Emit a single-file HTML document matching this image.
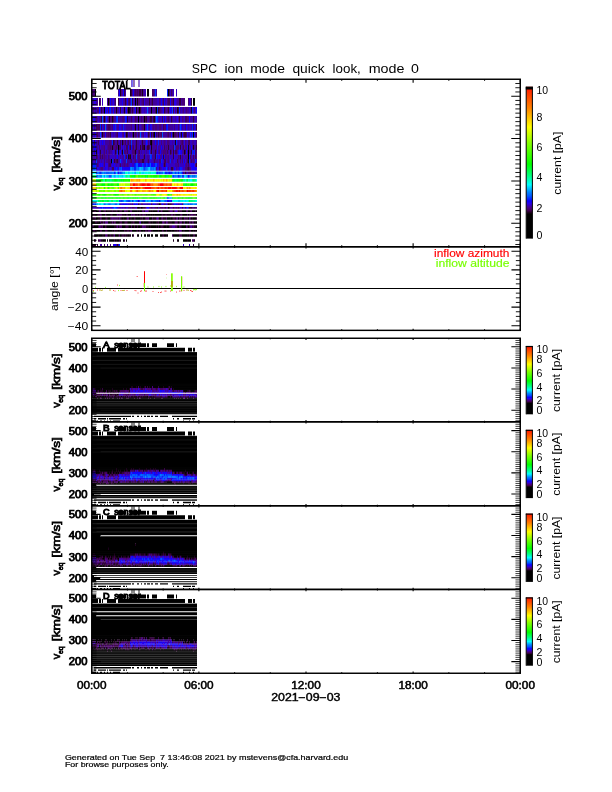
<!DOCTYPE html>
<html><head><meta charset="utf-8"><title>SPC ion mode quick look</title><style>html,body{margin:0;padding:0;background:#fff}body{width:612px;height:792px;overflow:hidden}</style></head><body>
<svg width="612" height="792" viewBox="0 0 612 792" style="display:block;font-family:'Liberation Sans',sans-serif">
<rect width="612" height="792" fill="#fff"/>
<defs><filter id="hb" x="-2%" y="-2%" width="104%" height="104%"><feGaussianBlur stdDeviation="0.4 0"/></filter></defs>
<g filter="url(#hb)">
<path fill="#3500c1" d="M131 80h1v7h-1zM139 80h1v7h-1zM145 89.1h1v7.5h-1zM170 89.1h1v7.5h-1zM173 89.1h1v7.5h-1zM176 89.1h1v7.5h-1zM102 98.1h1v7.6h-1zM112 98.1h1v7.6h-1zM119 98.1h3v7.6h-3zM130 98.1h1v7.6h-1zM133 98.1h2v7.6h-2zM140 98.1h1v7.6h-1zM157 98.1h2v7.6h-2zM166 98.1h1v7.6h-1zM176 98.1h1v7.6h-1zM189 98.1h2v7.6h-2zM92 106.9h1v6.9h-1zM94 106.9h1v6.9h-1zM96 106.9h1v6.9h-1zM100 106.9h1v6.9h-1zM106 106.9h1v6.9h-1zM122 106.9h1v6.9h-1zM125 106.9h1v6.9h-1zM134 106.9h1v6.9h-1zM142 106.9h2v6.9h-2zM145 106.9h2v6.9h-2zM148 106.9h1v6.9h-1zM162 106.9h1v6.9h-1zM169 106.9h1v6.9h-1zM171 106.9h1v6.9h-1zM176 106.9h1v6.9h-1zM181 106.9h1v6.9h-1zM184 106.9h1v6.9h-1zM189 106.9h1v6.9h-1zM193 106.9h1v6.9h-1zM195 106.9h1v6.9h-1zM92 116h1v6.7h-1zM98 116h1v6.7h-1zM107 116h1v6.7h-1zM133 116h1v6.7h-1zM155 116h1v6.7h-1zM158 116h1v6.7h-1zM160 116h2v6.7h-2zM170 116h1v6.7h-1zM173 116h2v6.7h-2zM176 116h1v6.7h-1zM180 116h2v6.7h-2zM184 116h1v6.7h-1zM195 116h1v6.7h-1zM95 124.1h1v6.6h-1zM103 124.1h1v6.6h-1zM106 124.1h1v6.6h-1zM114 124.1h1v6.6h-1zM116 124.1h1v6.6h-1zM121 124.1h1v6.6h-1zM124 124.1h2v6.6h-2zM132 124.1h2v6.6h-2zM136 124.1h2v6.6h-2zM139 124.1h2v6.6h-2zM145 124.1h1v6.6h-1zM148 124.1h1v6.6h-1zM162 124.1h1v6.6h-1zM173 124.1h1v6.6h-1zM175 124.1h3v6.6h-3zM179 124.1h1v6.6h-1zM183 124.1h2v6.6h-2zM187 124.1h1v6.6h-1zM189 124.1h2v6.6h-2zM195 124.1h1v6.6h-1zM92 132h2v5.7h-2zM101 132h1v5.7h-1zM111 132h2v5.7h-2zM114 132h1v5.7h-1zM128 132h1v5.7h-1zM131 132h1v5.7h-1zM137 132h1v5.7h-1zM141 132h1v5.7h-1zM145 132h1v5.7h-1zM147 132h1v5.7h-1zM180 132h1v5.7h-1zM189 132h1v5.7h-1zM191 132h1v5.7h-1zM99 140h1v5.25h-1zM101 140h1v5.25h-1zM103 140h1v5.25h-1zM119 140h1v5.25h-1zM121 140h1v5.25h-1zM126 140h1v5.25h-1zM129 140h1v5.25h-1zM134 140h1v5.25h-1zM139 140h2v5.25h-2zM145 140h1v5.25h-1zM149 140h1v5.25h-1zM160 140h1v5.25h-1zM162 140h1v5.25h-1zM166 140h1v5.25h-1zM170 140h2v5.25h-2zM173 140h2v5.25h-2zM177 140h1v5.25h-1zM179 140h1v5.25h-1zM187 140h1v5.25h-1zM190 140h2v5.25h-2zM194 140h2v5.25h-2zM93 144.9h1v5.15h-1zM98 144.9h1v5.15h-1zM100 144.9h1v5.15h-1zM105 144.9h2v5.15h-2zM125 144.9h1v5.15h-1zM134 144.9h1v5.15h-1zM139 144.9h1v5.15h-1zM145 144.9h1v5.15h-1zM150 144.9h1v5.15h-1zM163 144.9h1v5.15h-1zM175 144.9h1v5.15h-1zM179 144.9h1v5.15h-1zM181 144.9h1v5.15h-1zM184 144.9h1v5.15h-1zM92 149.7h1v4.95h-1zM97 149.7h1v4.95h-1zM101 149.7h2v4.95h-2zM105 149.7h1v4.95h-1zM107 149.7h1v4.95h-1zM112 149.7h1v4.95h-1zM114 149.7h1v4.95h-1zM119 149.7h1v4.95h-1zM128 149.7h4v4.95h-4zM137 149.7h1v4.95h-1zM140 149.7h1v4.95h-1zM142 149.7h2v4.95h-2zM145 149.7h1v4.95h-1zM147 149.7h2v4.95h-2zM152 149.7h1v4.95h-1zM169 149.7h1v4.95h-1zM172 149.7h1v4.95h-1zM174 149.7h1v4.95h-1zM92 154.3h1v4.95h-1zM95 154.3h1v4.95h-1zM98 154.3h1v4.95h-1zM107 154.3h1v4.95h-1zM110 154.3h5v4.95h-5zM116 154.3h1v4.95h-1zM119 154.3h1v4.95h-1zM121 154.3h1v4.95h-1zM131 154.3h2v4.95h-2zM140 154.3h3v4.95h-3zM145 154.3h2v4.95h-2zM149 154.3h1v4.95h-1zM157 154.3h1v4.95h-1zM169 154.3h4v4.95h-4zM175 154.3h3v4.95h-3zM181 154.3h1v4.95h-1zM183 154.3h2v4.95h-2zM192 154.3h1v4.95h-1zM194 154.3h1v4.95h-1zM92 158.9h2v4.45h-2zM100 158.9h1v4.45h-1zM102 158.9h2v4.45h-2zM105 158.9h1v4.45h-1zM113 158.9h1v4.45h-1zM119 158.9h1v4.45h-1zM122 158.9h1v4.45h-1zM132 158.9h2v4.45h-2zM136 158.9h2v4.45h-2zM145 158.9h2v4.45h-2zM149 158.9h1v4.45h-1zM151 158.9h2v4.45h-2zM158 158.9h1v4.45h-1zM163 158.9h1v4.45h-1zM166 158.9h1v4.45h-1zM169 158.9h1v4.45h-1zM173 158.9h1v4.45h-1zM175 158.9h2v4.45h-2zM179 158.9h1v4.45h-1zM181 158.9h1v4.45h-1zM196 158.9h1v4.45h-1zM96 163h1v4h-1zM103 163h1v4h-1zM111 163h1v4h-1zM113 163h1v4h-1zM115 163h1v4h-1zM117 163h2v4h-2zM121 163h1v4h-1zM129 163h1v4h-1zM132 163h2v4h-2zM160 163h1v4h-1zM168 163h7v4h-7zM179 163h5v4h-5zM189 163h1v4h-1zM96 167.1h1v3.6h-1zM99 167.1h1v3.6h-1zM103 167.1h2v3.6h-2zM109 167.1h1v3.6h-1zM111 167.1h1v3.6h-1zM118 167.1h1v3.6h-1zM161 167.1h1v3.6h-1zM170 167.1h1v3.6h-1zM177 167.1h2v3.6h-2zM183 167.1h2v3.6h-2zM184 171.4h1v2.8h-1zM187 171.4h1v2.8h-1zM195 171.4h2v2.8h-2zM120 203.2h1v1.8h-1zM128 203.2h2v1.8h-2zM131 203.2h1v1.8h-1zM140 203.2h1v1.8h-1zM143 203.2h4v1.8h-4zM148 203.2h2v1.8h-2zM152 203.2h1v1.8h-1zM155 203.2h2v1.8h-2zM161 203.2h1v1.8h-1zM163 203.2h1v1.8h-1zM173 203.2h1v1.8h-1zM179 203.2h1v1.8h-1zM92 206.9h4v1.8h-4zM98 206.9h1v1.8h-1zM110 206.9h2v1.8h-2zM118 206.9h1v1.8h-1zM121 206.9h1v1.8h-1zM123 206.9h1v1.8h-1zM126 206.9h2v1.8h-2zM136 206.9h1v1.8h-1zM146 206.9h1v1.8h-1zM180 206.9h2v1.8h-2zM183 206.9h1v1.8h-1zM186 206.9h1v1.8h-1zM176 210.3h1v1.7h-1zM113 244.1h1v1.8h-1zM118 244.1h1v1.8h-1zM183 244.1h1v1.8h-1zM189 244.1h1v1.8h-1z"/>
<path fill="#0905ff" d="M132 80h1v7h-1zM119 89.1h1v7.5h-1zM123 89.1h1v7.5h-1zM133 89.1h1v7.5h-1zM110 98.1h1v7.6h-1zM127 98.1h1v7.6h-1zM161 98.1h1v7.6h-1zM164 98.1h1v7.6h-1zM170 98.1h1v7.6h-1zM99 106.9h1v6.9h-1zM105 106.9h1v6.9h-1zM107 106.9h1v6.9h-1zM109 106.9h1v6.9h-1zM113 106.9h1v6.9h-1zM126 106.9h1v6.9h-1zM170 106.9h1v6.9h-1zM196 106.9h1v6.9h-1zM126 116h1v6.7h-1zM163 116h1v6.7h-1zM189 116h1v6.7h-1zM113 124.1h1v6.6h-1zM166 124.1h1v6.6h-1zM124 132h1v5.7h-1zM171 132h1v5.7h-1zM182 132h1v5.7h-1zM194 132h1v5.7h-1zM102 140h1v5.25h-1zM155 140h1v5.25h-1zM94 144.9h1v5.15h-1zM128 144.9h1v5.15h-1zM131 144.9h1v5.15h-1zM161 144.9h1v5.15h-1zM191 144.9h1v5.15h-1zM160 149.7h1v4.95h-1zM186 149.7h1v4.95h-1zM117 154.3h1v4.95h-1zM159 154.3h1v4.95h-1zM162 154.3h1v4.95h-1zM164 154.3h1v4.95h-1zM92 163h1v4h-1zM134 163h1v4h-1zM139 163h1v4h-1zM148 163h1v4h-1zM151 163h2v4h-2zM193 163h1v4h-1zM122 167.1h1v3.6h-1zM129 167.1h1v3.6h-1zM174 167.1h1v3.6h-1zM179 167.1h1v3.6h-1zM195 167.1h1v3.6h-1zM118 171.4h1v2.8h-1zM169 171.4h1v2.8h-1zM182 171.4h1v2.8h-1zM188 174.9h1v2.8h-1zM138 200.1h1v1.8h-1zM159 200.1h1v1.8h-1zM168 200.1h1v1.8h-1zM123 203.2h1v1.8h-1zM125 203.2h2v1.8h-2zM134 203.2h1v1.8h-1zM136 203.2h1v1.8h-1zM181 203.2h1v1.8h-1zM101 206.9h1v1.8h-1zM103 206.9h1v1.8h-1zM105 206.9h1v1.8h-1zM115 244.1h1v1.8h-1z"/>
<path fill="#43005e" d="M133 80h1v7h-1zM135 89.1h1v7.5h-1zM137 89.1h1v7.5h-1zM152 89.1h1v7.5h-1zM169 89.1h1v7.5h-1zM171 89.1h1v7.5h-1zM115 98.1h1v7.6h-1zM129 98.1h1v7.6h-1zM143 98.1h1v7.6h-1zM163 98.1h1v7.6h-1zM168 98.1h2v7.6h-2zM138 106.9h1v6.9h-1zM155 106.9h1v6.9h-1zM159 106.9h1v6.9h-1zM173 106.9h1v6.9h-1zM113 116h1v6.7h-1zM131 116h1v6.7h-1zM135 116h1v6.7h-1zM141 116h1v6.7h-1zM145 116h1v6.7h-1zM162 116h1v6.7h-1zM168 116h1v6.7h-1zM185 116h2v6.7h-2zM96 124.1h4v6.6h-4zM101 124.1h1v6.6h-1zM108 124.1h2v6.6h-2zM163 124.1h1v6.6h-1zM97 132h1v5.7h-1zM108 132h1v5.7h-1zM117 132h1v5.7h-1zM135 132h1v5.7h-1zM138 132h1v5.7h-1zM156 132h1v5.7h-1zM161 132h1v5.7h-1zM168 132h1v5.7h-1zM174 132h2v5.7h-2zM186 132h1v5.7h-1zM196 132h1v5.7h-1zM94 140h1v5.25h-1zM98 140h1v5.25h-1zM114 140h1v5.25h-1zM120 140h1v5.25h-1zM125 140h1v5.25h-1zM128 140h1v5.25h-1zM182 140h1v5.25h-1zM188 140h2v5.25h-2zM110 144.9h1v5.15h-1zM116 144.9h1v5.15h-1zM119 144.9h2v5.15h-2zM126 144.9h2v5.15h-2zM133 144.9h1v5.15h-1zM149 144.9h1v5.15h-1zM164 144.9h1v5.15h-1zM173 144.9h1v5.15h-1zM183 144.9h1v5.15h-1zM127 149.7h1v4.95h-1zM139 149.7h1v4.95h-1zM167 149.7h1v4.95h-1zM175 149.7h2v4.95h-2zM185 149.7h1v4.95h-1zM195 149.7h1v4.95h-1zM96 154.3h1v4.95h-1zM100 154.3h1v4.95h-1zM102 154.3h1v4.95h-1zM126 154.3h1v4.95h-1zM133 154.3h1v4.95h-1zM190 154.3h1v4.95h-1zM193 154.3h1v4.95h-1zM195 154.3h1v4.95h-1zM116 158.9h1v4.45h-1zM131 158.9h1v4.45h-1zM148 158.9h1v4.45h-1zM154 158.9h1v4.45h-1zM164 158.9h2v4.45h-2zM177 158.9h1v4.45h-1zM187 158.9h1v4.45h-1zM191 158.9h1v4.45h-1zM109 163h2v4h-2zM120 163h1v4h-1zM188 163h1v4h-1zM112 167.1h2v3.6h-2zM159 167.1h1v3.6h-1zM187 167.1h1v3.6h-1zM190 171.4h1v2.8h-1zM151 203.2h1v1.8h-1zM158 203.2h1v1.8h-1zM171 203.2h1v1.8h-1zM132 206.9h2v1.8h-2zM145 206.9h1v1.8h-1zM151 206.9h1v1.8h-1zM155 206.9h2v1.8h-2zM160 206.9h3v1.8h-3zM164 206.9h1v1.8h-1zM176 206.9h1v1.8h-1zM185 206.9h1v1.8h-1zM194 206.9h1v1.8h-1zM100 210.3h1v1.7h-1zM124 210.3h2v1.7h-2zM130 210.3h2v1.7h-2zM142 210.3h2v1.7h-2zM148 210.3h1v1.7h-1zM161 210.3h1v1.7h-1zM172 210.3h1v1.7h-1zM174 210.3h1v1.7h-1zM186 210.3h2v1.7h-2zM191 210.3h1v1.7h-1zM100 214h1v1.8h-1zM105 214h1v1.8h-1zM119 214h3v1.8h-3zM133 214h2v1.8h-2zM143 214h1v1.8h-1zM171 214h2v1.8h-2zM181 214h1v1.8h-1zM187 214h1v1.8h-1zM191 214h2v1.8h-2zM95 217.3h1v2.4h-1zM100 217.3h1v2.4h-1zM111 217.3h1v2.4h-1zM113 217.3h5v2.4h-5zM128 217.3h1v2.4h-1zM146 217.3h2v2.4h-2zM152 217.3h1v2.4h-1zM156 217.3h1v2.4h-1zM158 217.3h1v2.4h-1zM162 217.3h1v2.4h-1zM166 217.3h1v2.4h-1zM176 217.3h1v2.4h-1zM179 217.3h1v2.4h-1zM184 217.3h1v2.4h-1zM100 221.2h1v2.5h-1zM103 221.2h1v2.5h-1zM112 221.2h1v2.5h-1zM114 221.2h1v2.5h-1zM162 221.2h1v2.5h-1zM167 221.2h1v2.5h-1zM175 221.2h2v2.5h-2zM180 221.2h2v2.5h-2zM184 221.2h1v2.5h-1zM189 221.2h1v2.5h-1zM192 221.2h1v2.5h-1zM92 225.3h1v2.6h-1zM100 225.3h1v2.6h-1zM102 225.3h1v2.6h-1zM119 225.3h3v2.6h-3zM131 225.3h1v2.6h-1zM144 225.3h2v2.6h-2zM170 225.3h2v2.6h-2zM175 225.3h2v2.6h-2zM179 225.3h1v2.6h-1zM186 225.3h1v2.6h-1zM193 225.3h1v2.6h-1zM131 230.1h1v1.7h-1zM148 230.1h3v1.7h-3zM181 230.1h1v1.7h-1zM105 234.3h1v2.5h-1zM119 234.3h1v2.5h-1zM172 234.3h1v2.5h-1zM95 239.3h1v2.4h-1zM99 239.3h2v2.4h-2zM192 239.3h2v2.4h-2zM104 244.1h1v1.8h-1z"/>
<path fill="#40009c" d="M134 80h1v7h-1zM138 80h1v7h-1zM118 89.1h1v7.5h-1zM122 89.1h1v7.5h-1zM125 89.1h1v7.5h-1zM132 89.1h1v7.5h-1zM143 89.1h2v7.5h-2zM154 89.1h1v7.5h-1zM156 89.1h1v7.5h-1zM172 89.1h1v7.5h-1zM93 98.1h1v7.6h-1zM96 98.1h2v7.6h-2zM107 98.1h1v7.6h-1zM111 98.1h1v7.6h-1zM114 98.1h1v7.6h-1zM123 98.1h2v7.6h-2zM126 98.1h1v7.6h-1zM136 98.1h1v7.6h-1zM141 98.1h1v7.6h-1zM145 98.1h4v7.6h-4zM150 98.1h1v7.6h-1zM153 98.1h4v7.6h-4zM160 98.1h1v7.6h-1zM162 98.1h1v7.6h-1zM165 98.1h1v7.6h-1zM177 98.1h2v7.6h-2zM181 98.1h1v7.6h-1zM95 106.9h1v6.9h-1zM102 106.9h2v6.9h-2zM111 106.9h2v6.9h-2zM115 106.9h1v6.9h-1zM117 106.9h2v6.9h-2zM123 106.9h1v6.9h-1zM131 106.9h1v6.9h-1zM133 106.9h1v6.9h-1zM137 106.9h1v6.9h-1zM141 106.9h1v6.9h-1zM144 106.9h1v6.9h-1zM149 106.9h2v6.9h-2zM152 106.9h3v6.9h-3zM161 106.9h1v6.9h-1zM166 106.9h1v6.9h-1zM180 106.9h1v6.9h-1zM182 106.9h1v6.9h-1zM185 106.9h1v6.9h-1zM187 106.9h2v6.9h-2zM190 106.9h1v6.9h-1zM95 116h1v6.7h-1zM97 116h1v6.7h-1zM99 116h2v6.7h-2zM103 116h1v6.7h-1zM105 116h1v6.7h-1zM114 116h2v6.7h-2zM119 116h3v6.7h-3zM124 116h1v6.7h-1zM128 116h3v6.7h-3zM132 116h1v6.7h-1zM134 116h1v6.7h-1zM137 116h1v6.7h-1zM139 116h2v6.7h-2zM142 116h1v6.7h-1zM147 116h2v6.7h-2zM152 116h1v6.7h-1zM159 116h1v6.7h-1zM166 116h1v6.7h-1zM169 116h1v6.7h-1zM172 116h1v6.7h-1zM175 116h1v6.7h-1zM178 116h1v6.7h-1zM183 116h1v6.7h-1zM190 116h3v6.7h-3zM194 116h1v6.7h-1zM196 116h1v6.7h-1zM92 124.1h1v6.6h-1zM111 124.1h1v6.6h-1zM117 124.1h2v6.6h-2zM122 124.1h1v6.6h-1zM126 124.1h5v6.6h-5zM134 124.1h1v6.6h-1zM141 124.1h1v6.6h-1zM149 124.1h1v6.6h-1zM152 124.1h1v6.6h-1zM154 124.1h1v6.6h-1zM157 124.1h2v6.6h-2zM161 124.1h1v6.6h-1zM168 124.1h5v6.6h-5zM182 124.1h1v6.6h-1zM188 124.1h1v6.6h-1zM191 124.1h1v6.6h-1zM94 132h1v5.7h-1zM98 132h2v5.7h-2zM113 132h1v5.7h-1zM115 132h1v5.7h-1zM122 132h1v5.7h-1zM125 132h1v5.7h-1zM129 132h2v5.7h-2zM134 132h1v5.7h-1zM139 132h1v5.7h-1zM142 132h1v5.7h-1zM152 132h1v5.7h-1zM157 132h1v5.7h-1zM163 132h4v5.7h-4zM169 132h1v5.7h-1zM177 132h1v5.7h-1zM188 132h1v5.7h-1zM195 132h1v5.7h-1zM96 140h2v5.25h-2zM105 140h4v5.25h-4zM111 140h1v5.25h-1zM115 140h2v5.25h-2zM118 140h1v5.25h-1zM124 140h1v5.25h-1zM132 140h2v5.25h-2zM135 140h1v5.25h-1zM137 140h2v5.25h-2zM141 140h1v5.25h-1zM143 140h2v5.25h-2zM153 140h2v5.25h-2zM156 140h2v5.25h-2zM159 140h1v5.25h-1zM163 140h1v5.25h-1zM165 140h1v5.25h-1zM169 140h1v5.25h-1zM172 140h1v5.25h-1zM178 140h1v5.25h-1zM180 140h1v5.25h-1zM183 140h1v5.25h-1zM186 140h1v5.25h-1zM192 140h2v5.25h-2zM92 144.9h1v5.15h-1zM96 144.9h2v5.15h-2zM101 144.9h3v5.15h-3zM107 144.9h1v5.15h-1zM114 144.9h1v5.15h-1zM117 144.9h1v5.15h-1zM122 144.9h1v5.15h-1zM124 144.9h1v5.15h-1zM137 144.9h2v5.15h-2zM141 144.9h1v5.15h-1zM146 144.9h1v5.15h-1zM152 144.9h4v5.15h-4zM158 144.9h3v5.15h-3zM162 144.9h1v5.15h-1zM165 144.9h1v5.15h-1zM167 144.9h1v5.15h-1zM169 144.9h4v5.15h-4zM189 144.9h2v5.15h-2zM192 144.9h1v5.15h-1zM194 144.9h2v5.15h-2zM99 149.7h1v4.95h-1zM103 149.7h1v4.95h-1zM108 149.7h1v4.95h-1zM110 149.7h2v4.95h-2zM116 149.7h1v4.95h-1zM121 149.7h1v4.95h-1zM126 149.7h1v4.95h-1zM136 149.7h1v4.95h-1zM141 149.7h1v4.95h-1zM144 149.7h1v4.95h-1zM146 149.7h1v4.95h-1zM150 149.7h1v4.95h-1zM153 149.7h2v4.95h-2zM156 149.7h1v4.95h-1zM158 149.7h1v4.95h-1zM161 149.7h2v4.95h-2zM166 149.7h1v4.95h-1zM168 149.7h1v4.95h-1zM177 149.7h1v4.95h-1zM182 149.7h2v4.95h-2zM187 149.7h1v4.95h-1zM189 149.7h2v4.95h-2zM93 154.3h2v4.95h-2zM99 154.3h1v4.95h-1zM101 154.3h1v4.95h-1zM103 154.3h1v4.95h-1zM105 154.3h2v4.95h-2zM109 154.3h1v4.95h-1zM115 154.3h1v4.95h-1zM118 154.3h1v4.95h-1zM120 154.3h1v4.95h-1zM122 154.3h2v4.95h-2zM125 154.3h1v4.95h-1zM134 154.3h1v4.95h-1zM137 154.3h1v4.95h-1zM143 154.3h1v4.95h-1zM147 154.3h2v4.95h-2zM152 154.3h3v4.95h-3zM160 154.3h2v4.95h-2zM166 154.3h2v4.95h-2zM179 154.3h1v4.95h-1zM185 154.3h3v4.95h-3zM191 154.3h1v4.95h-1zM95 158.9h1v4.45h-1zM97 158.9h3v4.45h-3zM101 158.9h1v4.45h-1zM106 158.9h2v4.45h-2zM110 158.9h1v4.45h-1zM118 158.9h1v4.45h-1zM123 158.9h3v4.45h-3zM127 158.9h3v4.45h-3zM134 158.9h1v4.45h-1zM144 158.9h1v4.45h-1zM147 158.9h1v4.45h-1zM153 158.9h1v4.45h-1zM155 158.9h3v4.45h-3zM167 158.9h1v4.45h-1zM171 158.9h2v4.45h-2zM178 158.9h1v4.45h-1zM184 158.9h1v4.45h-1zM186 158.9h1v4.45h-1zM190 158.9h1v4.45h-1zM192 158.9h1v4.45h-1zM194 158.9h1v4.45h-1zM98 163h1v4h-1zM116 163h1v4h-1zM119 163h1v4h-1zM122 163h2v4h-2zM125 163h2v4h-2zM128 163h1v4h-1zM159 163h1v4h-1zM163 163h1v4h-1zM175 163h3v4h-3zM185 163h1v4h-1zM187 163h1v4h-1zM100 167.1h1v3.6h-1zM108 167.1h1v3.6h-1zM156 167.1h1v3.6h-1zM160 167.1h1v3.6h-1zM168 167.1h1v3.6h-1zM173 167.1h1v3.6h-1zM176 167.1h1v3.6h-1zM190 167.1h1v3.6h-1zM186 171.4h1v2.8h-1zM192 171.4h1v2.8h-1zM194 171.4h1v2.8h-1zM130 203.2h1v1.8h-1zM139 203.2h1v1.8h-1zM147 203.2h1v1.8h-1zM165 203.2h1v1.8h-1zM172 203.2h1v1.8h-1zM178 203.2h1v1.8h-1zM96 206.9h2v1.8h-2zM119 206.9h2v1.8h-2zM122 206.9h1v1.8h-1zM124 206.9h1v1.8h-1zM131 206.9h1v1.8h-1zM135 206.9h1v1.8h-1zM149 206.9h1v1.8h-1zM153 206.9h1v1.8h-1zM158 206.9h1v1.8h-1zM166 206.9h1v1.8h-1zM170 206.9h2v1.8h-2zM188 206.9h1v1.8h-1zM145 210.3h3v1.7h-3zM158 210.3h1v1.7h-1zM175 210.3h1v1.7h-1zM157 217.3h1v2.4h-1zM140 221.2h1v2.5h-1zM172 225.3h3v2.6h-3zM191 225.3h1v2.6h-1zM100 244.1h2v1.8h-2zM107 244.1h1v1.8h-1zM116 244.1h1v1.8h-1z"/>
<path fill="#48007a" d="M92 89.1h3v7.5h-3zM121 89.1h1v7.5h-1zM134 89.1h1v7.5h-1zM136 89.1h1v7.5h-1zM138 89.1h1v7.5h-1zM141 89.1h1v7.5h-1zM153 89.1h1v7.5h-1zM100 98.1h1v7.6h-1zM109 98.1h1v7.6h-1zM128 98.1h1v7.6h-1zM138 98.1h2v7.6h-2zM142 98.1h1v7.6h-1zM151 98.1h1v7.6h-1zM159 98.1h1v7.6h-1zM167 98.1h1v7.6h-1zM171 98.1h2v7.6h-2zM182 98.1h3v7.6h-3zM188 98.1h1v7.6h-1zM93 106.9h1v6.9h-1zM97 106.9h2v6.9h-2zM108 106.9h1v6.9h-1zM114 106.9h1v6.9h-1zM127 106.9h1v6.9h-1zM160 106.9h1v6.9h-1zM165 106.9h1v6.9h-1zM167 106.9h1v6.9h-1zM175 106.9h1v6.9h-1zM183 106.9h1v6.9h-1zM186 106.9h1v6.9h-1zM194 106.9h1v6.9h-1zM96 116h1v6.7h-1zM108 116h1v6.7h-1zM110 116h2v6.7h-2zM118 116h1v6.7h-1zM122 116h2v6.7h-2zM136 116h1v6.7h-1zM143 116h1v6.7h-1zM149 116h1v6.7h-1zM164 116h1v6.7h-1zM167 116h1v6.7h-1zM182 116h1v6.7h-1zM187 116h2v6.7h-2zM94 124.1h1v6.6h-1zM104 124.1h1v6.6h-1zM107 124.1h1v6.6h-1zM110 124.1h1v6.6h-1zM112 124.1h1v6.6h-1zM131 124.1h1v6.6h-1zM142 124.1h2v6.6h-2zM153 124.1h1v6.6h-1zM155 124.1h2v6.6h-2zM159 124.1h2v6.6h-2zM164 124.1h2v6.6h-2zM174 124.1h1v6.6h-1zM178 124.1h1v6.6h-1zM185 124.1h1v6.6h-1zM193 124.1h1v6.6h-1zM96 132h1v5.7h-1zM103 132h2v5.7h-2zM106 132h2v5.7h-2zM109 132h1v5.7h-1zM116 132h1v5.7h-1zM123 132h1v5.7h-1zM132 132h1v5.7h-1zM136 132h1v5.7h-1zM143 132h1v5.7h-1zM149 132h1v5.7h-1zM159 132h2v5.7h-2zM167 132h1v5.7h-1zM170 132h1v5.7h-1zM172 132h1v5.7h-1zM176 132h1v5.7h-1zM183 132h1v5.7h-1zM109 140h2v5.25h-2zM123 140h1v5.25h-1zM127 140h1v5.25h-1zM130 140h1v5.25h-1zM148 140h1v5.25h-1zM152 140h1v5.25h-1zM161 140h1v5.25h-1zM164 140h1v5.25h-1zM167 140h2v5.25h-2zM181 140h1v5.25h-1zM185 140h1v5.25h-1zM196 140h1v5.25h-1zM99 144.9h1v5.15h-1zM104 144.9h1v5.15h-1zM108 144.9h2v5.15h-2zM111 144.9h1v5.15h-1zM113 144.9h1v5.15h-1zM115 144.9h1v5.15h-1zM129 144.9h1v5.15h-1zM132 144.9h1v5.15h-1zM135 144.9h1v5.15h-1zM156 144.9h1v5.15h-1zM166 144.9h1v5.15h-1zM176 144.9h3v5.15h-3zM182 144.9h1v5.15h-1zM185 144.9h2v5.15h-2zM94 149.7h1v4.95h-1zM104 149.7h1v4.95h-1zM106 149.7h1v4.95h-1zM109 149.7h1v4.95h-1zM124 149.7h2v4.95h-2zM132 149.7h3v4.95h-3zM138 149.7h1v4.95h-1zM159 149.7h1v4.95h-1zM163 149.7h3v4.95h-3zM171 149.7h1v4.95h-1zM196 149.7h1v4.95h-1zM97 154.3h1v4.95h-1zM104 154.3h1v4.95h-1zM108 154.3h1v4.95h-1zM135 154.3h1v4.95h-1zM138 154.3h2v4.95h-2zM165 154.3h1v4.95h-1zM168 154.3h1v4.95h-1zM178 154.3h1v4.95h-1zM182 154.3h1v4.95h-1zM196 154.3h1v4.95h-1zM104 158.9h1v4.45h-1zM108 158.9h2v4.45h-2zM115 158.9h1v4.45h-1zM130 158.9h1v4.45h-1zM135 158.9h1v4.45h-1zM138 158.9h4v4.45h-4zM159 158.9h2v4.45h-2zM168 158.9h1v4.45h-1zM180 158.9h1v4.45h-1zM182 158.9h1v4.45h-1zM193 158.9h1v4.45h-1zM97 163h1v4h-1zM104 163h1v4h-1zM108 163h1v4h-1zM124 163h1v4h-1zM127 163h1v4h-1zM165 163h1v4h-1zM178 163h1v4h-1zM186 163h1v4h-1zM195 163h1v4h-1zM101 167.1h2v3.6h-2zM185 167.1h2v3.6h-2zM189 167.1h1v3.6h-1zM183 171.4h1v2.8h-1zM188 171.4h2v2.8h-2zM191 171.4h1v2.8h-1zM193 171.4h1v2.8h-1zM132 203.2h1v1.8h-1zM141 203.2h2v1.8h-2zM157 203.2h1v1.8h-1zM164 203.2h1v1.8h-1zM167 203.2h1v1.8h-1zM182 203.2h1v1.8h-1zM125 206.9h1v1.8h-1zM128 206.9h3v1.8h-3zM134 206.9h1v1.8h-1zM150 206.9h1v1.8h-1zM152 206.9h1v1.8h-1zM154 206.9h1v1.8h-1zM159 206.9h1v1.8h-1zM163 206.9h1v1.8h-1zM167 206.9h1v1.8h-1zM172 206.9h1v1.8h-1zM174 206.9h2v1.8h-2zM177 206.9h1v1.8h-1zM179 206.9h1v1.8h-1zM192 206.9h2v1.8h-2zM195 206.9h2v1.8h-2zM99 210.3h1v1.7h-1zM170 210.3h2v1.7h-2zM177 210.3h1v1.7h-1zM117 214h1v1.8h-1zM131 214h1v1.8h-1zM112 217.3h1v2.4h-1zM119 217.3h1v2.4h-1zM127 217.3h1v2.4h-1zM148 217.3h1v2.4h-1zM177 217.3h1v2.4h-1zM189 217.3h1v2.4h-1zM105 221.2h3v2.5h-3zM139 221.2h1v2.5h-1zM163 221.2h1v2.5h-1zM166 221.2h1v2.5h-1zM99 225.3h1v2.6h-1zM117 225.3h1v2.6h-1zM142 225.3h2v2.6h-2zM190 225.3h1v2.6h-1zM179 230.1h2v1.7h-2zM106 234.3h1v2.5h-1zM114 234.3h1v2.5h-1zM110 244.1h1v1.8h-1z"/>
<path fill="#000000" d="M95 89.1h1v7.5h-1zM147 89.1h2v7.5h-2zM168 89.1h1v7.5h-1zM108 98.1h1v7.6h-1zM135 98.1h1v7.6h-1zM193 98.1h2v7.6h-2zM104 106.9h1v6.9h-1zM128 106.9h1v6.9h-1zM139 106.9h1v6.9h-1zM151 106.9h1v6.9h-1zM156 106.9h1v6.9h-1zM138 116h1v6.7h-1zM144 116h1v6.7h-1zM133 132h1v5.7h-1zM154 132h1v5.7h-1zM173 132h1v5.7h-1zM193 132h1v5.7h-1zM151 140h1v5.25h-1zM118 144.9h1v5.15h-1zM188 149.7h1v4.95h-1zM188 154.3h1v4.95h-1zM111 158.9h1v4.45h-1zM159 203.2h1v1.8h-1zM138 206.9h1v1.8h-1zM141 206.9h1v1.8h-1zM168 206.9h1v1.8h-1zM92 210.3h1v1.7h-1zM96 210.3h2v1.7h-2zM101 210.3h2v1.7h-2zM106 210.3h1v1.7h-1zM118 210.3h1v1.7h-1zM122 210.3h2v1.7h-2zM128 210.3h2v1.7h-2zM132 210.3h5v1.7h-5zM138 210.3h1v1.7h-1zM140 210.3h2v1.7h-2zM149 210.3h1v1.7h-1zM151 210.3h1v1.7h-1zM153 210.3h4v1.7h-4zM159 210.3h1v1.7h-1zM163 210.3h5v1.7h-5zM182 210.3h4v1.7h-4zM188 210.3h2v1.7h-2zM192 210.3h3v1.7h-3zM196 210.3h1v1.7h-1zM92 214h1v1.8h-1zM96 214h1v1.8h-1zM102 214h3v1.8h-3zM107 214h3v1.8h-3zM113 214h3v1.8h-3zM125 214h1v1.8h-1zM128 214h3v1.8h-3zM138 214h1v1.8h-1zM146 214h1v1.8h-1zM148 214h2v1.8h-2zM151 214h1v1.8h-1zM153 214h1v1.8h-1zM155 214h6v1.8h-6zM176 214h4v1.8h-4zM183 214h4v1.8h-4zM188 214h1v1.8h-1zM196 214h1v1.8h-1zM96 217.3h2v2.4h-2zM102 217.3h3v2.4h-3zM108 217.3h2v2.4h-2zM122 217.3h1v2.4h-1zM124 217.3h2v2.4h-2zM129 217.3h1v2.4h-1zM132 217.3h2v2.4h-2zM136 217.3h4v2.4h-4zM143 217.3h2v2.4h-2zM149 217.3h3v2.4h-3zM159 217.3h2v2.4h-2zM167 217.3h3v2.4h-3zM171 217.3h1v2.4h-1zM178 217.3h1v2.4h-1zM182 217.3h2v2.4h-2zM188 217.3h1v2.4h-1zM191 217.3h1v2.4h-1zM193 217.3h3v2.4h-3zM92 221.2h3v2.5h-3zM99 221.2h1v2.5h-1zM108 221.2h2v2.5h-2zM116 221.2h3v2.5h-3zM122 221.2h2v2.5h-2zM128 221.2h3v2.5h-3zM135 221.2h4v2.5h-4zM141 221.2h2v2.5h-2zM144 221.2h4v2.5h-4zM151 221.2h1v2.5h-1zM153 221.2h3v2.5h-3zM159 221.2h3v2.5h-3zM172 221.2h2v2.5h-2zM178 221.2h1v2.5h-1zM182 221.2h1v2.5h-1zM185 221.2h2v2.5h-2zM188 221.2h1v2.5h-1zM194 221.2h1v2.5h-1zM196 221.2h1v2.5h-1zM94 225.3h4v2.6h-4zM103 225.3h2v2.6h-2zM107 225.3h7v2.6h-7zM122 225.3h3v2.6h-3zM129 225.3h2v2.6h-2zM132 225.3h2v2.6h-2zM135 225.3h2v2.6h-2zM138 225.3h2v2.6h-2zM149 225.3h1v2.6h-1zM151 225.3h5v2.6h-5zM157 225.3h1v2.6h-1zM159 225.3h1v2.6h-1zM164 225.3h2v2.6h-2zM167 225.3h2v2.6h-2zM178 225.3h1v2.6h-1zM182 225.3h4v2.6h-4zM188 225.3h1v2.6h-1zM196 225.3h1v2.6h-1zM92 230.1h1v1.7h-1zM97 230.1h3v1.7h-3zM102 230.1h3v1.7h-3zM108 230.1h4v1.7h-4zM113 230.1h1v1.7h-1zM118 230.1h1v1.7h-1zM120 230.1h4v1.7h-4zM132 230.1h4v1.7h-4zM138 230.1h1v1.7h-1zM141 230.1h2v1.7h-2zM144 230.1h1v1.7h-1zM153 230.1h5v1.7h-5zM159 230.1h3v1.7h-3zM164 230.1h2v1.7h-2zM167 230.1h4v1.7h-4zM172 230.1h2v1.7h-2zM182 230.1h1v1.7h-1zM185 230.1h4v1.7h-4zM191 230.1h2v1.7h-2zM194 230.1h1v1.7h-1zM196 230.1h1v1.7h-1zM95 234.3h3v2.5h-3zM99 234.3h3v2.5h-3zM104 234.3h1v2.5h-1zM108 234.3h1v2.5h-1zM115 234.3h3v2.5h-3zM120 234.3h1v2.5h-1zM128 234.3h1v2.5h-1zM132 234.3h1v2.5h-1zM138 234.3h1v2.5h-1zM141 234.3h1v2.5h-1zM144 234.3h2v2.5h-2zM147 234.3h1v2.5h-1zM149 234.3h1v2.5h-1zM151 234.3h2v2.5h-2zM155 234.3h3v2.5h-3zM160 234.3h2v2.5h-2zM164 234.3h2v2.5h-2zM167 234.3h1v2.5h-1zM173 234.3h6v2.5h-6zM182 234.3h5v2.5h-5zM188 234.3h1v2.5h-1zM190 234.3h3v2.5h-3zM195 234.3h2v2.5h-2zM94 239.3h1v2.4h-1zM103 239.3h2v2.4h-2zM107 239.3h1v2.4h-1zM110 239.3h4v2.4h-4zM115 239.3h1v2.4h-1zM117 239.3h2v2.4h-2zM123 239.3h1v2.4h-1zM126 239.3h1v2.4h-1zM178 239.3h1v2.4h-1zM183 239.3h4v2.4h-4zM188 239.3h3v2.4h-3z"/>
<path fill="#1b001b" d="M120 89.1h1v7.5h-1zM130 89.1h1v7.5h-1zM142 89.1h1v7.5h-1zM137 98.1h1v7.6h-1zM116 106.9h1v6.9h-1zM124 106.9h1v6.9h-1zM129 106.9h1v6.9h-1zM136 106.9h1v6.9h-1zM177 106.9h1v6.9h-1zM191 106.9h1v6.9h-1zM104 116h1v6.7h-1zM109 116h1v6.7h-1zM112 116h1v6.7h-1zM154 116h1v6.7h-1zM135 124.1h1v6.6h-1zM144 124.1h1v6.6h-1zM102 132h1v5.7h-1zM126 132h1v5.7h-1zM181 132h1v5.7h-1zM122 140h1v5.25h-1zM150 140h1v5.25h-1zM175 140h1v5.25h-1zM112 144.9h1v5.15h-1zM144 144.9h1v5.15h-1zM151 144.9h1v5.15h-1zM188 144.9h1v5.15h-1zM193 144.9h1v5.15h-1zM96 149.7h1v4.95h-1zM118 149.7h1v4.95h-1zM122 149.7h1v4.95h-1zM135 149.7h1v4.95h-1zM184 149.7h1v4.95h-1zM128 154.3h1v4.95h-1zM130 154.3h1v4.95h-1zM188 158.9h1v4.45h-1zM168 203.2h1v1.8h-1zM137 206.9h1v1.8h-1zM139 206.9h1v1.8h-1zM142 206.9h1v1.8h-1zM93 210.3h1v1.7h-1zM98 210.3h1v1.7h-1zM103 210.3h1v1.7h-1zM107 210.3h5v1.7h-5zM113 210.3h3v1.7h-3zM117 210.3h1v1.7h-1zM119 210.3h1v1.7h-1zM137 210.3h1v1.7h-1zM139 210.3h1v1.7h-1zM144 210.3h1v1.7h-1zM150 210.3h1v1.7h-1zM152 210.3h1v1.7h-1zM160 210.3h1v1.7h-1zM162 210.3h1v1.7h-1zM168 210.3h1v1.7h-1zM173 210.3h1v1.7h-1zM178 210.3h1v1.7h-1zM95 214h1v1.8h-1zM97 214h1v1.8h-1zM106 214h1v1.8h-1zM110 214h1v1.8h-1zM112 214h1v1.8h-1zM116 214h1v1.8h-1zM122 214h3v1.8h-3zM135 214h2v1.8h-2zM141 214h1v1.8h-1zM147 214h1v1.8h-1zM150 214h1v1.8h-1zM152 214h1v1.8h-1zM154 214h1v1.8h-1zM161 214h1v1.8h-1zM163 214h2v1.8h-2zM167 214h4v1.8h-4zM173 214h1v1.8h-1zM175 214h1v1.8h-1zM182 214h1v1.8h-1zM98 217.3h2v2.4h-2zM105 217.3h1v2.4h-1zM107 217.3h1v2.4h-1zM121 217.3h1v2.4h-1zM123 217.3h1v2.4h-1zM126 217.3h1v2.4h-1zM130 217.3h2v2.4h-2zM135 217.3h1v2.4h-1zM140 217.3h2v2.4h-2zM153 217.3h3v2.4h-3zM163 217.3h3v2.4h-3zM170 217.3h1v2.4h-1zM172 217.3h1v2.4h-1zM175 217.3h1v2.4h-1zM192 217.3h1v2.4h-1zM97 221.2h2v2.5h-2zM101 221.2h2v2.5h-2zM104 221.2h1v2.5h-1zM110 221.2h2v2.5h-2zM113 221.2h1v2.5h-1zM119 221.2h1v2.5h-1zM124 221.2h1v2.5h-1zM127 221.2h1v2.5h-1zM131 221.2h2v2.5h-2zM134 221.2h1v2.5h-1zM143 221.2h1v2.5h-1zM148 221.2h1v2.5h-1zM150 221.2h1v2.5h-1zM152 221.2h1v2.5h-1zM156 221.2h2v2.5h-2zM165 221.2h1v2.5h-1zM168 221.2h4v2.5h-4zM174 221.2h1v2.5h-1zM183 221.2h1v2.5h-1zM187 221.2h1v2.5h-1zM191 221.2h1v2.5h-1zM195 221.2h1v2.5h-1zM106 225.3h1v2.6h-1zM114 225.3h2v2.6h-2zM118 225.3h1v2.6h-1zM125 225.3h1v2.6h-1zM128 225.3h1v2.6h-1zM140 225.3h2v2.6h-2zM146 225.3h3v2.6h-3zM150 225.3h1v2.6h-1zM156 225.3h1v2.6h-1zM160 225.3h1v2.6h-1zM163 225.3h1v2.6h-1zM166 225.3h1v2.6h-1zM177 225.3h1v2.6h-1zM181 225.3h1v2.6h-1zM194 225.3h2v2.6h-2zM95 230.1h2v1.7h-2zM107 230.1h1v1.7h-1zM112 230.1h1v1.7h-1zM115 230.1h3v1.7h-3zM119 230.1h1v1.7h-1zM125 230.1h2v1.7h-2zM129 230.1h1v1.7h-1zM136 230.1h1v1.7h-1zM143 230.1h1v1.7h-1zM147 230.1h1v1.7h-1zM151 230.1h2v1.7h-2zM158 230.1h1v1.7h-1zM163 230.1h1v1.7h-1zM171 230.1h1v1.7h-1zM174 230.1h3v1.7h-3zM178 230.1h1v1.7h-1zM183 230.1h2v1.7h-2zM193 230.1h1v1.7h-1zM195 230.1h1v1.7h-1zM98 234.3h1v2.5h-1zM102 234.3h2v2.5h-2zM109 234.3h1v2.5h-1zM111 234.3h2v2.5h-2zM118 234.3h1v2.5h-1zM121 234.3h1v2.5h-1zM124 234.3h1v2.5h-1zM126 234.3h2v2.5h-2zM129 234.3h2v2.5h-2zM137 234.3h1v2.5h-1zM148 234.3h1v2.5h-1zM162 234.3h1v2.5h-1zM166 234.3h1v2.5h-1zM187 234.3h1v2.5h-1zM101 239.3h2v2.4h-2zM105 239.3h1v2.4h-1zM109 239.3h1v2.4h-1zM116 239.3h1v2.4h-1zM120 239.3h1v2.4h-1zM173 239.3h1v2.4h-1zM177 239.3h1v2.4h-1zM187 239.3h1v2.4h-1zM194 239.3h1v2.4h-1zM92 244.1h1v1.8h-1zM94 244.1h1v1.8h-1z"/>
<path fill="#34003e" d="M124 89.1h1v7.5h-1zM131 89.1h1v7.5h-1zM139 89.1h2v7.5h-2zM99 98.1h1v7.6h-1zM118 98.1h1v7.6h-1zM125 98.1h1v7.6h-1zM132 98.1h1v7.6h-1zM149 98.1h1v7.6h-1zM152 98.1h1v7.6h-1zM173 98.1h1v7.6h-1zM179 98.1h2v7.6h-2zM191 98.1h1v7.6h-1zM101 106.9h1v6.9h-1zM120 106.9h1v6.9h-1zM130 106.9h1v6.9h-1zM132 106.9h1v6.9h-1zM140 106.9h1v6.9h-1zM158 106.9h1v6.9h-1zM164 106.9h1v6.9h-1zM168 106.9h1v6.9h-1zM178 106.9h1v6.9h-1zM101 116h1v6.7h-1zM127 116h1v6.7h-1zM146 116h1v6.7h-1zM150 116h2v6.7h-2zM153 116h1v6.7h-1zM171 116h1v6.7h-1zM179 116h1v6.7h-1zM193 116h1v6.7h-1zM138 124.1h1v6.6h-1zM196 124.1h1v6.6h-1zM110 132h1v5.7h-1zM127 132h1v5.7h-1zM148 132h1v5.7h-1zM151 132h1v5.7h-1zM153 132h1v5.7h-1zM158 132h1v5.7h-1zM178 132h1v5.7h-1zM184 132h2v5.7h-2zM113 140h1v5.25h-1zM117 140h1v5.25h-1zM136 140h1v5.25h-1zM142 140h1v5.25h-1zM130 144.9h1v5.15h-1zM136 144.9h1v5.15h-1zM140 144.9h1v5.15h-1zM142 144.9h2v5.15h-2zM147 144.9h2v5.15h-2zM168 144.9h1v5.15h-1zM180 144.9h1v5.15h-1zM196 144.9h1v5.15h-1zM100 149.7h1v4.95h-1zM115 149.7h1v4.95h-1zM151 149.7h1v4.95h-1zM155 149.7h1v4.95h-1zM170 149.7h1v4.95h-1zM173 149.7h1v4.95h-1zM191 149.7h1v4.95h-1zM129 154.3h1v4.95h-1zM144 154.3h1v4.95h-1zM155 154.3h1v4.95h-1zM163 154.3h1v4.95h-1zM173 154.3h1v4.95h-1zM180 154.3h1v4.95h-1zM114 158.9h1v4.45h-1zM117 158.9h1v4.45h-1zM142 158.9h2v4.45h-2zM164 163h1v4h-1zM196 163h1v4h-1zM171 167.1h2v3.6h-2zM188 167.1h1v3.6h-1zM185 171.4h1v2.8h-1zM138 203.2h1v1.8h-1zM160 203.2h1v1.8h-1zM169 203.2h2v1.8h-2zM140 206.9h1v1.8h-1zM143 206.9h2v1.8h-2zM157 206.9h1v1.8h-1zM165 206.9h1v1.8h-1zM169 206.9h1v1.8h-1zM173 206.9h1v1.8h-1zM178 206.9h1v1.8h-1zM182 206.9h1v1.8h-1zM189 206.9h3v1.8h-3zM94 210.3h2v1.7h-2zM104 210.3h2v1.7h-2zM112 210.3h1v1.7h-1zM116 210.3h1v1.7h-1zM120 210.3h2v1.7h-2zM126 210.3h2v1.7h-2zM157 210.3h1v1.7h-1zM169 210.3h1v1.7h-1zM179 210.3h3v1.7h-3zM190 210.3h1v1.7h-1zM195 210.3h1v1.7h-1zM93 214h2v1.8h-2zM98 214h2v1.8h-2zM101 214h1v1.8h-1zM111 214h1v1.8h-1zM118 214h1v1.8h-1zM126 214h2v1.8h-2zM132 214h1v1.8h-1zM137 214h1v1.8h-1zM139 214h2v1.8h-2zM142 214h1v1.8h-1zM144 214h2v1.8h-2zM162 214h1v1.8h-1zM165 214h2v1.8h-2zM174 214h1v1.8h-1zM180 214h1v1.8h-1zM189 214h2v1.8h-2zM193 214h3v1.8h-3zM92 217.3h3v2.4h-3zM101 217.3h1v2.4h-1zM106 217.3h1v2.4h-1zM110 217.3h1v2.4h-1zM118 217.3h1v2.4h-1zM120 217.3h1v2.4h-1zM134 217.3h1v2.4h-1zM142 217.3h1v2.4h-1zM145 217.3h1v2.4h-1zM161 217.3h1v2.4h-1zM173 217.3h2v2.4h-2zM180 217.3h2v2.4h-2zM185 217.3h3v2.4h-3zM190 217.3h1v2.4h-1zM196 217.3h1v2.4h-1zM95 221.2h2v2.5h-2zM115 221.2h1v2.5h-1zM120 221.2h2v2.5h-2zM125 221.2h2v2.5h-2zM133 221.2h1v2.5h-1zM149 221.2h1v2.5h-1zM158 221.2h1v2.5h-1zM164 221.2h1v2.5h-1zM177 221.2h1v2.5h-1zM179 221.2h1v2.5h-1zM190 221.2h1v2.5h-1zM193 221.2h1v2.5h-1zM93 225.3h1v2.6h-1zM98 225.3h1v2.6h-1zM101 225.3h1v2.6h-1zM105 225.3h1v2.6h-1zM116 225.3h1v2.6h-1zM126 225.3h2v2.6h-2zM134 225.3h1v2.6h-1zM137 225.3h1v2.6h-1zM158 225.3h1v2.6h-1zM161 225.3h2v2.6h-2zM169 225.3h1v2.6h-1zM180 225.3h1v2.6h-1zM187 225.3h1v2.6h-1zM189 225.3h1v2.6h-1zM192 225.3h1v2.6h-1zM93 230.1h2v1.7h-2zM100 230.1h2v1.7h-2zM105 230.1h2v1.7h-2zM114 230.1h1v1.7h-1zM124 230.1h1v1.7h-1zM127 230.1h2v1.7h-2zM130 230.1h1v1.7h-1zM137 230.1h1v1.7h-1zM139 230.1h2v1.7h-2zM145 230.1h2v1.7h-2zM162 230.1h1v1.7h-1zM166 230.1h1v1.7h-1zM177 230.1h1v1.7h-1zM189 230.1h2v1.7h-2zM94 234.3h1v2.5h-1zM107 234.3h1v2.5h-1zM110 234.3h1v2.5h-1zM113 234.3h1v2.5h-1zM122 234.3h2v2.5h-2zM125 234.3h1v2.5h-1zM133 234.3h1v2.5h-1zM163 234.3h1v2.5h-1zM179 234.3h3v2.5h-3zM189 234.3h1v2.5h-1zM193 234.3h2v2.5h-2zM98 239.3h1v2.4h-1zM114 239.3h1v2.4h-1zM119 239.3h1v2.4h-1zM124 239.3h1v2.4h-1zM93 244.1h1v1.8h-1zM95 244.1h1v1.8h-1zM97 244.1h1v1.8h-1zM117 244.1h1v1.8h-1zM193 244.1h1v1.8h-1z"/>
<path fill="#033cff" d="M155 89.1h1v7.5h-1zM131 98.1h1v7.6h-1zM172 106.9h1v6.9h-1zM117 116h1v6.7h-1zM147 124.1h1v6.6h-1zM180 124.1h1v6.6h-1zM100 132h1v5.7h-1zM131 140h1v5.25h-1zM174 144.9h1v5.15h-1zM136 154.3h1v4.95h-1zM150 154.3h1v4.95h-1zM96 158.9h1v4.45h-1zM120 158.9h1v4.45h-1zM126 158.9h1v4.45h-1zM142 163h1v4h-1zM146 163h1v4h-1zM155 163h2v4h-2zM92 167.1h3v3.6h-3zM119 167.1h2v3.6h-2zM144 167.1h1v3.6h-1zM166 167.1h1v3.6h-1zM96 171.4h1v2.8h-1zM99 171.4h1v2.8h-1zM120 171.4h1v2.8h-1zM159 171.4h1v2.8h-1zM167 171.4h1v2.8h-1zM175 171.4h1v2.8h-1zM173 174.9h1v2.8h-1zM182 174.9h2v2.8h-2zM121 200.1h1v1.8h-1zM128 200.1h2v1.8h-2zM132 200.1h1v1.8h-1zM139 200.1h1v1.8h-1zM143 200.1h2v1.8h-2zM151 200.1h1v1.8h-1zM157 200.1h1v1.8h-1zM94 203.2h1v1.8h-1zM102 206.9h1v1.8h-1zM115 206.9h1v1.8h-1zM119 244.1h1v1.8h-1z"/>
<path fill="#0621ff" d="M167 89.1h1v7.5h-1zM110 106.9h1v6.9h-1zM157 106.9h1v6.9h-1zM179 106.9h1v6.9h-1zM192 106.9h1v6.9h-1zM106 116h1v6.7h-1zM116 116h1v6.7h-1zM125 116h1v6.7h-1zM157 116h1v6.7h-1zM100 124.1h1v6.6h-1zM115 124.1h1v6.6h-1zM123 124.1h1v6.6h-1zM167 124.1h1v6.6h-1zM192 124.1h1v6.6h-1zM190 132h1v5.7h-1zM192 132h1v5.7h-1zM112 140h1v5.25h-1zM146 140h1v5.25h-1zM158 140h1v5.25h-1zM176 140h1v5.25h-1zM117 149.7h1v4.95h-1zM123 149.7h1v4.95h-1zM149 149.7h1v4.95h-1zM179 149.7h1v4.95h-1zM192 149.7h1v4.95h-1zM194 149.7h1v4.95h-1zM124 154.3h1v4.95h-1zM151 154.3h1v4.95h-1zM156 154.3h1v4.95h-1zM112 158.9h1v4.45h-1zM161 158.9h1v4.45h-1zM170 158.9h1v4.45h-1zM189 158.9h1v4.45h-1zM195 158.9h1v4.45h-1zM93 163h3v4h-3zM135 163h1v4h-1zM143 163h1v4h-1zM147 163h1v4h-1zM149 163h1v4h-1zM116 167.1h1v3.6h-1zM134 167.1h2v3.6h-2zM180 167.1h2v3.6h-2zM100 171.4h1v2.8h-1zM114 171.4h1v2.8h-1zM157 171.4h1v2.8h-1zM165 171.4h2v2.8h-2zM168 171.4h1v2.8h-1zM170 171.4h2v2.8h-2zM178 171.4h1v2.8h-1zM178 174.9h1v2.8h-1zM167 197.2h1v1.6h-1zM169 200.1h2v1.8h-2zM92 203.2h2v1.8h-2zM95 203.2h1v1.8h-1zM119 203.2h1v1.8h-1zM174 203.2h2v1.8h-2zM113 206.9h1v1.8h-1zM116 206.9h1v1.8h-1zM187 206.9h1v1.8h-1z"/>
<path fill="#2900e7" d="M92 98.1h1v7.6h-1zM94 98.1h2v7.6h-2zM113 98.1h1v7.6h-1zM144 98.1h1v7.6h-1zM174 98.1h2v7.6h-2zM119 106.9h1v6.9h-1zM121 106.9h1v6.9h-1zM174 106.9h1v6.9h-1zM93 116h1v6.7h-1zM177 116h1v6.7h-1zM93 124.1h1v6.6h-1zM102 124.1h1v6.6h-1zM120 124.1h1v6.6h-1zM146 124.1h1v6.6h-1zM151 124.1h1v6.6h-1zM118 132h4v5.7h-4zM144 132h1v5.7h-1zM146 132h1v5.7h-1zM179 132h1v5.7h-1zM187 132h1v5.7h-1zM100 140h1v5.25h-1zM104 140h1v5.25h-1zM147 140h1v5.25h-1zM184 140h1v5.25h-1zM121 144.9h1v5.15h-1zM123 144.9h1v5.15h-1zM157 144.9h1v5.15h-1zM93 149.7h1v4.95h-1zM98 149.7h1v4.95h-1zM113 149.7h1v4.95h-1zM180 149.7h1v4.95h-1zM193 149.7h1v4.95h-1zM158 154.3h1v4.95h-1zM174 154.3h1v4.95h-1zM94 158.9h1v4.45h-1zM121 158.9h1v4.45h-1zM150 158.9h1v4.45h-1zM162 158.9h1v4.45h-1zM174 158.9h1v4.45h-1zM185 158.9h1v4.45h-1zM99 163h1v4h-1zM101 163h1v4h-1zM105 163h3v4h-3zM130 163h2v4h-2zM141 163h1v4h-1zM144 163h1v4h-1zM153 163h1v4h-1zM158 163h1v4h-1zM167 163h1v4h-1zM190 163h1v4h-1zM194 163h1v4h-1zM97 167.1h2v3.6h-2zM106 167.1h2v3.6h-2zM110 167.1h1v3.6h-1zM114 167.1h1v3.6h-1zM123 167.1h1v3.6h-1zM157 167.1h2v3.6h-2zM162 167.1h1v3.6h-1zM164 167.1h2v3.6h-2zM169 167.1h1v3.6h-1zM175 167.1h1v3.6h-1zM182 167.1h1v3.6h-1zM191 167.1h1v3.6h-1zM196 167.1h1v3.6h-1zM171 200.1h1v1.8h-1zM121 203.2h1v1.8h-1zM127 203.2h1v1.8h-1zM133 203.2h1v1.8h-1zM135 203.2h1v1.8h-1zM150 203.2h1v1.8h-1zM154 203.2h1v1.8h-1zM177 203.2h1v1.8h-1zM180 203.2h1v1.8h-1zM99 206.9h1v1.8h-1zM104 206.9h1v1.8h-1zM106 206.9h2v1.8h-2zM184 206.9h1v1.8h-1z"/>
<path fill="#1800f6" d="M122 98.1h1v7.6h-1zM135 106.9h1v6.9h-1zM163 106.9h1v6.9h-1zM94 116h1v6.7h-1zM165 116h1v6.7h-1zM119 124.1h1v6.6h-1zM150 124.1h1v6.6h-1zM181 124.1h1v6.6h-1zM186 124.1h1v6.6h-1zM194 124.1h1v6.6h-1zM95 132h1v5.7h-1zM105 132h1v5.7h-1zM150 132h1v5.7h-1zM155 132h1v5.7h-1zM92 140h2v5.25h-2zM95 140h1v5.25h-1zM95 144.9h1v5.15h-1zM187 144.9h1v5.15h-1zM95 149.7h1v4.95h-1zM120 149.7h1v4.95h-1zM157 149.7h1v4.95h-1zM178 149.7h1v4.95h-1zM181 149.7h1v4.95h-1zM127 154.3h1v4.95h-1zM189 154.3h1v4.95h-1zM183 158.9h1v4.45h-1zM100 163h1v4h-1zM102 163h1v4h-1zM112 163h1v4h-1zM114 163h1v4h-1zM138 163h1v4h-1zM140 163h1v4h-1zM145 163h1v4h-1zM154 163h1v4h-1zM157 163h1v4h-1zM161 163h2v4h-2zM166 163h1v4h-1zM184 163h1v4h-1zM191 163h2v4h-2zM105 167.1h1v3.6h-1zM115 167.1h1v3.6h-1zM117 167.1h1v3.6h-1zM124 167.1h5v3.6h-5zM163 167.1h1v3.6h-1zM167 167.1h1v3.6h-1zM192 167.1h3v3.6h-3zM167 200.1h1v1.8h-1zM122 203.2h1v1.8h-1zM124 203.2h1v1.8h-1zM137 203.2h1v1.8h-1zM153 203.2h1v1.8h-1zM162 203.2h1v1.8h-1zM166 203.2h1v1.8h-1zM176 203.2h1v1.8h-1zM100 206.9h1v1.8h-1zM108 206.9h2v1.8h-2zM112 206.9h1v1.8h-1zM117 206.9h1v1.8h-1zM147 206.9h2v1.8h-2zM114 244.1h1v1.8h-1z"/>
<path fill="#0057ff" d="M147 106.9h1v6.9h-1zM102 116h1v6.7h-1zM156 116h1v6.7h-1zM105 124.1h1v6.6h-1zM140 132h1v5.7h-1zM162 132h1v5.7h-1zM136 163h2v4h-2zM150 163h1v4h-1zM95 167.1h1v3.6h-1zM121 167.1h1v3.6h-1zM101 171.4h1v2.8h-1zM106 171.4h3v2.8h-3zM115 171.4h1v2.8h-1zM119 171.4h1v2.8h-1zM121 171.4h1v2.8h-1zM156 171.4h1v2.8h-1zM158 171.4h1v2.8h-1zM160 171.4h1v2.8h-1zM172 171.4h1v2.8h-1zM181 171.4h1v2.8h-1zM109 174.9h2v2.8h-2zM179 174.9h1v2.8h-1zM189 174.9h1v2.8h-1zM168 197.2h1v1.6h-1zM119 200.1h2v1.8h-2zM122 200.1h1v1.8h-1zM127 200.1h1v1.8h-1zM137 200.1h1v1.8h-1zM142 200.1h1v1.8h-1zM152 200.1h1v1.8h-1zM156 200.1h1v1.8h-1zM158 200.1h1v1.8h-1zM165 200.1h1v1.8h-1zM115 203.2h2v1.8h-2zM183 203.2h1v1.8h-1zM188 203.2h1v1.8h-1zM190 203.2h1v1.8h-1zM114 206.9h1v1.8h-1z"/>
<path fill="#007aff" d="M130 167.1h1v3.6h-1zM137 167.1h1v3.6h-1zM146 167.1h1v3.6h-1zM150 167.1h1v3.6h-1zM152 167.1h1v3.6h-1zM98 171.4h1v2.8h-1zM102 171.4h1v2.8h-1zM105 171.4h1v2.8h-1zM112 171.4h2v2.8h-2zM122 171.4h1v2.8h-1zM174 171.4h1v2.8h-1zM177 171.4h1v2.8h-1zM179 171.4h2v2.8h-2zM96 174.9h1v2.8h-1zM100 174.9h2v2.8h-2zM172 174.9h1v2.8h-1zM174 174.9h2v2.8h-2zM177 174.9h1v2.8h-1zM180 174.9h1v2.8h-1zM187 174.9h1v2.8h-1zM193 174.9h1v2.8h-1zM123 200.1h1v1.8h-1zM130 200.1h1v1.8h-1zM133 200.1h1v1.8h-1zM141 200.1h1v1.8h-1zM164 200.1h1v1.8h-1zM108 203.2h1v1.8h-1zM110 203.2h1v1.8h-1zM187 203.2h1v1.8h-1zM189 203.2h1v1.8h-1zM192 203.2h1v1.8h-1zM195 203.2h1v1.8h-1z"/>
<path fill="#008fff" d="M131 167.1h1v3.6h-1zM147 167.1h1v3.6h-1zM154 167.1h1v3.6h-1zM103 171.4h1v2.8h-1zM124 171.4h1v2.8h-1zM164 171.4h1v2.8h-1zM173 171.4h1v2.8h-1zM99 174.9h1v2.8h-1zM104 174.9h1v2.8h-1zM108 174.9h1v2.8h-1zM111 174.9h1v2.8h-1zM176 174.9h1v2.8h-1zM190 174.9h1v2.8h-1zM195 174.9h1v2.8h-1zM135 200.1h1v1.8h-1zM140 200.1h1v1.8h-1zM145 200.1h1v1.8h-1zM147 200.1h1v1.8h-1zM153 200.1h2v1.8h-2zM96 203.2h1v1.8h-1zM105 203.2h1v1.8h-1zM114 203.2h1v1.8h-1zM184 203.2h3v1.8h-3zM194 203.2h1v1.8h-1z"/>
<path fill="#0069ff" d="M132 167.1h2v3.6h-2zM136 167.1h1v3.6h-1zM138 167.1h1v3.6h-1zM143 167.1h1v3.6h-1zM145 167.1h1v3.6h-1zM151 167.1h1v3.6h-1zM153 167.1h1v3.6h-1zM155 167.1h1v3.6h-1zM97 171.4h1v2.8h-1zM104 171.4h1v2.8h-1zM109 171.4h3v2.8h-3zM117 171.4h1v2.8h-1zM161 171.4h2v2.8h-2zM176 171.4h1v2.8h-1zM97 174.9h1v2.8h-1zM192 174.9h1v2.8h-1zM194 174.9h1v2.8h-1zM126 200.1h1v1.8h-1zM136 200.1h1v1.8h-1zM155 200.1h1v1.8h-1zM160 200.1h1v1.8h-1zM166 200.1h1v1.8h-1zM104 203.2h1v1.8h-1zM109 203.2h1v1.8h-1zM191 203.2h1v1.8h-1zM196 203.2h1v1.8h-1z"/>
<path fill="#00a8ff" d="M139 167.1h1v3.6h-1zM141 167.1h2v3.6h-2zM123 171.4h1v2.8h-1zM135 171.4h1v2.8h-1zM98 174.9h1v2.8h-1zM107 174.9h1v2.8h-1zM114 174.9h1v2.8h-1zM181 174.9h1v2.8h-1zM186 174.9h1v2.8h-1zM191 174.9h1v2.8h-1zM196 174.9h1v2.8h-1zM169 197.2h3v1.6h-3zM125 200.1h1v1.8h-1zM131 200.1h1v1.8h-1zM148 200.1h1v1.8h-1zM150 200.1h1v1.8h-1zM161 200.1h3v1.8h-3zM97 203.2h1v1.8h-1zM107 203.2h1v1.8h-1zM111 203.2h3v1.8h-3zM117 203.2h1v1.8h-1zM193 203.2h1v1.8h-1z"/>
<path fill="#00c1ff" d="M140 167.1h1v3.6h-1zM148 167.1h1v3.6h-1zM116 171.4h1v2.8h-1zM128 171.4h1v2.8h-1zM134 171.4h1v2.8h-1zM163 171.4h1v2.8h-1zM106 174.9h1v2.8h-1zM115 174.9h1v2.8h-1zM118 174.9h1v2.8h-1zM122 174.9h1v2.8h-1zM124 200.1h1v1.8h-1zM134 200.1h1v1.8h-1zM146 200.1h1v1.8h-1zM149 200.1h1v1.8h-1zM178 200.1h2v1.8h-2zM99 203.2h2v1.8h-2zM103 203.2h1v1.8h-1zM106 203.2h1v1.8h-1zM118 203.2h1v1.8h-1z"/>
<path fill="#00daff" d="M149 167.1h1v3.6h-1zM129 171.4h1v2.8h-1zM132 171.4h1v2.8h-1zM142 171.4h2v2.8h-2zM103 174.9h1v2.8h-1zM113 174.9h1v2.8h-1zM117 174.9h1v2.8h-1zM120 174.9h2v2.8h-2zM184 174.9h2v2.8h-2zM172 200.1h1v1.8h-1zM180 200.1h1v1.8h-1zM182 200.1h1v1.8h-1zM185 200.1h1v1.8h-1z"/>
<path fill="#00f3ff" d="M92 171.4h2v2.8h-2zM95 171.4h1v2.8h-1zM133 171.4h1v2.8h-1zM141 171.4h1v2.8h-1zM144 171.4h1v2.8h-1zM102 174.9h1v2.8h-1zM105 174.9h1v2.8h-1zM116 174.9h1v2.8h-1zM123 174.9h1v2.8h-1zM191 179.1h1v2.7h-1zM175 200.1h3v1.8h-3zM183 200.1h1v1.8h-1zM186 200.1h2v1.8h-2zM98 203.2h1v1.8h-1z"/>
<path fill="#00fff4" d="M94 171.4h1v2.8h-1zM127 171.4h1v2.8h-1zM136 171.4h1v2.8h-1zM138 171.4h1v2.8h-1zM147 171.4h1v2.8h-1zM151 171.4h1v2.8h-1zM112 174.9h1v2.8h-1zM124 174.9h1v2.8h-1zM190 179.1h1v2.7h-1zM196 179.1h1v2.7h-1zM93 200.1h3v1.8h-3zM184 200.1h1v1.8h-1zM196 200.1h1v1.8h-1zM101 203.2h2v1.8h-2z"/>
<path fill="#00ffde" d="M125 171.4h1v2.8h-1zM130 171.4h2v2.8h-2zM137 171.4h1v2.8h-1zM145 171.4h2v2.8h-2zM152 171.4h2v2.8h-2zM185 179.1h1v2.7h-1zM92 200.1h1v1.8h-1zM173 200.1h2v1.8h-2z"/>
<path fill="#00ffc8" d="M126 171.4h1v2.8h-1zM148 171.4h2v2.8h-2zM154 171.4h1v2.8h-1zM119 174.9h1v2.8h-1zM128 174.9h1v2.8h-1zM188 179.1h1v2.7h-1zM96 200.1h2v1.8h-2zM181 200.1h1v1.8h-1zM195 200.1h1v1.8h-1z"/>
<path fill="#00ff9c" d="M139 171.4h1v2.8h-1zM127 174.9h1v2.8h-1zM129 174.9h1v2.8h-1zM104 179.1h1v2.7h-1zM109 200.1h1v1.8h-1zM193 200.1h2v1.8h-2z"/>
<path fill="#00ffb2" d="M140 171.4h1v2.8h-1zM150 171.4h1v2.8h-1zM155 171.4h1v2.8h-1zM125 174.9h1v2.8h-1zM189 179.1h1v2.7h-1zM110 200.1h1v1.8h-1zM113 200.1h3v1.8h-3zM118 200.1h1v1.8h-1zM188 200.1h1v1.8h-1z"/>
<path fill="#00ff75" d="M92 174.9h2v2.8h-2zM95 174.9h1v2.8h-1zM126 174.9h1v2.8h-1zM111 179.1h1v2.7h-1zM186 179.1h1v2.7h-1zM165 197.2h1v1.6h-1zM190 200.1h2v1.8h-2z"/>
<path fill="#00ff64" d="M94 174.9h1v2.8h-1zM97 179.1h1v2.7h-1zM107 179.1h2v2.7h-2zM175 179.1h1v2.7h-1zM194 179.1h1v2.7h-1zM98 200.1h1v1.8h-1zM105 200.1h2v1.8h-2zM111 200.1h1v1.8h-1zM116 200.1h2v1.8h-2z"/>
<path fill="#26ff00" d="M130 174.9h1v2.8h-1zM135 174.9h1v2.8h-1zM138 174.9h1v2.8h-1zM142 174.9h1v2.8h-1zM150 174.9h1v2.8h-1zM171 174.9h1v2.8h-1zM127 179.1h1v2.7h-1zM180 179.1h1v2.7h-1zM110 183.2h1v2.7h-1zM190 183.2h1v2.7h-1zM193 183.2h1v2.7h-1zM97 197.2h1v1.6h-1zM100 197.2h1v1.6h-1zM107 197.2h1v1.6h-1zM114 197.2h1v1.6h-1zM122 197.2h1v1.6h-1zM125 197.2h1v1.6h-1zM131 197.2h1v1.6h-1zM139 197.2h1v1.6h-1zM147 197.2h1v1.6h-1zM173 197.2h2v1.6h-2zM177 197.2h1v1.6h-1zM185 197.2h1v1.6h-1z"/>
<path fill="#1cff00" d="M131 174.9h1v2.8h-1zM151 174.9h1v2.8h-1zM161 174.9h1v2.8h-1zM164 174.9h1v2.8h-1zM168 174.9h1v2.8h-1zM170 174.9h1v2.8h-1zM124 179.1h3v2.7h-3zM128 179.1h1v2.7h-1zM101 183.2h1v2.7h-1zM109 183.2h1v2.7h-1zM98 194h1v1.8h-1zM103 194h1v1.8h-1zM105 194h1v1.8h-1zM114 194h1v1.8h-1zM117 194h1v1.8h-1zM96 197.2h1v1.6h-1zM98 197.2h2v1.6h-2zM113 197.2h1v1.6h-1zM115 197.2h1v1.6h-1zM126 197.2h1v1.6h-1zM136 197.2h1v1.6h-1zM149 197.2h1v1.6h-1zM155 197.2h1v1.6h-1zM160 197.2h1v1.6h-1zM163 197.2h1v1.6h-1zM179 197.2h1v1.6h-1zM187 197.2h1v1.6h-1z"/>
<path fill="#00ff21" d="M132 174.9h2v2.8h-2zM166 174.9h1v2.8h-1zM177 179.1h1v2.7h-1zM182 179.1h1v2.7h-1zM118 183.2h1v2.7h-1zM118 197.2h1v1.6h-1zM130 197.2h1v1.6h-1zM134 197.2h1v1.6h-1zM102 200.1h1v1.8h-1z"/>
<path fill="#00ff00" d="M134 174.9h1v2.8h-1zM165 174.9h1v2.8h-1zM105 179.1h1v2.7h-1zM115 179.1h1v2.7h-1zM129 179.1h1v2.7h-1zM102 183.2h1v2.7h-1zM108 183.2h1v2.7h-1zM191 183.2h2v2.7h-2zM101 197.2h2v1.6h-2zM105 197.2h1v1.6h-1zM117 197.2h1v1.6h-1zM128 197.2h1v1.6h-1zM133 197.2h1v1.6h-1zM135 197.2h1v1.6h-1zM137 197.2h1v1.6h-1zM151 197.2h1v1.6h-1zM153 197.2h1v1.6h-1zM178 197.2h1v1.6h-1zM189 197.2h1v1.6h-1zM196 197.2h1v1.6h-1z"/>
<path fill="#55ff00" d="M136 174.9h1v2.8h-1zM96 183.2h1v2.7h-1zM105 183.2h1v2.7h-1zM189 183.2h1v2.7h-1zM118 187.1h1v1.8h-1zM154 194h1v1.8h-1zM193 197.2h1v1.6h-1z"/>
<path fill="#68ff00" d="M137 174.9h1v2.8h-1zM96 187.1h1v1.8h-1zM107 187.1h1v1.8h-1zM109 187.1h1v1.8h-1zM112 187.1h2v1.8h-2zM99 190.1h1v1.9h-1zM103 190.1h1v1.9h-1zM107 194h1v1.8h-1zM128 194h1v1.8h-1zM136 194h1v1.8h-1zM145 194h1v1.8h-1z"/>
<path fill="#2fff00" d="M139 174.9h1v2.8h-1zM141 174.9h1v2.8h-1zM144 174.9h1v2.8h-1zM152 174.9h1v2.8h-1zM157 174.9h1v2.8h-1zM172 179.1h1v2.7h-1zM107 183.2h1v2.7h-1zM113 183.2h1v2.7h-1zM183 183.2h2v2.7h-2zM188 183.2h1v2.7h-1zM196 183.2h1v2.7h-1zM104 187.1h1v1.8h-1zM108 187.1h1v1.8h-1zM102 194h1v1.8h-1zM118 194h1v1.8h-1zM121 197.2h1v1.6h-1zM141 197.2h1v1.6h-1zM175 197.2h1v1.6h-1zM180 197.2h2v1.6h-2zM183 197.2h1v1.6h-1zM192 197.2h1v1.6h-1zM195 197.2h1v1.6h-1z"/>
<path fill="#39ff00" d="M140 174.9h1v2.8h-1zM143 174.9h1v2.8h-1zM162 174.9h2v2.8h-2zM169 174.9h1v2.8h-1zM97 183.2h2v2.7h-2zM100 183.2h1v2.7h-1zM116 183.2h1v2.7h-1zM113 194h1v1.8h-1zM162 197.2h1v1.6h-1z"/>
<path fill="#09ff00" d="M145 174.9h1v2.8h-1zM147 174.9h1v2.8h-1zM154 174.9h3v2.8h-3zM100 179.1h1v2.7h-1zM123 179.1h1v2.7h-1zM181 179.1h1v2.7h-1zM111 183.2h1v2.7h-1zM117 183.2h1v2.7h-1zM92 194h4v1.8h-4zM104 194h1v1.8h-1zM115 194h1v1.8h-1zM112 197.2h1v1.6h-1zM116 197.2h1v1.6h-1zM119 197.2h1v1.6h-1zM123 197.2h1v1.6h-1zM127 197.2h1v1.6h-1zM143 197.2h1v1.6h-1zM150 197.2h1v1.6h-1zM154 197.2h1v1.6h-1zM172 197.2h1v1.6h-1zM182 197.2h1v1.6h-1zM188 197.2h1v1.6h-1z"/>
<path fill="#00ff32" d="M146 174.9h1v2.8h-1zM159 174.9h1v2.8h-1zM167 174.9h1v2.8h-1zM99 179.1h1v2.7h-1zM102 179.1h1v2.7h-1zM106 179.1h1v2.7h-1zM117 179.1h1v2.7h-1zM119 179.1h2v2.7h-2zM122 179.1h1v2.7h-1zM174 179.1h1v2.7h-1zM178 179.1h1v2.7h-1zM185 183.2h1v2.7h-1zM104 197.2h1v1.6h-1zM129 197.2h1v1.6h-1zM103 200.1h1v1.8h-1zM107 200.1h1v1.8h-1z"/>
<path fill="#42ff00" d="M148 174.9h2v2.8h-2zM158 174.9h1v2.8h-1zM115 183.2h1v2.7h-1zM187 183.2h1v2.7h-1zM194 183.2h1v2.7h-1zM97 194h1v1.8h-1zM100 194h1v1.8h-1zM106 194h1v1.8h-1zM169 194h1v1.8h-1zM140 197.2h1v1.6h-1zM148 197.2h1v1.6h-1z"/>
<path fill="#13ff00" d="M153 174.9h1v2.8h-1zM173 179.1h1v2.7h-1zM179 179.1h1v2.7h-1zM112 183.2h1v2.7h-1zM186 183.2h1v2.7h-1zM116 194h1v1.8h-1zM168 194h1v1.8h-1zM103 197.2h1v1.6h-1zM106 197.2h1v1.6h-1zM110 197.2h2v1.6h-2zM120 197.2h1v1.6h-1zM124 197.2h1v1.6h-1zM132 197.2h1v1.6h-1zM142 197.2h1v1.6h-1zM145 197.2h2v1.6h-2zM152 197.2h1v1.6h-1zM156 197.2h1v1.6h-1zM186 197.2h1v1.6h-1zM191 197.2h1v1.6h-1z"/>
<path fill="#00ff11" d="M160 174.9h1v2.8h-1zM101 179.1h1v2.7h-1zM114 179.1h1v2.7h-1zM116 179.1h1v2.7h-1zM121 179.1h1v2.7h-1zM103 183.2h2v2.7h-2zM99 194h1v1.8h-1zM92 197.2h4v1.6h-4zM108 197.2h2v1.6h-2zM144 197.2h1v1.6h-1zM164 197.2h1v1.6h-1zM190 197.2h1v1.6h-1z"/>
<path fill="#bfff00" d="M92 179.1h1v2.7h-1zM95 179.1h1v2.7h-1zM120 183.2h1v2.7h-1zM122 183.2h1v2.7h-1zM106 187.1h1v1.8h-1zM98 190.1h1v1.9h-1zM191 194h1v1.8h-1z"/>
<path fill="#b4ff00" d="M93 179.1h2v2.7h-2zM115 187.1h1v1.8h-1zM105 190.1h2v1.9h-2zM112 190.1h1v1.9h-1zM159 194h1v1.8h-1z"/>
<path fill="#00ff53" d="M96 179.1h1v2.7h-1zM98 179.1h1v2.7h-1zM109 179.1h1v2.7h-1zM118 179.1h1v2.7h-1zM193 179.1h1v2.7h-1zM159 197.2h1v1.6h-1zM166 197.2h1v1.6h-1zM99 200.1h1v1.8h-1zM101 200.1h1v1.8h-1zM112 200.1h1v1.8h-1z"/>
<path fill="#00ff86" d="M103 179.1h1v2.7h-1zM110 179.1h1v2.7h-1zM183 179.1h2v2.7h-2zM192 179.1h1v2.7h-1zM195 179.1h1v2.7h-1zM104 200.1h1v1.8h-1zM192 200.1h1v1.8h-1z"/>
<path fill="#00ff43" d="M112 179.1h2v2.7h-2zM176 179.1h1v2.7h-1zM187 179.1h1v2.7h-1zM138 197.2h1v1.6h-1zM157 197.2h2v1.6h-2zM100 200.1h1v1.8h-1zM108 200.1h1v1.8h-1zM189 200.1h1v1.8h-1z"/>
<path fill="#ffdc00" d="M130 179.1h1v2.7h-1zM154 179.1h1v2.7h-1zM167 179.1h1v2.7h-1zM171 179.1h1v2.7h-1zM92 183.2h1v2.7h-1zM176 183.2h1v2.7h-1zM178 183.2h1v2.7h-1zM128 187.1h1v1.8h-1zM184 187.1h1v1.8h-1zM195 187.1h1v1.8h-1zM141 190.1h1v1.9h-1zM146 190.1h1v1.9h-1zM169 190.1h1v1.9h-1zM174 194h1v1.8h-1zM180 194h1v1.8h-1z"/>
<path fill="#ffa000" d="M131 179.1h1v2.7h-1zM139 179.1h1v2.7h-1zM124 187.1h1v1.8h-1zM123 190.1h1v1.9h-1zM148 190.1h1v1.9h-1zM196 190.1h1v1.9h-1z"/>
<path fill="#ffb400" d="M132 179.1h1v2.7h-1zM136 179.1h1v2.7h-1zM145 179.1h1v2.7h-1zM166 179.1h1v2.7h-1zM177 183.2h1v2.7h-1zM123 187.1h1v1.8h-1zM190 187.1h1v1.8h-1zM139 190.1h1v1.9h-1zM144 190.1h1v1.9h-1zM151 190.1h1v1.9h-1z"/>
<path fill="#ffbe00" d="M133 179.1h1v2.7h-1zM138 179.1h1v2.7h-1zM153 179.1h1v2.7h-1zM163 179.1h1v2.7h-1zM119 187.1h1v1.8h-1zM135 190.1h1v1.9h-1zM145 190.1h1v1.9h-1zM147 190.1h1v1.9h-1zM179 194h1v1.8h-1z"/>
<path fill="#ffd200" d="M134 179.1h2v2.7h-2zM146 179.1h1v2.7h-1zM93 183.2h3v2.7h-3zM174 183.2h1v2.7h-1zM182 183.2h1v2.7h-1zM93 187.1h2v1.8h-2zM129 187.1h1v1.8h-1zM132 190.1h1v1.9h-1zM140 190.1h1v1.9h-1zM153 190.1h1v1.9h-1zM173 194h1v1.8h-1zM176 194h1v1.8h-1z"/>
<path fill="#ffaa00" d="M137 179.1h1v2.7h-1zM122 187.1h1v1.8h-1zM138 190.1h1v1.9h-1zM142 190.1h2v1.9h-2zM177 194h1v1.8h-1z"/>
<path fill="#ffe600" d="M140 179.1h1v2.7h-1zM150 179.1h1v2.7h-1zM158 179.1h1v2.7h-1zM164 179.1h1v2.7h-1zM127 187.1h1v1.8h-1zM183 187.1h1v1.8h-1zM191 187.1h3v1.8h-3zM134 190.1h1v1.9h-1zM167 190.1h1v1.9h-1zM170 190.1h1v1.9h-1zM178 194h1v1.8h-1zM183 194h2v1.8h-2zM189 194h1v1.8h-1zM193 194h1v1.8h-1z"/>
<path fill="#fffa00" d="M141 179.1h2v2.7h-2zM144 179.1h1v2.7h-1zM147 179.1h1v2.7h-1zM173 183.2h1v2.7h-1zM126 187.1h1v1.8h-1zM196 187.1h1v1.8h-1zM133 190.1h1v1.9h-1zM168 190.1h1v1.9h-1zM164 194h1v1.8h-1zM181 194h1v1.8h-1zM192 194h1v1.8h-1zM194 194h1v1.8h-1z"/>
<path fill="#e2ff00" d="M143 179.1h1v2.7h-1zM151 179.1h1v2.7h-1zM156 179.1h1v2.7h-1zM170 179.1h1v2.7h-1zM172 183.2h1v2.7h-1zM116 187.1h1v1.8h-1zM94 190.1h1v1.9h-1zM162 194h1v1.8h-1z"/>
<path fill="#f9ff00" d="M148 179.1h1v2.7h-1zM155 179.1h1v2.7h-1zM160 179.1h1v2.7h-1zM162 179.1h1v2.7h-1zM185 187.1h1v1.8h-1zM127 190.1h2v1.9h-2zM154 190.1h1v1.9h-1zM171 190.1h1v1.9h-1zM182 194h1v1.8h-1zM187 194h1v1.8h-1z"/>
<path fill="#fff000" d="M149 179.1h1v2.7h-1zM152 179.1h1v2.7h-1zM165 179.1h1v2.7h-1zM175 183.2h1v2.7h-1zM179 183.2h2v2.7h-2zM194 187.1h1v1.8h-1zM155 190.1h1v1.9h-1zM158 194h1v1.8h-1zM163 194h1v1.8h-1zM175 194h1v1.8h-1zM195 194h1v1.8h-1z"/>
<path fill="#eeff00" d="M157 179.1h1v2.7h-1zM159 179.1h1v2.7h-1zM168 179.1h1v2.7h-1zM125 190.1h1v1.9h-1zM129 190.1h1v1.9h-1zM157 194h1v1.8h-1zM165 194h1v1.8h-1zM185 194h2v1.8h-2zM188 194h1v1.8h-1z"/>
<path fill="#d6ff00" d="M161 179.1h1v2.7h-1zM121 183.2h1v2.7h-1zM124 183.2h1v2.7h-1zM125 187.1h1v1.8h-1zM92 190.1h1v1.9h-1zM95 190.1h1v1.9h-1zM97 190.1h1v1.9h-1zM126 190.1h1v1.9h-1zM190 194h1v1.8h-1zM196 194h1v1.8h-1z"/>
<path fill="#cbff00" d="M169 179.1h1v2.7h-1zM119 183.2h1v2.7h-1zM123 183.2h1v2.7h-1zM102 187.1h1v1.8h-1zM93 190.1h1v1.9h-1zM156 194h1v1.8h-1z"/>
<path fill="#4cff00" d="M99 183.2h1v2.7h-1zM114 183.2h1v2.7h-1zM109 194h2v1.8h-2zM135 194h1v1.8h-1zM153 194h1v1.8h-1zM167 194h1v1.8h-1zM171 194h1v1.8h-1zM161 197.2h1v1.6h-1zM176 197.2h1v1.6h-1zM184 197.2h1v1.6h-1zM194 197.2h1v1.6h-1z"/>
<path fill="#5fff00" d="M106 183.2h1v2.7h-1zM195 183.2h1v2.7h-1zM104 190.1h1v1.9h-1zM96 194h1v1.8h-1zM101 194h1v1.8h-1zM108 194h1v1.8h-1zM111 194h1v1.8h-1zM122 194h1v1.8h-1zM146 194h1v1.8h-1zM151 194h2v1.8h-2zM155 194h1v1.8h-1zM170 194h1v1.8h-1z"/>
<path fill="#9dff00" d="M125 183.2h5v2.7h-5zM100 187.1h1v1.8h-1zM103 187.1h1v1.8h-1zM114 187.1h1v1.8h-1zM96 190.1h1v1.9h-1zM110 190.1h2v1.9h-2zM117 190.1h1v1.9h-1zM125 194h1v1.8h-1zM130 194h2v1.8h-2zM148 194h1v1.8h-1z"/>
<path fill="#ff5400" d="M130 183.2h1v2.7h-1zM152 183.2h1v2.7h-1zM133 187.1h1v1.8h-1zM156 187.1h1v1.8h-1zM121 190.1h1v1.9h-1zM163 190.1h1v1.9h-1zM174 190.1h1v1.9h-1zM191 190.1h1v1.9h-1z"/>
<path fill="#ff7300" d="M131 183.2h1v2.7h-1zM168 183.2h1v2.7h-1zM121 187.1h1v1.8h-1zM120 190.1h1v1.9h-1zM195 190.1h1v1.9h-1z"/>
<path fill="#ff6b00" d="M132 183.2h1v2.7h-1zM140 187.1h1v1.8h-1zM177 187.1h1v1.8h-1zM137 190.1h1v1.9h-1zM180 190.1h1v1.9h-1z"/>
<path fill="#ff0000" d="M133 183.2h2v2.7h-2zM142 183.2h2v2.7h-2zM147 183.2h2v2.7h-2zM160 183.2h3v2.7h-3zM131 187.1h1v1.8h-1zM136 187.1h1v1.8h-1zM145 187.1h6v1.8h-6zM168 187.1h3v1.8h-3zM172 187.1h4v1.8h-4zM181 187.1h2v1.8h-2zM158 190.1h1v1.9h-1zM187 190.1h1v1.9h-1z"/>
<path fill="#ff4400" d="M135 183.2h1v2.7h-1zM159 183.2h1v2.7h-1zM170 183.2h1v2.7h-1zM134 187.1h1v1.8h-1zM152 187.1h1v1.8h-1zM164 187.1h1v1.8h-1zM175 190.1h1v1.9h-1zM178 190.1h1v1.9h-1zM182 190.1h1v1.9h-1z"/>
<path fill="#ff3c00" d="M136 183.2h1v2.7h-1zM150 183.2h1v2.7h-1zM143 187.1h1v1.8h-1zM151 187.1h1v1.8h-1zM161 187.1h2v1.8h-2zM162 190.1h1v1.9h-1z"/>
<path fill="#ff4c00" d="M137 183.2h1v2.7h-1zM146 183.2h1v2.7h-1zM158 183.2h1v2.7h-1zM166 183.2h1v2.7h-1zM153 187.1h1v1.8h-1zM167 187.1h1v1.8h-1zM179 187.1h1v1.8h-1zM161 190.1h1v1.9h-1z"/>
<path fill="#ff8c00" d="M138 183.2h1v2.7h-1zM156 183.2h1v2.7h-1zM187 187.1h1v1.8h-1zM189 187.1h1v1.8h-1zM122 190.1h1v1.9h-1zM124 190.1h1v1.9h-1zM136 190.1h1v1.9h-1zM159 190.1h1v1.9h-1zM185 190.1h1v1.9h-1z"/>
<path fill="#ff5b00" d="M139 183.2h1v2.7h-1zM164 183.2h1v2.7h-1zM171 183.2h1v2.7h-1zM163 187.1h1v1.8h-1zM165 190.1h1v1.9h-1zM183 190.1h1v1.9h-1z"/>
<path fill="#ff2d00" d="M140 183.2h1v2.7h-1zM145 183.2h1v2.7h-1zM163 183.2h1v2.7h-1zM139 187.1h1v1.8h-1zM144 187.1h1v1.8h-1zM166 187.1h1v1.8h-1zM166 190.1h1v1.9h-1zM189 190.1h1v1.9h-1zM193 190.1h1v1.9h-1z"/>
<path fill="#ff1e00" d="M141 183.2h1v2.7h-1zM130 187.1h1v1.8h-1zM165 187.1h1v1.8h-1zM176 187.1h1v1.8h-1zM157 190.1h1v1.9h-1zM176 190.1h2v1.9h-2z"/>
<path fill="#ff0f00" d="M144 183.2h1v2.7h-1zM149 183.2h1v2.7h-1zM137 187.1h1v1.8h-1zM158 187.1h1v1.8h-1zM180 187.1h1v1.8h-1zM179 190.1h1v1.9h-1z"/>
<path fill="#ff6300" d="M151 183.2h1v2.7h-1zM165 183.2h1v2.7h-1zM167 183.2h1v2.7h-1zM169 183.2h1v2.7h-1zM142 187.1h1v1.8h-1zM154 187.1h1v1.8h-1zM159 187.1h2v1.8h-2zM156 190.1h1v1.9h-1zM164 190.1h1v1.9h-1zM181 190.1h1v1.9h-1zM186 190.1h1v1.9h-1zM194 190.1h1v1.9h-1z"/>
<path fill="#ff8200" d="M153 183.2h1v2.7h-1zM157 183.2h1v2.7h-1zM120 187.1h1v1.8h-1zM119 190.1h1v1.9h-1zM130 190.1h1v1.9h-1zM184 190.1h1v1.9h-1z"/>
<path fill="#ff9600" d="M154 183.2h2v2.7h-2zM141 187.1h1v1.8h-1zM178 187.1h1v1.8h-1zM150 190.1h1v1.9h-1zM152 190.1h1v1.9h-1zM172 190.1h1v1.9h-1z"/>
<path fill="#ffc800" d="M181 183.2h1v2.7h-1zM92 187.1h1v1.8h-1zM95 187.1h1v1.8h-1zM186 187.1h1v1.8h-1zM188 187.1h1v1.8h-1zM166 194h1v1.8h-1zM172 194h1v1.8h-1z"/>
<path fill="#a8ff00" d="M97 187.1h2v1.8h-2zM101 187.1h1v1.8h-1zM117 187.1h1v1.8h-1zM113 190.1h1v1.9h-1zM116 190.1h1v1.9h-1zM126 194h1v1.8h-1zM161 194h1v1.8h-1z"/>
<path fill="#72ff00" d="M99 187.1h1v1.8h-1zM100 190.1h2v1.9h-2zM112 194h1v1.8h-1zM123 194h1v1.8h-1zM127 194h1v1.8h-1zM134 194h1v1.8h-1zM138 194h1v1.8h-1zM140 194h2v1.8h-2zM144 194h1v1.8h-1z"/>
<path fill="#91ff00" d="M105 187.1h1v1.8h-1zM110 187.1h1v1.8h-1zM107 190.1h1v1.9h-1zM124 194h1v1.8h-1zM129 194h1v1.8h-1zM133 194h1v1.8h-1zM149 194h1v1.8h-1zM160 194h1v1.8h-1z"/>
<path fill="#7bff00" d="M111 187.1h1v1.8h-1zM108 190.1h1v1.9h-1zM114 190.1h2v1.9h-2zM118 190.1h1v1.9h-1zM120 194h2v1.8h-2zM132 194h1v1.8h-1zM139 194h1v1.8h-1zM143 194h1v1.8h-1zM147 194h1v1.8h-1z"/>
<path fill="#ff3500" d="M132 187.1h1v1.8h-1zM135 187.1h1v1.8h-1zM138 187.1h1v1.8h-1zM157 187.1h1v1.8h-1zM171 187.1h1v1.8h-1zM188 190.1h1v1.9h-1zM190 190.1h1v1.9h-1zM192 190.1h1v1.9h-1z"/>
<path fill="#ff7a00" d="M155 187.1h1v1.8h-1zM131 190.1h1v1.9h-1zM149 190.1h1v1.9h-1zM160 190.1h1v1.9h-1zM173 190.1h1v1.9h-1z"/>
<path fill="#85ff00" d="M102 190.1h1v1.9h-1zM109 190.1h1v1.9h-1zM119 194h1v1.8h-1zM137 194h1v1.8h-1zM142 194h1v1.8h-1zM150 194h1v1.8h-1z"/>
</g>
<rect x="131.2" y="80" width="3.8" height="7" fill="#fff" opacity="0.45"/><rect x="138" y="80" width="2" height="7" fill="#fff" opacity="0.45"/>
<g>
<path fill="#000000" d="M131 338.62h4v3.69h-4zM138 338.62h2v3.69h-2zM92 343.16h4v3.94h-4zM118 343.16h8v3.94h-8zM130 343.16h16v3.94h-16zM147 343.16h2v3.94h-2zM152 343.16h5v3.94h-5zM167 343.16h7v3.94h-7zM176 343.16h1v3.94h-1zM92 347.65h6v3.99h-6zM99 347.65h2v3.99h-2zM102 347.65h1v3.99h-1zM107 347.65h9v3.99h-9zM118 347.65h67v3.99h-67zM188 347.65h4v3.99h-4zM193 347.65h2v3.99h-2zM92 352.04h105v4.89h-105zM92 356.57h105v4.39h-105zM92 360.61h105v4.29h-105zM92 364.55h105v4.34h-105zM92 368.54h105v2.79h-105zM92 370.99h105v2.74h-105zM92 373.38h105v2.64h-105zM92 375.67h105v2.64h-105zM92 377.97h105v2.39h-105zM92 380.01h105v2.39h-105zM92 382.06h105v2.49h-105zM92 384.2h105v2.1h-105zM92 385.95h39v2.44h-39zM133 385.95h3v2.44h-3zM137 385.95h1v2.44h-1zM139 385.95h1v2.44h-1zM141 385.95h3v2.44h-3zM146 385.95h1v2.44h-1zM148 385.95h1v2.44h-1zM150 385.95h2v2.44h-2zM153 385.95h5v2.44h-5zM159 385.95h4v2.44h-4zM164 385.95h4v2.44h-4zM170 385.95h1v2.44h-1zM172 385.95h25v2.44h-25zM96 388.04h4v2.39h-4zM101 388.04h1v2.39h-1zM103 388.04h9v2.39h-9zM113 388.04h10v2.39h-10zM124 388.04h2v2.39h-2zM127 388.04h2v2.39h-2zM169 388.04h1v2.39h-1zM172 388.04h1v2.39h-1zM174 388.04h23v2.39h-23zM96 390.09h1v2.29h-1zM99 390.09h1v2.29h-1zM103 390.09h3v2.29h-3zM107 390.09h1v2.29h-1zM111 390.09h1v2.29h-1zM118 390.09h1v2.29h-1zM184 390.09h3v2.29h-3zM191 390.09h3v2.29h-3zM107 392.03h1v1.85h-1zM117 393.53h1v2.29h-1zM92 395.47h1v1.95h-1zM94 395.47h1v1.95h-1zM97 395.47h1v1.95h-1zM100 395.47h1v1.95h-1zM102 395.47h2v1.95h-2zM105 395.47h1v1.95h-1zM121 395.47h1v1.95h-1zM147 395.47h1v1.95h-1zM168 395.47h2v1.95h-2zM171 395.47h1v1.95h-1zM93 397.07h4v1.8h-4zM98 397.07h2v1.8h-2zM102 397.07h3v1.8h-3zM106 397.07h1v1.8h-1zM108 397.07h1v1.8h-1zM110 397.07h2v1.8h-2zM114 397.07h3v1.8h-3zM118 397.07h1v1.8h-1zM120 397.07h1v1.8h-1zM123 397.07h3v1.8h-3zM129 397.07h5v1.8h-5zM135 397.07h2v1.8h-2zM138 397.07h1v1.8h-1zM141 397.07h7v1.8h-7zM149 397.07h1v1.8h-1zM151 397.07h3v1.8h-3zM155 397.07h6v1.8h-6zM163 397.07h11v1.8h-11zM175 397.07h1v1.8h-1zM177 397.07h1v1.8h-1zM179 397.07h1v1.8h-1zM181 397.07h2v1.8h-2zM185 397.07h2v1.8h-2zM188 397.07h5v1.8h-5zM194 397.07h3v1.8h-3zM92 398.51h105v1.9h-105zM92 400.06h105v2.19h-105zM92 401.91h105v2.05h-105zM92 403.6h105v2.19h-105zM92 405.45h105v2h-105zM92 407.09h105v2.29h-105zM92 409.04h105v2.39h-105zM92 411.08h105v2.74h-105zM92 413.48h105v1.05h-105zM94 415.57h37v1.45h-37zM132 415.57h2v1.45h-2zM137 415.57h2v1.45h-2zM141 415.57h1v1.45h-1zM144 415.57h2v1.45h-2zM147 415.57h3v1.45h-3zM151 415.57h2v1.45h-2zM155 415.57h3v1.45h-3zM160 415.57h8v1.45h-8zM172 415.57h25v1.45h-25zM94 418.06h2v1.4h-2zM98 418.06h8v1.4h-8zM107 418.06h1v1.4h-1zM109 418.06h12v1.4h-12zM123 418.06h2v1.4h-2zM126 418.06h1v1.4h-1zM173 418.06h1v1.4h-1zM177 418.06h2v1.4h-2zM183 418.06h8v1.4h-8zM192 418.06h3v1.4h-3zM92 420.46h4v1.1h-4zM97 420.46h1v1.1h-1zM100 420.46h2v1.1h-2zM104 420.46h1v1.1h-1zM107 420.46h1v1.1h-1zM110 420.46h1v1.1h-1zM113 420.46h7v1.1h-7zM183 420.46h1v1.1h-1zM189 420.46h1v1.1h-1zM193 420.46h1v1.1h-1z"/>
<path fill="#1b001b" d="M131 385.95h2v2.44h-2zM136 385.95h1v2.44h-1zM140 385.95h1v2.44h-1zM144 385.95h1v2.44h-1zM149 385.95h1v2.44h-1zM163 385.95h1v2.44h-1zM168 385.95h1v2.44h-1zM171 385.95h1v2.44h-1zM95 388.04h1v2.39h-1zM100 388.04h1v2.39h-1zM112 388.04h1v2.39h-1zM123 388.04h1v2.39h-1zM126 388.04h1v2.39h-1zM129 388.04h1v2.39h-1zM173 388.04h1v2.39h-1zM97 390.09h1v2.29h-1zM100 390.09h3v2.29h-3zM108 390.09h3v2.29h-3zM112 390.09h2v2.29h-2zM115 390.09h1v2.29h-1zM117 390.09h1v2.29h-1zM119 390.09h1v2.29h-1zM129 390.09h1v2.29h-1zM183 390.09h1v2.29h-1zM187 390.09h2v2.29h-2zM190 390.09h1v2.29h-1zM194 390.09h1v2.29h-1zM96 392.03h2v1.85h-2zM99 392.03h1v1.85h-1zM104 392.03h1v1.85h-1zM108 392.03h1v1.85h-1zM110 392.03h1v1.85h-1zM113 392.03h2v1.85h-2zM118 392.03h1v1.85h-1zM185 392.03h1v1.85h-1zM108 393.53h1v2.29h-1zM110 393.53h2v2.29h-2zM115 393.53h1v2.29h-1zM93 395.47h1v1.95h-1zM98 395.47h2v1.95h-2zM101 395.47h1v1.95h-1zM104 395.47h1v1.95h-1zM107 395.47h2v1.95h-2zM112 395.47h1v1.95h-1zM114 395.47h2v1.95h-2zM118 395.47h1v1.95h-1zM123 395.47h1v1.95h-1zM125 395.47h1v1.95h-1zM127 395.47h1v1.95h-1zM131 395.47h2v1.95h-2zM134 395.47h3v1.95h-3zM138 395.47h2v1.95h-2zM141 395.47h1v1.95h-1zM143 395.47h4v1.95h-4zM150 395.47h2v1.95h-2zM153 395.47h1v1.95h-1zM92 397.07h1v1.8h-1zM97 397.07h1v1.8h-1zM101 397.07h1v1.8h-1zM105 397.07h1v1.8h-1zM109 397.07h1v1.8h-1zM112 397.07h2v1.8h-2zM117 397.07h1v1.8h-1zM122 397.07h1v1.8h-1zM126 397.07h3v1.8h-3zM134 397.07h1v1.8h-1zM137 397.07h1v1.8h-1zM140 397.07h1v1.8h-1zM148 397.07h1v1.8h-1zM150 397.07h1v1.8h-1zM154 397.07h1v1.8h-1zM161 397.07h2v1.8h-2zM174 397.07h1v1.8h-1zM176 397.07h1v1.8h-1zM178 397.07h1v1.8h-1zM180 397.07h1v1.8h-1z"/>
<path fill="#43005e" d="M138 385.95h1v2.44h-1zM94 388.04h1v2.39h-1zM131 388.04h1v2.39h-1zM140 388.04h1v2.39h-1zM144 388.04h1v2.39h-1zM152 388.04h1v2.39h-1zM155 388.04h1v2.39h-1zM157 388.04h1v2.39h-1zM160 388.04h3v2.39h-3zM168 388.04h1v2.39h-1zM170 388.04h1v2.39h-1zM92 390.09h1v2.29h-1zM106 390.09h1v2.29h-1zM120 390.09h5v2.29h-5zM127 390.09h2v2.29h-2zM172 390.09h1v2.29h-1zM177 390.09h1v2.29h-1zM179 390.09h1v2.29h-1zM94 392.03h1v1.85h-1zM98 392.03h1v1.85h-1zM100 392.03h2v1.85h-2zM103 392.03h1v1.85h-1zM105 392.03h1v1.85h-1zM109 392.03h1v1.85h-1zM117 392.03h1v1.85h-1zM128 392.03h2v1.85h-2zM190 392.03h1v1.85h-1zM193 392.03h1v1.85h-1zM196 392.03h1v1.85h-1zM100 393.53h1v2.29h-1zM104 393.53h1v2.29h-1zM125 393.53h3v2.29h-3zM134 393.53h1v2.29h-1zM155 393.53h1v2.29h-1zM170 393.53h1v2.29h-1zM96 395.47h1v1.95h-1zM113 395.47h1v1.95h-1zM126 395.47h1v1.95h-1zM130 395.47h1v1.95h-1zM137 395.47h1v1.95h-1zM148 395.47h1v1.95h-1zM156 395.47h4v1.95h-4zM165 395.47h1v1.95h-1zM172 395.47h1v1.95h-1zM178 395.47h1v1.95h-1zM181 395.47h1v1.95h-1zM183 395.47h1v1.95h-1zM185 395.47h1v1.95h-1zM187 395.47h1v1.95h-1zM194 395.47h1v1.95h-1zM139 397.07h1v1.8h-1zM183 397.07h1v1.8h-1z"/>
<path fill="#34003e" d="M145 385.95h1v2.44h-1zM147 385.95h1v2.44h-1zM158 385.95h1v2.44h-1zM169 385.95h1v2.44h-1zM92 388.04h1v2.39h-1zM102 388.04h1v2.39h-1zM141 388.04h2v2.39h-2zM151 388.04h1v2.39h-1zM156 388.04h1v2.39h-1zM98 390.09h1v2.29h-1zM114 390.09h1v2.29h-1zM116 390.09h1v2.29h-1zM173 390.09h1v2.29h-1zM189 390.09h1v2.29h-1zM195 390.09h2v2.29h-2zM93 392.03h1v1.85h-1zM95 392.03h1v1.85h-1zM102 392.03h1v1.85h-1zM111 392.03h2v1.85h-2zM115 392.03h2v1.85h-2zM191 392.03h1v1.85h-1zM92 393.53h1v2.29h-1zM94 393.53h6v2.29h-6zM101 393.53h1v2.29h-1zM103 393.53h1v2.29h-1zM105 393.53h1v2.29h-1zM112 393.53h3v2.29h-3zM116 393.53h1v2.29h-1zM118 393.53h1v2.29h-1zM128 393.53h1v2.29h-1zM144 393.53h1v2.29h-1zM95 395.47h1v1.95h-1zM106 395.47h1v1.95h-1zM109 395.47h3v1.95h-3zM116 395.47h2v1.95h-2zM119 395.47h2v1.95h-2zM122 395.47h1v1.95h-1zM124 395.47h1v1.95h-1zM129 395.47h1v1.95h-1zM133 395.47h1v1.95h-1zM140 395.47h1v1.95h-1zM142 395.47h1v1.95h-1zM149 395.47h1v1.95h-1zM152 395.47h1v1.95h-1zM154 395.47h2v1.95h-2zM160 395.47h2v1.95h-2zM167 395.47h1v1.95h-1zM170 395.47h1v1.95h-1zM180 395.47h1v1.95h-1zM188 395.47h1v1.95h-1zM190 395.47h1v1.95h-1zM192 395.47h1v1.95h-1zM100 397.07h1v1.8h-1zM107 397.07h1v1.8h-1zM119 397.07h1v1.8h-1zM121 397.07h1v1.8h-1zM187 397.07h1v1.8h-1zM193 397.07h1v1.8h-1z"/>
<path fill="#48007a" d="M152 385.95h1v2.44h-1zM132 388.04h1v2.39h-1zM135 388.04h1v2.39h-1zM137 388.04h1v2.39h-1zM143 388.04h1v2.39h-1zM147 388.04h3v2.39h-3zM153 388.04h2v2.39h-2zM163 388.04h3v2.39h-3zM93 390.09h1v2.29h-1zM125 390.09h2v2.29h-2zM152 390.09h2v2.29h-2zM156 390.09h1v2.29h-1zM174 390.09h2v2.29h-2zM106 392.03h1v1.85h-1zM120 392.03h1v1.85h-1zM124 392.03h2v1.85h-2zM183 392.03h2v1.85h-2zM186 392.03h1v1.85h-1zM188 392.03h1v1.85h-1zM192 392.03h1v1.85h-1zM194 392.03h2v1.85h-2zM106 393.53h2v2.29h-2zM109 393.53h1v2.29h-1zM123 393.53h2v2.29h-2zM129 393.53h2v2.29h-2zM132 393.53h2v2.29h-2zM135 393.53h1v2.29h-1zM139 393.53h4v2.29h-4zM145 393.53h3v2.29h-3zM153 393.53h1v2.29h-1zM159 393.53h1v2.29h-1zM167 393.53h1v2.29h-1zM171 393.53h1v2.29h-1zM183 393.53h1v2.29h-1zM185 393.53h1v2.29h-1zM128 395.47h1v1.95h-1zM162 395.47h1v1.95h-1zM166 395.47h1v1.95h-1zM176 395.47h2v1.95h-2zM182 395.47h1v1.95h-1zM184 395.47h1v1.95h-1zM186 395.47h1v1.95h-1zM191 395.47h1v1.95h-1zM193 395.47h1v1.95h-1zM184 397.07h1v1.8h-1z"/>
<path fill="#40009c" d="M93 388.04h1v2.39h-1zM133 388.04h2v2.39h-2zM136 388.04h1v2.39h-1zM139 388.04h1v2.39h-1zM146 388.04h1v2.39h-1zM150 388.04h1v2.39h-1zM159 388.04h1v2.39h-1zM167 388.04h1v2.39h-1zM171 388.04h1v2.39h-1zM94 390.09h2v2.29h-2zM132 390.09h1v2.29h-1zM135 390.09h1v2.29h-1zM138 390.09h1v2.29h-1zM154 390.09h2v2.29h-2zM157 390.09h2v2.29h-2zM165 390.09h1v2.29h-1zM167 390.09h1v2.29h-1zM176 390.09h1v2.29h-1zM178 390.09h1v2.29h-1zM180 390.09h2v2.29h-2zM92 392.03h1v1.85h-1zM119 392.03h1v1.85h-1zM122 392.03h1v1.85h-1zM126 392.03h1v1.85h-1zM142 392.03h1v1.85h-1zM152 392.03h1v1.85h-1zM154 392.03h1v1.85h-1zM157 392.03h1v1.85h-1zM178 392.03h1v1.85h-1zM187 392.03h1v1.85h-1zM189 392.03h1v1.85h-1zM93 393.53h1v2.29h-1zM102 393.53h1v2.29h-1zM120 393.53h1v2.29h-1zM131 393.53h1v2.29h-1zM137 393.53h1v2.29h-1zM143 393.53h1v2.29h-1zM148 393.53h1v2.29h-1zM151 393.53h2v2.29h-2zM154 393.53h1v2.29h-1zM156 393.53h1v2.29h-1zM161 393.53h1v2.29h-1zM165 393.53h1v2.29h-1zM168 393.53h2v2.29h-2zM173 393.53h1v2.29h-1zM184 393.53h1v2.29h-1zM195 393.53h2v2.29h-2zM163 395.47h2v1.95h-2zM173 395.47h3v1.95h-3zM179 395.47h1v1.95h-1zM196 395.47h1v1.95h-1z"/>
<path fill="#3500c1" d="M130 388.04h1v2.39h-1zM145 388.04h1v2.39h-1zM158 388.04h1v2.39h-1zM166 388.04h1v2.39h-1zM130 390.09h2v2.29h-2zM139 390.09h1v2.29h-1zM143 390.09h2v2.29h-2zM146 390.09h1v2.29h-1zM148 390.09h3v2.29h-3zM166 390.09h1v2.29h-1zM168 390.09h1v2.29h-1zM170 390.09h2v2.29h-2zM182 390.09h1v2.29h-1zM121 392.03h1v1.85h-1zM123 392.03h1v1.85h-1zM127 392.03h1v1.85h-1zM130 392.03h1v1.85h-1zM134 392.03h1v1.85h-1zM140 392.03h2v1.85h-2zM151 392.03h1v1.85h-1zM159 392.03h2v1.85h-2zM162 392.03h1v1.85h-1zM164 392.03h1v1.85h-1zM166 392.03h2v1.85h-2zM170 392.03h1v1.85h-1zM177 392.03h1v1.85h-1zM179 392.03h1v1.85h-1zM119 393.53h1v2.29h-1zM121 393.53h2v2.29h-2zM138 393.53h1v2.29h-1zM158 393.53h1v2.29h-1zM163 393.53h2v2.29h-2zM172 393.53h1v2.29h-1zM174 393.53h4v2.29h-4zM181 393.53h1v2.29h-1zM187 393.53h3v2.29h-3zM192 393.53h1v2.29h-1zM194 393.53h1v2.29h-1zM189 395.47h1v1.95h-1zM195 395.47h1v1.95h-1z"/>
<path fill="#2900e7" d="M138 388.04h1v2.39h-1zM133 390.09h1v2.29h-1zM136 390.09h2v2.29h-2zM147 390.09h1v2.29h-1zM151 390.09h1v2.29h-1zM159 390.09h1v2.29h-1zM162 390.09h1v2.29h-1zM164 390.09h1v2.29h-1zM169 390.09h1v2.29h-1zM132 392.03h2v1.85h-2zM137 392.03h2v1.85h-2zM143 392.03h5v1.85h-5zM155 392.03h2v1.85h-2zM158 392.03h1v1.85h-1zM161 392.03h1v1.85h-1zM163 392.03h1v1.85h-1zM171 392.03h1v1.85h-1zM136 393.53h1v2.29h-1zM150 393.53h1v2.29h-1zM160 393.53h1v2.29h-1zM162 393.53h1v2.29h-1zM166 393.53h1v2.29h-1zM178 393.53h1v2.29h-1zM182 393.53h1v2.29h-1zM186 393.53h1v2.29h-1zM190 393.53h2v2.29h-2z"/>
<path fill="#1800f6" d="M134 390.09h1v2.29h-1zM140 390.09h3v2.29h-3zM161 390.09h1v2.29h-1zM163 390.09h1v2.29h-1zM131 392.03h1v1.85h-1zM135 392.03h1v1.85h-1zM139 392.03h1v1.85h-1zM149 392.03h2v1.85h-2zM153 392.03h1v1.85h-1zM165 392.03h1v1.85h-1zM169 392.03h1v1.85h-1zM174 392.03h1v1.85h-1zM176 392.03h1v1.85h-1zM181 392.03h1v1.85h-1zM149 393.53h1v2.29h-1zM157 393.53h1v2.29h-1zM180 393.53h1v2.29h-1z"/>
<path fill="#0905ff" d="M145 390.09h1v2.29h-1zM160 390.09h1v2.29h-1zM136 392.03h1v1.85h-1zM148 392.03h1v1.85h-1zM168 392.03h1v1.85h-1zM172 392.03h2v1.85h-2zM175 392.03h1v1.85h-1zM182 392.03h1v1.85h-1zM179 393.53h1v2.29h-1zM193 393.53h1v2.29h-1z"/>
<path fill="#0621ff" d="M180 392.03h1v1.85h-1z"/>
<rect x="96.5" y="338.32" width="101" height="4.29" fill="#fff" opacity="0.55"/>
<path d="M92 351.84H197" stroke="#fff" stroke-width="1" opacity="0.22"/>
<path d="M92 356.13H197" stroke="#fff" stroke-width="1" opacity="0.138"/>
<path d="M92 360.36H197" stroke="#fff" stroke-width="1" opacity="0.11"/>
<path d="M92 364.33H197" stroke="#fff" stroke-width="1" opacity="0.083"/>
<path d="M92 368.07H197" stroke="#fff" stroke-width="1" opacity="0.083"/>
<path d="M92 384.13H197" stroke="#fff" stroke-width="1" opacity="0.017"/>
<path d="M92 385.87H197" stroke="#fff" stroke-width="1" opacity="0.017"/>
<path d="M92 387.79H197" stroke="#fff" stroke-width="1" opacity="0.017"/>
<path d="M92 389.84H197" stroke="#fff" stroke-width="1" opacity="0.022"/>
<path d="M92 391.83H197" stroke="#fff" stroke-width="1" opacity="0.028"/>
<path d="M96 393.33H197" stroke="#fff" stroke-width="1.05" opacity="1"/>
<path d="M92 395.07H197" stroke="#fff" stroke-width="1" opacity="0.028"/>
<path d="M92 396.82H197" stroke="#fff" stroke-width="1" opacity="0.055"/>
<path d="M92 398.29H197" stroke="#fff" stroke-width="1" opacity="0.138"/>
<path d="M92 399.84H197" stroke="#fff" stroke-width="1" opacity="0.055"/>
<path d="M92 401.53H197" stroke="#fff" stroke-width="1" opacity="0.165"/>
<path d="M92 403.3H197" stroke="#fff" stroke-width="1" opacity="0.165"/>
<path d="M92 405.05H197" stroke="#fff" stroke-width="1" opacity="0.193"/>
<path d="M92 406.82H197" stroke="#fff" stroke-width="1" opacity="0.066"/>
<path d="M92 408.76H197" stroke="#fff" stroke-width="1" opacity="0.066"/>
<path d="M92 410.78H197" stroke="#fff" stroke-width="1" opacity="0.066"/>
<path d="M92 413.03H197" stroke="#fff" stroke-width="1" opacity="0.165"/>
<path d="M92 415.05H197" stroke="#fff" stroke-width="1.05" opacity="1"/>
</g>
<g>
<path fill="#000000" d="M131 422.42h4v3.69h-4zM138 422.42h2v3.69h-2zM92 426.96h4v3.94h-4zM118 426.96h8v3.94h-8zM130 426.96h16v3.94h-16zM147 426.96h2v3.94h-2zM152 426.96h5v3.94h-5zM167 426.96h7v3.94h-7zM176 426.96h1v3.94h-1zM92 431.45h6v3.99h-6zM99 431.45h2v3.99h-2zM102 431.45h1v3.99h-1zM107 431.45h9v3.99h-9zM118 431.45h67v3.99h-67zM188 431.45h4v3.99h-4zM193 431.45h2v3.99h-2zM92 435.84h105v4.89h-105zM92 440.37h105v4.39h-105zM92 444.41h105v4.29h-105zM92 448.35h105v4.34h-105zM92 452.34h105v2.79h-105zM92 454.79h105v2.74h-105zM92 457.18h105v2.64h-105zM92 459.47h105v2.64h-105zM92 461.77h105v2.39h-105zM92 463.81h105v2.39h-105zM92 465.86h105v2.49h-105zM93 468h23v2.1h-23zM117 468h9v2.1h-9zM127 468h4v2.1h-4zM132 468h1v2.1h-1zM134 468h5v2.1h-5zM140 468h6v2.1h-6zM147 468h3v2.1h-3zM151 468h2v2.1h-2zM154 468h1v2.1h-1zM156 468h8v2.1h-8zM165 468h32v2.1h-32zM96 469.75h3v2.44h-3zM100 469.75h12v2.44h-12zM113 469.75h3v2.44h-3zM117 469.75h1v2.44h-1zM119 469.75h1v2.44h-1zM121 469.75h3v2.44h-3zM125 469.75h1v2.44h-1zM128 469.75h2v2.44h-2zM159 469.75h1v2.44h-1zM172 469.75h13v2.44h-13zM186 469.75h11v2.44h-11zM96 471.84h1v2.39h-1zM108 471.84h1v2.39h-1zM110 471.84h1v2.39h-1zM113 471.84h1v2.39h-1zM116 471.84h1v2.39h-1zM118 471.84h1v2.39h-1zM175 471.84h1v2.39h-1zM185 471.84h1v2.39h-1zM188 471.84h1v2.39h-1zM190 471.84h2v2.39h-2zM194 471.84h2v2.39h-2zM102 480.87h1v1.8h-1zM108 480.87h1v1.8h-1zM118 480.87h1v1.8h-1zM167 480.87h5v1.8h-5zM190 480.87h1v1.8h-1zM92 482.31h3v1.9h-3zM96 482.31h1v1.9h-1zM98 482.31h2v1.9h-2zM101 482.31h1v1.9h-1zM104 482.31h2v1.9h-2zM109 482.31h2v1.9h-2zM114 482.31h2v1.9h-2zM117 482.31h57v1.9h-57zM176 482.31h7v1.9h-7zM184 482.31h4v1.9h-4zM191 482.31h1v1.9h-1zM193 482.31h3v1.9h-3zM92 483.86h83v2.19h-83zM176 483.86h21v2.19h-21zM92 485.71h105v2.05h-105zM92 487.4h105v2.19h-105zM92 489.25h105v2h-105zM92 490.89h105v2.29h-105zM92 492.84h105v2.39h-105zM92 494.88h105v2.74h-105zM92 497.28h105v1.05h-105zM94 499.37h37v1.45h-37zM132 499.37h2v1.45h-2zM137 499.37h2v1.45h-2zM141 499.37h1v1.45h-1zM144 499.37h2v1.45h-2zM147 499.37h3v1.45h-3zM151 499.37h2v1.45h-2zM155 499.37h3v1.45h-3zM160 499.37h8v1.45h-8zM172 499.37h25v1.45h-25zM94 501.86h2v1.4h-2zM98 501.86h8v1.4h-8zM107 501.86h1v1.4h-1zM109 501.86h12v1.4h-12zM123 501.86h2v1.4h-2zM126 501.86h1v1.4h-1zM173 501.86h1v1.4h-1zM177 501.86h2v1.4h-2zM183 501.86h8v1.4h-8zM192 501.86h3v1.4h-3zM92 504.26h4v1.1h-4zM97 504.26h1v1.1h-1zM100 504.26h2v1.1h-2zM104 504.26h1v1.1h-1zM107 504.26h1v1.1h-1zM110 504.26h1v1.1h-1zM113 504.26h7v1.1h-7zM183 504.26h1v1.1h-1zM189 504.26h1v1.1h-1zM193 504.26h1v1.1h-1z"/>
<path fill="#1b001b" d="M92 468h1v2.1h-1zM116 468h1v2.1h-1zM126 468h1v2.1h-1zM131 468h1v2.1h-1zM133 468h1v2.1h-1zM139 468h1v2.1h-1zM146 468h1v2.1h-1zM150 468h1v2.1h-1zM153 468h1v2.1h-1zM155 468h1v2.1h-1zM92 469.75h1v2.44h-1zM95 469.75h1v2.44h-1zM99 469.75h1v2.44h-1zM112 469.75h1v2.44h-1zM116 469.75h1v2.44h-1zM118 469.75h1v2.44h-1zM120 469.75h1v2.44h-1zM124 469.75h1v2.44h-1zM126 469.75h2v2.44h-2zM143 469.75h1v2.44h-1zM185 469.75h1v2.44h-1zM97 471.84h2v2.39h-2zM101 471.84h1v2.39h-1zM103 471.84h1v2.39h-1zM107 471.84h1v2.39h-1zM109 471.84h1v2.39h-1zM111 471.84h1v2.39h-1zM114 471.84h2v2.39h-2zM117 471.84h1v2.39h-1zM120 471.84h2v2.39h-2zM178 471.84h1v2.39h-1zM182 471.84h3v2.39h-3zM186 471.84h1v2.39h-1zM189 471.84h1v2.39h-1zM192 471.84h1v2.39h-1zM196 471.84h1v2.39h-1zM103 473.89h1v2.29h-1zM109 473.89h1v2.29h-1zM112 473.89h1v2.29h-1zM185 473.89h2v2.29h-2zM108 475.83h1v1.85h-1zM116 479.27h1v1.95h-1zM153 479.27h1v1.95h-1zM97 480.87h1v1.8h-1zM109 480.87h2v1.8h-2zM113 480.87h1v1.8h-1zM119 480.87h1v1.8h-1zM129 480.87h2v1.8h-2zM137 480.87h2v1.8h-2zM144 480.87h1v1.8h-1zM146 480.87h1v1.8h-1zM150 480.87h1v1.8h-1zM157 480.87h3v1.8h-3zM164 480.87h3v1.8h-3zM95 482.31h1v1.9h-1zM97 482.31h1v1.9h-1zM102 482.31h2v1.9h-2zM112 482.31h2v1.9h-2zM116 482.31h1v1.9h-1zM175 482.31h1v1.9h-1zM183 482.31h1v1.9h-1zM188 482.31h3v1.9h-3zM192 482.31h1v1.9h-1zM196 482.31h1v1.9h-1zM175 483.86h1v2.19h-1z"/>
<path fill="#34003e" d="M164 468h1v2.1h-1zM93 469.75h1v2.44h-1zM134 469.75h1v2.44h-1zM139 469.75h1v2.44h-1zM145 469.75h2v2.44h-2zM155 469.75h1v2.44h-1zM165 469.75h1v2.44h-1zM168 469.75h1v2.44h-1zM99 471.84h1v2.39h-1zM104 471.84h1v2.39h-1zM112 471.84h1v2.39h-1zM119 471.84h1v2.39h-1zM122 471.84h2v2.39h-2zM172 471.84h1v2.39h-1zM174 471.84h1v2.39h-1zM176 471.84h1v2.39h-1zM179 471.84h1v2.39h-1zM193 471.84h1v2.39h-1zM102 473.89h1v2.29h-1zM104 473.89h1v2.29h-1zM111 473.89h1v2.29h-1zM115 473.89h1v2.29h-1zM117 473.89h1v2.29h-1zM184 473.89h1v2.29h-1zM191 473.89h2v2.29h-2zM195 473.89h2v2.29h-2zM104 477.33h1v2.29h-1zM92 479.27h2v1.95h-2zM95 479.27h1v1.95h-1zM99 479.27h1v1.95h-1zM102 479.27h2v1.95h-2zM108 479.27h1v1.95h-1zM115 479.27h1v1.95h-1zM94 480.87h1v1.8h-1zM96 480.87h1v1.8h-1zM100 480.87h2v1.8h-2zM112 480.87h1v1.8h-1zM126 480.87h1v1.8h-1zM132 480.87h1v1.8h-1zM135 480.87h1v1.8h-1zM139 480.87h1v1.8h-1zM145 480.87h1v1.8h-1zM153 480.87h2v1.8h-2zM160 480.87h1v1.8h-1zM176 480.87h1v1.8h-1zM179 480.87h1v1.8h-1zM181 480.87h1v1.8h-1zM185 480.87h1v1.8h-1zM189 480.87h1v1.8h-1zM191 480.87h1v1.8h-1zM100 482.31h1v1.9h-1zM107 482.31h2v1.9h-2zM111 482.31h1v1.9h-1zM174 482.31h1v1.9h-1z"/>
<path fill="#43005e" d="M94 469.75h1v2.44h-1zM130 469.75h4v2.44h-4zM138 469.75h1v2.44h-1zM140 469.75h2v2.44h-2zM144 469.75h1v2.44h-1zM147 469.75h1v2.44h-1zM149 469.75h2v2.44h-2zM153 469.75h2v2.44h-2zM160 469.75h1v2.44h-1zM162 469.75h2v2.44h-2zM166 469.75h1v2.44h-1zM169 469.75h3v2.44h-3zM100 471.84h1v2.39h-1zM102 471.84h1v2.39h-1zM105 471.84h2v2.39h-2zM124 471.84h1v2.39h-1zM127 471.84h1v2.39h-1zM129 471.84h1v2.39h-1zM177 471.84h1v2.39h-1zM180 471.84h2v2.39h-2zM187 471.84h1v2.39h-1zM97 473.89h1v2.29h-1zM100 473.89h1v2.29h-1zM108 473.89h1v2.29h-1zM110 473.89h1v2.29h-1zM113 473.89h1v2.29h-1zM116 473.89h1v2.29h-1zM104 475.83h2v1.85h-2zM107 475.83h1v1.85h-1zM113 475.83h1v1.85h-1zM118 475.83h1v1.85h-1zM114 477.33h1v2.29h-1zM94 479.27h1v1.95h-1zM97 479.27h2v1.95h-2zM101 479.27h1v1.95h-1zM104 479.27h4v1.95h-4zM117 479.27h1v1.95h-1zM135 479.27h1v1.95h-1zM147 479.27h1v1.95h-1zM168 479.27h1v1.95h-1zM93 480.87h1v1.8h-1zM95 480.87h1v1.8h-1zM98 480.87h2v1.8h-2zM103 480.87h4v1.8h-4zM111 480.87h1v1.8h-1zM115 480.87h2v1.8h-2zM122 480.87h3v1.8h-3zM127 480.87h2v1.8h-2zM131 480.87h1v1.8h-1zM133 480.87h2v1.8h-2zM136 480.87h1v1.8h-1zM140 480.87h1v1.8h-1zM142 480.87h1v1.8h-1zM147 480.87h2v1.8h-2zM151 480.87h2v1.8h-2zM155 480.87h2v1.8h-2zM163 480.87h1v1.8h-1zM172 480.87h1v1.8h-1zM174 480.87h2v1.8h-2zM177 480.87h1v1.8h-1zM182 480.87h1v1.8h-1zM186 480.87h3v1.8h-3zM195 480.87h2v1.8h-2zM106 482.31h1v1.9h-1z"/>
<path fill="#3500c1" d="M135 469.75h1v2.44h-1zM137 469.75h1v2.44h-1zM92 471.84h2v2.39h-2zM151 471.84h1v2.39h-1zM156 471.84h1v2.39h-1zM161 471.84h1v2.39h-1zM167 471.84h2v2.39h-2zM170 471.84h1v2.39h-1zM106 473.89h1v2.29h-1zM121 473.89h1v2.29h-1zM124 473.89h1v2.29h-1zM126 473.89h1v2.29h-1zM129 473.89h1v2.29h-1zM172 473.89h1v2.29h-1zM100 475.83h1v1.85h-1zM102 475.83h1v1.85h-1zM106 475.83h1v1.85h-1zM115 475.83h1v1.85h-1zM117 475.83h1v1.85h-1zM185 475.83h1v1.85h-1zM195 475.83h1v1.85h-1zM93 477.33h1v2.29h-1zM96 477.33h1v2.29h-1zM98 477.33h1v2.29h-1zM102 477.33h2v2.29h-2zM105 477.33h2v2.29h-2zM110 477.33h1v2.29h-1zM115 477.33h1v2.29h-1zM134 477.33h1v2.29h-1zM140 477.33h1v2.29h-1zM170 477.33h2v2.29h-2zM96 479.27h1v1.95h-1zM100 479.27h1v1.95h-1zM111 479.27h1v1.95h-1zM119 479.27h1v1.95h-1zM123 479.27h1v1.95h-1zM131 479.27h1v1.95h-1zM133 479.27h1v1.95h-1zM140 479.27h1v1.95h-1zM143 479.27h1v1.95h-1zM146 479.27h1v1.95h-1zM148 479.27h1v1.95h-1zM156 479.27h1v1.95h-1zM159 479.27h1v1.95h-1zM161 479.27h1v1.95h-1zM165 479.27h1v1.95h-1zM171 479.27h1v1.95h-1zM181 479.27h1v1.95h-1zM187 479.27h1v1.95h-1zM189 479.27h1v1.95h-1zM192 479.27h1v1.95h-1zM195 479.27h1v1.95h-1zM143 480.87h1v1.8h-1z"/>
<path fill="#48007a" d="M136 469.75h1v2.44h-1zM142 469.75h1v2.44h-1zM151 469.75h1v2.44h-1zM157 469.75h2v2.44h-2zM164 469.75h1v2.44h-1zM167 469.75h1v2.44h-1zM125 471.84h2v2.39h-2zM128 471.84h1v2.39h-1zM173 471.84h1v2.39h-1zM98 473.89h1v2.29h-1zM101 473.89h1v2.29h-1zM105 473.89h1v2.29h-1zM114 473.89h1v2.29h-1zM118 473.89h1v2.29h-1zM125 473.89h1v2.29h-1zM187 473.89h1v2.29h-1zM189 473.89h2v2.29h-2zM99 475.83h1v1.85h-1zM110 475.83h1v1.85h-1zM99 477.33h1v2.29h-1zM117 477.33h1v2.29h-1zM109 479.27h2v1.95h-2zM113 479.27h2v1.95h-2zM120 479.27h2v1.95h-2zM124 479.27h1v1.95h-1zM128 479.27h1v1.95h-1zM134 479.27h1v1.95h-1zM138 479.27h2v1.95h-2zM149 479.27h1v1.95h-1zM151 479.27h1v1.95h-1zM169 479.27h2v1.95h-2zM196 479.27h1v1.95h-1zM92 480.87h1v1.8h-1zM107 480.87h1v1.8h-1zM114 480.87h1v1.8h-1zM117 480.87h1v1.8h-1zM120 480.87h1v1.8h-1zM125 480.87h1v1.8h-1zM141 480.87h1v1.8h-1zM149 480.87h1v1.8h-1zM161 480.87h2v1.8h-2zM173 480.87h1v1.8h-1zM178 480.87h1v1.8h-1zM180 480.87h1v1.8h-1zM184 480.87h1v1.8h-1zM192 480.87h1v1.8h-1zM194 480.87h1v1.8h-1z"/>
<path fill="#40009c" d="M148 469.75h1v2.44h-1zM152 469.75h1v2.44h-1zM156 469.75h1v2.44h-1zM161 469.75h1v2.44h-1zM95 471.84h1v2.39h-1zM142 471.84h1v2.39h-1zM169 471.84h1v2.39h-1zM93 473.89h1v2.29h-1zM96 473.89h1v2.29h-1zM99 473.89h1v2.29h-1zM107 473.89h1v2.29h-1zM122 473.89h1v2.29h-1zM127 473.89h2v2.29h-2zM183 473.89h1v2.29h-1zM188 473.89h1v2.29h-1zM193 473.89h2v2.29h-2zM96 475.83h2v1.85h-2zM103 475.83h1v1.85h-1zM109 475.83h1v1.85h-1zM111 475.83h2v1.85h-2zM114 475.83h1v1.85h-1zM92 477.33h1v2.29h-1zM95 477.33h1v2.29h-1zM100 477.33h2v2.29h-2zM107 477.33h2v2.29h-2zM113 477.33h1v2.29h-1zM118 477.33h1v2.29h-1zM125 477.33h1v2.29h-1zM154 477.33h1v2.29h-1zM112 479.27h1v1.95h-1zM118 479.27h1v1.95h-1zM122 479.27h1v1.95h-1zM126 479.27h2v1.95h-2zM129 479.27h2v1.95h-2zM132 479.27h1v1.95h-1zM141 479.27h2v1.95h-2zM144 479.27h2v1.95h-2zM150 479.27h1v1.95h-1zM152 479.27h1v1.95h-1zM154 479.27h1v1.95h-1zM160 479.27h1v1.95h-1zM166 479.27h2v1.95h-2zM191 479.27h1v1.95h-1zM121 480.87h1v1.8h-1zM183 480.87h1v1.8h-1zM193 480.87h1v1.8h-1z"/>
<path fill="#1800f6" d="M94 471.84h1v2.39h-1zM135 471.84h1v2.39h-1zM140 471.84h2v2.39h-2zM146 471.84h1v2.39h-1zM148 471.84h1v2.39h-1zM152 471.84h1v2.39h-1zM160 471.84h1v2.39h-1zM164 471.84h3v2.39h-3zM95 473.89h1v2.29h-1zM155 473.89h1v2.29h-1zM157 473.89h1v2.29h-1zM173 473.89h1v2.29h-1zM176 473.89h2v2.29h-2zM180 473.89h1v2.29h-1zM182 473.89h1v2.29h-1zM94 475.83h1v1.85h-1zM119 475.83h1v1.85h-1zM122 475.83h2v1.85h-2zM125 475.83h2v1.85h-2zM192 475.83h1v1.85h-1zM123 477.33h1v2.29h-1zM137 477.33h2v2.29h-2zM141 477.33h1v2.29h-1zM147 477.33h1v2.29h-1zM149 477.33h2v2.29h-2zM160 477.33h1v2.29h-1zM167 477.33h3v2.29h-3zM195 477.33h1v2.29h-1zM157 479.27h2v1.95h-2zM164 479.27h1v1.95h-1zM173 479.27h1v1.95h-1zM175 479.27h1v1.95h-1zM180 479.27h1v1.95h-1zM183 479.27h2v1.95h-2z"/>
<path fill="#2900e7" d="M130 471.84h1v2.39h-1zM132 471.84h1v2.39h-1zM143 471.84h2v2.39h-2zM147 471.84h1v2.39h-1zM149 471.84h2v2.39h-2zM155 471.84h1v2.39h-1zM157 471.84h1v2.39h-1zM159 471.84h1v2.39h-1zM162 471.84h1v2.39h-1zM94 473.89h1v2.29h-1zM119 473.89h2v2.29h-2zM123 473.89h1v2.29h-1zM174 473.89h2v2.29h-2zM179 473.89h1v2.29h-1zM181 473.89h1v2.29h-1zM98 475.83h1v1.85h-1zM101 475.83h1v1.85h-1zM116 475.83h1v1.85h-1zM124 475.83h1v1.85h-1zM127 475.83h1v1.85h-1zM129 475.83h1v1.85h-1zM183 475.83h1v1.85h-1zM191 475.83h1v1.85h-1zM193 475.83h2v1.85h-2zM196 475.83h1v1.85h-1zM94 477.33h1v2.29h-1zM97 477.33h1v2.29h-1zM109 477.33h1v2.29h-1zM111 477.33h2v2.29h-2zM116 477.33h1v2.29h-1zM126 477.33h1v2.29h-1zM128 477.33h2v2.29h-2zM133 477.33h1v2.29h-1zM142 477.33h2v2.29h-2zM153 477.33h1v2.29h-1zM155 477.33h1v2.29h-1zM125 479.27h1v1.95h-1zM136 479.27h2v1.95h-2zM155 479.27h1v1.95h-1zM162 479.27h1v1.95h-1zM174 479.27h1v1.95h-1zM182 479.27h1v1.95h-1zM185 479.27h2v1.95h-2zM188 479.27h1v1.95h-1zM193 479.27h2v1.95h-2z"/>
<path fill="#033cff" d="M131 471.84h1v2.39h-1zM145 471.84h1v2.39h-1zM130 473.89h1v2.29h-1zM135 473.89h1v2.29h-1zM137 473.89h1v2.29h-1zM144 473.89h3v2.29h-3zM150 473.89h3v2.29h-3zM159 473.89h1v2.29h-1zM167 473.89h5v2.29h-5zM134 475.83h1v1.85h-1zM137 475.83h1v1.85h-1zM151 475.83h2v1.85h-2zM155 475.83h1v1.85h-1zM159 475.83h3v1.85h-3zM163 475.83h1v1.85h-1zM167 475.83h1v1.85h-1zM121 477.33h2v2.29h-2zM124 477.33h1v2.29h-1zM158 477.33h2v2.29h-2zM162 477.33h1v2.29h-1zM176 477.33h1v2.29h-1zM178 477.33h1v2.29h-1zM180 477.33h1v2.29h-1zM182 477.33h1v2.29h-1zM187 477.33h1v2.29h-1zM189 477.33h1v2.29h-1zM191 477.33h1v2.29h-1z"/>
<path fill="#0905ff" d="M133 471.84h2v2.39h-2zM136 471.84h4v2.39h-4zM154 471.84h1v2.39h-1zM158 471.84h1v2.39h-1zM163 471.84h1v2.39h-1zM171 471.84h1v2.39h-1zM138 473.89h1v2.29h-1zM154 473.89h1v2.29h-1zM156 473.89h1v2.29h-1zM164 473.89h1v2.29h-1zM178 473.89h1v2.29h-1zM92 475.83h2v1.85h-2zM95 475.83h1v1.85h-1zM121 475.83h1v1.85h-1zM128 475.83h1v1.85h-1zM162 475.83h1v1.85h-1zM178 475.83h1v1.85h-1zM184 475.83h1v1.85h-1zM186 475.83h1v1.85h-1zM188 475.83h1v1.85h-1zM190 475.83h1v1.85h-1zM119 477.33h1v2.29h-1zM130 477.33h1v2.29h-1zM132 477.33h1v2.29h-1zM135 477.33h1v2.29h-1zM139 477.33h1v2.29h-1zM144 477.33h1v2.29h-1zM146 477.33h1v2.29h-1zM151 477.33h2v2.29h-2zM172 477.33h1v2.29h-1zM181 477.33h1v2.29h-1zM183 477.33h1v2.29h-1zM186 477.33h1v2.29h-1zM196 477.33h1v2.29h-1zM163 479.27h1v1.95h-1zM176 479.27h4v1.95h-4zM190 479.27h1v1.95h-1z"/>
<path fill="#0621ff" d="M153 471.84h1v2.39h-1zM92 473.89h1v2.29h-1zM131 473.89h1v2.29h-1zM139 473.89h1v2.29h-1zM153 473.89h1v2.29h-1zM158 473.89h1v2.29h-1zM166 473.89h1v2.29h-1zM120 475.83h1v1.85h-1zM133 475.83h1v1.85h-1zM140 475.83h3v1.85h-3zM156 475.83h1v1.85h-1zM187 475.83h1v1.85h-1zM189 475.83h1v1.85h-1zM120 477.33h1v2.29h-1zM127 477.33h1v2.29h-1zM136 477.33h1v2.29h-1zM145 477.33h1v2.29h-1zM148 477.33h1v2.29h-1zM157 477.33h1v2.29h-1zM161 477.33h1v2.29h-1zM164 477.33h1v2.29h-1zM173 477.33h3v2.29h-3zM184 477.33h2v2.29h-2zM194 477.33h1v2.29h-1zM172 479.27h1v1.95h-1z"/>
<path fill="#0057ff" d="M132 473.89h3v2.29h-3zM136 473.89h1v2.29h-1zM140 473.89h1v2.29h-1zM142 473.89h2v2.29h-2zM148 473.89h2v2.29h-2zM162 473.89h2v2.29h-2zM165 473.89h1v2.29h-1zM131 475.83h2v1.85h-2zM135 475.83h2v1.85h-2zM138 475.83h2v1.85h-2zM144 475.83h1v1.85h-1zM146 475.83h2v1.85h-2zM153 475.83h2v1.85h-2zM158 475.83h1v1.85h-1zM164 475.83h3v1.85h-3zM171 475.83h1v1.85h-1zM176 475.83h2v1.85h-2zM179 475.83h2v1.85h-2zM182 475.83h1v1.85h-1zM163 477.33h1v2.29h-1zM165 477.33h2v2.29h-2zM177 477.33h1v2.29h-1zM188 477.33h1v2.29h-1zM190 477.33h1v2.29h-1zM192 477.33h1v2.29h-1z"/>
<path fill="#0069ff" d="M141 473.89h1v2.29h-1zM147 473.89h1v2.29h-1zM161 473.89h1v2.29h-1zM143 475.83h1v1.85h-1zM157 475.83h1v1.85h-1zM175 475.83h1v1.85h-1zM131 477.33h1v2.29h-1zM156 477.33h1v2.29h-1zM179 477.33h1v2.29h-1zM193 477.33h1v2.29h-1z"/>
<path fill="#007aff" d="M160 473.89h1v2.29h-1zM130 475.83h1v1.85h-1zM148 475.83h3v1.85h-3zM168 475.83h3v1.85h-3zM172 475.83h3v1.85h-3zM181 475.83h1v1.85h-1z"/>
<path fill="#008fff" d="M145 475.83h1v1.85h-1z"/>
<rect x="96.5" y="422.12" width="101" height="4.29" fill="#fff" opacity="0.55"/>
<path d="M92 435.64H197" stroke="#fff" stroke-width="1" opacity="0.22"/>
<path d="M92 439.93H197" stroke="#fff" stroke-width="1" opacity="0.083"/>
<path d="M92 444.16H197" stroke="#fff" stroke-width="1" opacity="0.044"/>
<path d="M92 448.13H197" stroke="#fff" stroke-width="1" opacity="0.066"/>
<path d="M92 451.87H197" stroke="#fff" stroke-width="1" opacity="0.11"/>
<path d="M92 467.93H197" stroke="#fff" stroke-width="1" opacity="0.017"/>
<path d="M92 469.67H197" stroke="#fff" stroke-width="1" opacity="0.017"/>
<path d="M92 471.59H197" stroke="#fff" stroke-width="1" opacity="0.017"/>
<path d="M92 473.64H197" stroke="#fff" stroke-width="1" opacity="0.022"/>
<path d="M92 475.63H197" stroke="#fff" stroke-width="1" opacity="0.028"/>
<path d="M92 477.13H197" stroke="#fff" stroke-width="1" opacity="0.055"/>
<path d="M92 478.87H197" stroke="#fff" stroke-width="1" opacity="0.055"/>
<path d="M92 480.62H197" stroke="#fff" stroke-width="1" opacity="0.055"/>
<path d="M92 482.09H197" stroke="#fff" stroke-width="1" opacity="0.083"/>
<path d="M92 483.64H197" stroke="#fff" stroke-width="1" opacity="0.083"/>
<path d="M96 485.33H197" stroke="#fff" stroke-width="1.05" opacity="1"/>
<path d="M92 487.1H197" stroke="#fff" stroke-width="1" opacity="0.138"/>
<path d="M92 488.85H197" stroke="#fff" stroke-width="1" opacity="0.138"/>
<path d="M92 490.62H197" stroke="#fff" stroke-width="1" opacity="0.165"/>
<path d="M92 492.56H197" stroke="#fff" stroke-width="1" opacity="0.165"/>
<path d="M94 494.58H197" stroke="#fff" stroke-width="1.05" opacity="1"/>
<path d="M92 496.83H197" stroke="#fff" stroke-width="1" opacity="0.275"/>
<path d="M92 498.85H197" stroke="#fff" stroke-width="1" opacity="0.44"/>
</g>
<g>
<path fill="#000000" d="M131 506.22h4v3.69h-4zM138 506.22h2v3.69h-2zM92 510.76h4v3.94h-4zM118 510.76h8v3.94h-8zM130 510.76h16v3.94h-16zM147 510.76h2v3.94h-2zM152 510.76h5v3.94h-5zM167 510.76h7v3.94h-7zM176 510.76h1v3.94h-1zM92 515.25h6v3.99h-6zM99 515.25h2v3.99h-2zM102 515.25h1v3.99h-1zM107 515.25h9v3.99h-9zM118 515.25h67v3.99h-67zM188 515.25h4v3.99h-4zM193 515.25h2v3.99h-2zM92 519.64h105v4.89h-105zM92 524.17h105v4.39h-105zM92 528.21h105v4.29h-105zM92 532.15h105v4.34h-105zM92 536.14h105v2.79h-105zM92 538.59h105v2.74h-105zM92 540.98h105v2.64h-105zM92 543.27h43v2.64h-43zM136 543.27h61v2.64h-61zM92 545.57h105v2.39h-105zM92 547.61h16v2.39h-16zM109 547.61h88v2.39h-88zM92 549.66h105v2.49h-105zM92 551.8h71v2.1h-71zM164 551.8h33v2.1h-33zM92 553.55h1v2.44h-1zM95 553.55h19v2.44h-19zM115 553.55h15v2.44h-15zM146 553.55h1v2.44h-1zM160 553.55h1v2.44h-1zM166 553.55h2v2.44h-2zM172 553.55h25v2.44h-25zM96 555.64h3v2.39h-3zM103 555.64h2v2.39h-2zM107 555.64h1v2.39h-1zM109 555.64h1v2.39h-1zM111 555.64h1v2.39h-1zM116 555.64h2v2.39h-2zM119 555.64h2v2.39h-2zM122 555.64h1v2.39h-1zM126 555.64h1v2.39h-1zM129 555.64h1v2.39h-1zM174 555.64h3v2.39h-3zM178 555.64h1v2.39h-1zM182 555.64h5v2.39h-5zM188 555.64h6v2.39h-6zM195 555.64h2v2.39h-2zM103 557.69h1v2.29h-1zM108 557.69h1v2.29h-1zM111 557.69h1v2.29h-1zM118 557.69h1v2.29h-1zM185 557.69h1v2.29h-1zM190 557.69h1v2.29h-1zM118 559.63h1v1.85h-1zM99 563.07h1v1.95h-1zM114 563.07h1v1.95h-1zM97 564.67h1v1.8h-1zM100 564.67h2v1.8h-2zM103 564.67h1v1.8h-1zM108 564.67h2v1.8h-2zM123 564.67h1v1.8h-1zM125 564.67h1v1.8h-1zM135 564.67h1v1.8h-1zM145 564.67h1v1.8h-1zM153 564.67h2v1.8h-2zM157 564.67h1v1.8h-1zM165 564.67h7v1.8h-7zM178 564.67h1v1.8h-1zM181 564.67h1v1.8h-1zM186 564.67h1v1.8h-1zM188 564.67h1v1.8h-1zM190 564.67h1v1.8h-1zM192 564.67h1v1.8h-1zM93 566.11h5v1.9h-5zM99 566.11h3v1.9h-3zM103 566.11h1v1.9h-1zM106 566.11h6v1.9h-6zM113 566.11h3v1.9h-3zM117 566.11h1v1.9h-1zM119 566.11h67v1.9h-67zM187 566.11h3v1.9h-3zM191 566.11h6v1.9h-6zM92 567.66h105v2.19h-105zM92 569.51h105v2.05h-105zM92 571.2h105v2.19h-105zM92 573.05h105v2h-105zM92 574.69h105v2.29h-105zM92 576.64h105v2.39h-105zM92 578.68h105v2.74h-105zM92 581.08h105v1.05h-105zM94 583.17h37v1.45h-37zM132 583.17h2v1.45h-2zM137 583.17h2v1.45h-2zM141 583.17h1v1.45h-1zM144 583.17h2v1.45h-2zM147 583.17h3v1.45h-3zM151 583.17h2v1.45h-2zM155 583.17h3v1.45h-3zM160 583.17h8v1.45h-8zM172 583.17h25v1.45h-25zM94 585.66h2v1.4h-2zM98 585.66h8v1.4h-8zM107 585.66h1v1.4h-1zM109 585.66h12v1.4h-12zM123 585.66h2v1.4h-2zM126 585.66h1v1.4h-1zM173 585.66h1v1.4h-1zM177 585.66h2v1.4h-2zM183 585.66h8v1.4h-8zM192 585.66h3v1.4h-3zM92 588.06h4v1.1h-4zM97 588.06h1v1.1h-1zM100 588.06h2v1.1h-2zM104 588.06h1v1.1h-1zM107 588.06h1v1.1h-1zM110 588.06h1v1.1h-1zM113 588.06h7v1.1h-7zM183 588.06h1v1.1h-1zM189 588.06h1v1.1h-1zM193 588.06h1v1.1h-1z"/>
<path fill="#1b001b" d="M135 543.27h1v2.64h-1zM108 547.61h1v2.39h-1zM163 551.8h1v2.1h-1zM93 553.55h2v2.44h-2zM114 553.55h1v2.44h-1zM130 553.55h5v2.44h-5zM138 553.55h1v2.44h-1zM141 553.55h3v2.44h-3zM145 553.55h1v2.44h-1zM147 553.55h1v2.44h-1zM157 553.55h1v2.44h-1zM159 553.55h1v2.44h-1zM161 553.55h2v2.44h-2zM164 553.55h1v2.44h-1zM171 553.55h1v2.44h-1zM101 555.64h1v2.39h-1zM106 555.64h1v2.39h-1zM108 555.64h1v2.39h-1zM112 555.64h2v2.39h-2zM115 555.64h1v2.39h-1zM118 555.64h1v2.39h-1zM123 555.64h3v2.39h-3zM127 555.64h1v2.39h-1zM179 555.64h1v2.39h-1zM181 555.64h1v2.39h-1zM187 555.64h1v2.39h-1zM194 555.64h1v2.39h-1zM102 557.69h1v2.29h-1zM104 557.69h1v2.29h-1zM110 557.69h1v2.29h-1zM115 557.69h1v2.29h-1zM117 557.69h1v2.29h-1zM188 557.69h1v2.29h-1zM192 557.69h2v2.29h-2zM196 557.69h1v2.29h-1zM99 559.63h1v1.85h-1zM104 559.63h1v1.85h-1zM92 563.07h2v1.95h-2zM98 563.07h1v1.95h-1zM102 563.07h1v1.95h-1zM104 563.07h1v1.95h-1zM113 563.07h1v1.95h-1zM116 563.07h2v1.95h-2zM122 563.07h1v1.95h-1zM132 563.07h1v1.95h-1zM142 563.07h1v1.95h-1zM146 563.07h1v1.95h-1zM153 563.07h1v1.95h-1zM168 563.07h1v1.95h-1zM93 564.67h2v1.8h-2zM98 564.67h1v1.8h-1zM102 564.67h1v1.8h-1zM104 564.67h1v1.8h-1zM106 564.67h1v1.8h-1zM111 564.67h2v1.8h-2zM116 564.67h1v1.8h-1zM118 564.67h2v1.8h-2zM124 564.67h1v1.8h-1zM128 564.67h3v1.8h-3zM133 564.67h1v1.8h-1zM137 564.67h1v1.8h-1zM142 564.67h3v1.8h-3zM146 564.67h2v1.8h-2zM149 564.67h3v1.8h-3zM156 564.67h1v1.8h-1zM158 564.67h3v1.8h-3zM162 564.67h1v1.8h-1zM164 564.67h1v1.8h-1zM172 564.67h1v1.8h-1zM177 564.67h1v1.8h-1zM185 564.67h1v1.8h-1zM187 564.67h1v1.8h-1zM196 564.67h1v1.8h-1zM92 566.11h1v1.9h-1zM102 566.11h1v1.9h-1zM104 566.11h1v1.9h-1zM112 566.11h1v1.9h-1zM116 566.11h1v1.9h-1zM118 566.11h1v1.9h-1zM186 566.11h1v1.9h-1zM190 566.11h1v1.9h-1z"/>
<path fill="#43005e" d="M135 553.55h1v2.44h-1zM137 553.55h1v2.44h-1zM150 553.55h1v2.44h-1zM154 553.55h1v2.44h-1zM168 553.55h1v2.44h-1zM93 555.64h2v2.39h-2zM180 555.64h1v2.39h-1zM96 557.69h2v2.29h-2zM99 557.69h1v2.29h-1zM106 557.69h2v2.29h-2zM114 557.69h1v2.29h-1zM126 557.69h1v2.29h-1zM184 557.69h1v2.29h-1zM189 557.69h1v2.29h-1zM195 557.69h1v2.29h-1zM97 559.63h1v1.85h-1zM108 559.63h1v1.85h-1zM110 559.63h4v1.85h-4zM125 559.63h1v1.85h-1zM92 561.13h1v2.29h-1zM99 561.13h1v2.29h-1zM101 561.13h2v2.29h-2zM104 561.13h1v2.29h-1zM108 561.13h1v2.29h-1zM111 561.13h1v2.29h-1zM114 561.13h1v2.29h-1zM117 561.13h1v2.29h-1zM148 561.13h1v2.29h-1zM95 563.07h1v1.95h-1zM97 563.07h1v1.95h-1zM100 563.07h1v1.95h-1zM107 563.07h2v1.95h-2zM110 563.07h1v1.95h-1zM118 563.07h2v1.95h-2zM123 563.07h3v1.95h-3zM136 563.07h3v1.95h-3zM145 563.07h1v1.95h-1zM148 563.07h1v1.95h-1zM150 563.07h3v1.95h-3zM159 563.07h2v1.95h-2zM171 563.07h1v1.95h-1zM95 564.67h1v1.8h-1zM107 564.67h1v1.8h-1zM120 564.67h1v1.8h-1zM122 564.67h1v1.8h-1zM127 564.67h1v1.8h-1zM131 564.67h1v1.8h-1zM140 564.67h1v1.8h-1zM155 564.67h1v1.8h-1zM161 564.67h1v1.8h-1zM163 564.67h1v1.8h-1zM176 564.67h1v1.8h-1zM179 564.67h1v1.8h-1zM183 564.67h1v1.8h-1zM193 564.67h3v1.8h-3z"/>
<path fill="#34003e" d="M136 553.55h1v2.44h-1zM139 553.55h2v2.44h-2zM144 553.55h1v2.44h-1zM148 553.55h1v2.44h-1zM152 553.55h2v2.44h-2zM155 553.55h2v2.44h-2zM158 553.55h1v2.44h-1zM163 553.55h1v2.44h-1zM165 553.55h1v2.44h-1zM169 553.55h2v2.44h-2zM99 555.64h2v2.39h-2zM102 555.64h1v2.39h-1zM105 555.64h1v2.39h-1zM110 555.64h1v2.39h-1zM114 555.64h1v2.39h-1zM121 555.64h1v2.39h-1zM128 555.64h1v2.39h-1zM172 555.64h2v2.39h-2zM177 555.64h1v2.39h-1zM98 557.69h1v2.29h-1zM100 557.69h2v2.29h-2zM109 557.69h1v2.29h-1zM112 557.69h2v2.29h-2zM116 557.69h1v2.29h-1zM186 557.69h2v2.29h-2zM191 557.69h1v2.29h-1zM194 557.69h1v2.29h-1zM114 559.63h1v1.85h-1zM100 561.13h1v2.29h-1zM103 561.13h1v2.29h-1zM105 561.13h1v2.29h-1zM94 563.07h1v1.95h-1zM96 563.07h1v1.95h-1zM103 563.07h1v1.95h-1zM105 563.07h2v1.95h-2zM109 563.07h1v1.95h-1zM111 563.07h1v1.95h-1zM115 563.07h1v1.95h-1zM135 563.07h1v1.95h-1zM139 563.07h2v1.95h-2zM144 563.07h1v1.95h-1zM154 563.07h2v1.95h-2zM167 563.07h1v1.95h-1zM169 563.07h1v1.95h-1zM92 564.67h1v1.8h-1zM96 564.67h1v1.8h-1zM99 564.67h1v1.8h-1zM105 564.67h1v1.8h-1zM110 564.67h1v1.8h-1zM113 564.67h3v1.8h-3zM117 564.67h1v1.8h-1zM121 564.67h1v1.8h-1zM126 564.67h1v1.8h-1zM132 564.67h1v1.8h-1zM134 564.67h1v1.8h-1zM136 564.67h1v1.8h-1zM138 564.67h2v1.8h-2zM141 564.67h1v1.8h-1zM152 564.67h1v1.8h-1zM173 564.67h3v1.8h-3zM182 564.67h1v1.8h-1zM184 564.67h1v1.8h-1zM189 564.67h1v1.8h-1zM191 564.67h1v1.8h-1zM98 566.11h1v1.9h-1zM105 566.11h1v1.9h-1z"/>
<path fill="#48007a" d="M149 553.55h1v2.44h-1zM151 553.55h1v2.44h-1zM135 555.64h1v2.39h-1zM151 555.64h1v2.39h-1zM156 555.64h1v2.39h-1zM169 555.64h2v2.39h-2zM105 557.69h1v2.29h-1zM123 557.69h3v2.29h-3zM127 557.69h2v2.29h-2zM176 557.69h1v2.29h-1zM179 557.69h1v2.29h-1zM96 559.63h1v1.85h-1zM100 559.63h1v1.85h-1zM102 559.63h2v1.85h-2zM105 559.63h1v1.85h-1zM107 559.63h1v1.85h-1zM109 559.63h1v1.85h-1zM117 559.63h1v1.85h-1zM195 559.63h1v1.85h-1zM96 561.13h3v2.29h-3zM107 561.13h1v2.29h-1zM112 561.13h1v2.29h-1zM115 561.13h2v2.29h-2zM118 561.13h1v2.29h-1zM126 561.13h1v2.29h-1zM129 561.13h1v2.29h-1zM153 561.13h1v2.29h-1zM168 561.13h1v2.29h-1zM101 563.07h1v1.95h-1zM112 563.07h1v1.95h-1zM121 563.07h1v1.95h-1zM129 563.07h3v1.95h-3zM141 563.07h1v1.95h-1zM143 563.07h1v1.95h-1zM147 563.07h1v1.95h-1zM161 563.07h2v1.95h-2zM175 563.07h1v1.95h-1zM186 563.07h3v1.95h-3zM190 563.07h2v1.95h-2zM196 563.07h1v1.95h-1zM148 564.67h1v1.8h-1zM180 564.67h1v1.8h-1z"/>
<path fill="#40009c" d="M92 555.64h1v2.39h-1zM130 555.64h1v2.39h-1zM134 555.64h1v2.39h-1zM147 555.64h1v2.39h-1zM153 555.64h1v2.39h-1zM155 555.64h1v2.39h-1zM157 555.64h1v2.39h-1zM160 555.64h2v2.39h-2zM164 555.64h1v2.39h-1zM166 555.64h1v2.39h-1zM92 557.69h1v2.29h-1zM94 557.69h2v2.29h-2zM119 557.69h4v2.29h-4zM129 557.69h1v2.29h-1zM175 557.69h1v2.29h-1zM181 557.69h1v2.29h-1zM183 557.69h1v2.29h-1zM93 559.63h1v1.85h-1zM95 559.63h1v1.85h-1zM98 559.63h1v1.85h-1zM101 559.63h1v1.85h-1zM106 559.63h1v1.85h-1zM126 559.63h1v1.85h-1zM188 559.63h1v1.85h-1zM193 559.63h2v1.85h-2zM196 559.63h1v1.85h-1zM93 561.13h3v2.29h-3zM106 561.13h1v2.29h-1zM109 561.13h2v2.29h-2zM113 561.13h1v2.29h-1zM125 561.13h1v2.29h-1zM128 561.13h1v2.29h-1zM132 561.13h3v2.29h-3zM146 561.13h1v2.29h-1zM155 561.13h1v2.29h-1zM167 561.13h1v2.29h-1zM196 561.13h1v2.29h-1zM120 563.07h1v1.95h-1zM128 563.07h1v1.95h-1zM133 563.07h2v1.95h-2zM156 563.07h2v1.95h-2zM165 563.07h2v1.95h-2zM170 563.07h1v1.95h-1zM179 563.07h1v1.95h-1zM182 563.07h1v1.95h-1zM184 563.07h2v1.95h-2zM192 563.07h1v1.95h-1zM194 563.07h1v1.95h-1z"/>
<path fill="#3500c1" d="M95 555.64h1v2.39h-1zM133 555.64h1v2.39h-1zM138 555.64h2v2.39h-2zM141 555.64h5v2.39h-5zM148 555.64h2v2.39h-2zM152 555.64h1v2.39h-1zM158 555.64h1v2.39h-1zM162 555.64h1v2.39h-1zM165 555.64h1v2.39h-1zM167 555.64h2v2.39h-2zM93 557.69h1v2.29h-1zM153 557.69h1v2.29h-1zM173 557.69h2v2.29h-2zM177 557.69h1v2.29h-1zM94 559.63h1v1.85h-1zM115 559.63h1v1.85h-1zM122 559.63h1v1.85h-1zM127 559.63h1v1.85h-1zM129 559.63h1v1.85h-1zM155 559.63h1v1.85h-1zM185 559.63h2v1.85h-2zM190 559.63h2v1.85h-2zM123 561.13h1v2.29h-1zM127 561.13h1v2.29h-1zM139 561.13h3v2.29h-3zM144 561.13h1v2.29h-1zM149 561.13h1v2.29h-1zM154 561.13h1v2.29h-1zM159 561.13h2v2.29h-2zM169 561.13h2v2.29h-2zM195 561.13h1v2.29h-1zM126 563.07h2v1.95h-2zM149 563.07h1v1.95h-1zM163 563.07h2v1.95h-2zM173 563.07h2v1.95h-2zM176 563.07h1v1.95h-1zM178 563.07h1v1.95h-1zM180 563.07h2v1.95h-2zM183 563.07h1v1.95h-1zM189 563.07h1v1.95h-1zM195 563.07h1v1.95h-1z"/>
<path fill="#2900e7" d="M131 555.64h1v2.39h-1zM136 555.64h2v2.39h-2zM140 555.64h1v2.39h-1zM146 555.64h1v2.39h-1zM159 555.64h1v2.39h-1zM171 555.64h1v2.39h-1zM132 557.69h1v2.29h-1zM137 557.69h1v2.29h-1zM150 557.69h1v2.29h-1zM154 557.69h1v2.29h-1zM156 557.69h1v2.29h-1zM169 557.69h1v2.29h-1zM172 557.69h1v2.29h-1zM178 557.69h1v2.29h-1zM180 557.69h1v2.29h-1zM92 559.63h1v1.85h-1zM116 559.63h1v1.85h-1zM120 559.63h1v1.85h-1zM123 559.63h1v1.85h-1zM128 559.63h1v1.85h-1zM130 559.63h1v1.85h-1zM134 559.63h1v1.85h-1zM140 559.63h2v1.85h-2zM179 559.63h1v1.85h-1zM183 559.63h2v1.85h-2zM187 559.63h1v1.85h-1zM192 559.63h1v1.85h-1zM119 561.13h2v2.29h-2zM124 561.13h1v2.29h-1zM135 561.13h1v2.29h-1zM142 561.13h2v2.29h-2zM145 561.13h1v2.29h-1zM150 561.13h3v2.29h-3zM164 561.13h1v2.29h-1zM171 561.13h1v2.29h-1zM181 561.13h2v2.29h-2zM184 561.13h1v2.29h-1zM158 563.07h1v1.95h-1zM177 563.07h1v1.95h-1zM193 563.07h1v1.95h-1z"/>
<path fill="#0905ff" d="M132 555.64h1v2.39h-1zM136 557.69h1v2.29h-1zM140 557.69h1v2.29h-1zM143 557.69h1v2.29h-1zM152 557.69h1v2.29h-1zM157 557.69h1v2.29h-1zM159 557.69h1v2.29h-1zM168 557.69h1v2.29h-1zM135 559.63h1v1.85h-1zM137 559.63h1v1.85h-1zM139 559.63h1v1.85h-1zM143 559.63h1v1.85h-1zM147 559.63h1v1.85h-1zM150 559.63h3v1.85h-3zM154 559.63h1v1.85h-1zM160 559.63h1v1.85h-1zM167 559.63h1v1.85h-1zM171 559.63h1v1.85h-1zM177 559.63h1v1.85h-1zM182 559.63h1v1.85h-1zM121 561.13h1v2.29h-1zM136 561.13h1v2.29h-1zM157 561.13h1v2.29h-1zM163 561.13h1v2.29h-1zM165 561.13h1v2.29h-1zM172 561.13h1v2.29h-1zM174 561.13h3v2.29h-3zM180 561.13h1v2.29h-1zM188 561.13h1v2.29h-1zM190 561.13h1v2.29h-1zM192 561.13h1v2.29h-1z"/>
<path fill="#1800f6" d="M150 555.64h1v2.39h-1zM154 555.64h1v2.39h-1zM163 555.64h1v2.39h-1zM130 557.69h1v2.29h-1zM135 557.69h1v2.29h-1zM138 557.69h2v2.29h-2zM141 557.69h1v2.29h-1zM145 557.69h2v2.29h-2zM149 557.69h1v2.29h-1zM155 557.69h1v2.29h-1zM158 557.69h1v2.29h-1zM164 557.69h4v2.29h-4zM170 557.69h2v2.29h-2zM182 557.69h1v2.29h-1zM119 559.63h1v1.85h-1zM124 559.63h1v1.85h-1zM131 559.63h1v1.85h-1zM138 559.63h1v1.85h-1zM142 559.63h1v1.85h-1zM156 559.63h1v1.85h-1zM159 559.63h1v1.85h-1zM162 559.63h2v1.85h-2zM166 559.63h1v1.85h-1zM178 559.63h1v1.85h-1zM122 561.13h1v2.29h-1zM130 561.13h2v2.29h-2zM137 561.13h2v2.29h-2zM147 561.13h1v2.29h-1zM156 561.13h1v2.29h-1zM161 561.13h2v2.29h-2zM173 561.13h1v2.29h-1zM177 561.13h2v2.29h-2zM185 561.13h3v2.29h-3zM189 561.13h1v2.29h-1zM191 561.13h1v2.29h-1zM172 563.07h1v1.95h-1z"/>
<path fill="#0621ff" d="M131 557.69h1v2.29h-1zM133 557.69h2v2.29h-2zM147 557.69h1v2.29h-1zM151 557.69h1v2.29h-1zM162 557.69h2v2.29h-2zM121 559.63h1v1.85h-1zM132 559.63h2v1.85h-2zM144 559.63h3v1.85h-3zM148 559.63h1v1.85h-1zM153 559.63h1v1.85h-1zM157 559.63h2v1.85h-2zM161 559.63h1v1.85h-1zM164 559.63h2v1.85h-2zM170 559.63h1v1.85h-1zM176 559.63h1v1.85h-1zM180 559.63h2v1.85h-2zM189 559.63h1v1.85h-1zM158 561.13h1v2.29h-1zM166 561.13h1v2.29h-1zM183 561.13h1v2.29h-1zM194 561.13h1v2.29h-1z"/>
<path fill="#033cff" d="M142 557.69h1v2.29h-1zM144 557.69h1v2.29h-1zM148 557.69h1v2.29h-1zM160 557.69h1v2.29h-1zM136 559.63h1v1.85h-1zM149 559.63h1v1.85h-1zM168 559.63h1v1.85h-1zM172 559.63h2v1.85h-2zM175 559.63h1v1.85h-1zM179 561.13h1v2.29h-1z"/>
<path fill="#0057ff" d="M161 557.69h1v2.29h-1zM169 559.63h1v1.85h-1zM193 561.13h1v2.29h-1z"/>
<path fill="#0069ff" d="M174 559.63h1v1.85h-1z"/>
<rect x="96.5" y="505.92" width="101" height="4.29" fill="#fff" opacity="0.55"/>
<path d="M92 519.44H197" stroke="#fff" stroke-width="1" opacity="0.193"/>
<path d="M92 523.73H197" stroke="#fff" stroke-width="1" opacity="0.165"/>
<path d="M92 527.96H197" stroke="#fff" stroke-width="1" opacity="0.165"/>
<path d="M92 531.93H197" stroke="#fff" stroke-width="1" opacity="0.165"/>
<path d="M100 535.67H197" stroke="#fff" stroke-width="1.05" opacity="1"/>
<path d="M92 551.73H197" stroke="#fff" stroke-width="1" opacity="0.017"/>
<path d="M92 553.47H197" stroke="#fff" stroke-width="1" opacity="0.017"/>
<path d="M92 555.39H197" stroke="#fff" stroke-width="1" opacity="0.017"/>
<path d="M92 557.44H197" stroke="#fff" stroke-width="1" opacity="0.022"/>
<path d="M92 559.43H197" stroke="#fff" stroke-width="1" opacity="0.028"/>
<path d="M92 560.93H197" stroke="#fff" stroke-width="1" opacity="0.055"/>
<path d="M92 562.67H197" stroke="#fff" stroke-width="1" opacity="0.055"/>
<path d="M92 564.42H197" stroke="#fff" stroke-width="1" opacity="0.083"/>
<path d="M92 565.89H197" stroke="#fff" stroke-width="1" opacity="0.11"/>
<path d="M96 567.44H197" stroke="#fff" stroke-width="1.05" opacity="1"/>
<path d="M92 569.13H197" stroke="#fff" stroke-width="1" opacity="0.11"/>
<path d="M92 570.9H197" stroke="#fff" stroke-width="1" opacity="0.11"/>
<path d="M92 572.65H197" stroke="#fff" stroke-width="1" opacity="0.165"/>
<path d="M92 574.42H197" stroke="#fff" stroke-width="1.05" opacity="1"/>
<path d="M94 576.36H197" stroke="#fff" stroke-width="1.05" opacity="1"/>
<path d="M100 578.38H197" stroke="#fff" stroke-width="1.05" opacity="1"/>
<path d="M96 580.63H197" stroke="#fff" stroke-width="1.05" opacity="1"/>
<path d="M92 582.65H197" stroke="#fff" stroke-width="1" opacity="0.33"/>
</g>
<g>
<path fill="#000000" d="M131 590.02h4v3.69h-4zM138 590.02h2v3.69h-2zM92 594.56h4v3.94h-4zM118 594.56h8v3.94h-8zM130 594.56h16v3.94h-16zM147 594.56h2v3.94h-2zM152 594.56h5v3.94h-5zM167 594.56h7v3.94h-7zM176 594.56h1v3.94h-1zM92 599.05h6v3.99h-6zM99 599.05h2v3.99h-2zM102 599.05h1v3.99h-1zM107 599.05h9v3.99h-9zM118 599.05h67v3.99h-67zM188 599.05h4v3.99h-4zM193 599.05h2v3.99h-2zM92 603.44h105v4.89h-105zM92 607.97h105v4.39h-105zM92 612.01h105v4.29h-105zM92 615.95h105v4.34h-105zM92 619.94h105v2.79h-105zM92 622.39h105v2.74h-105zM92 624.78h105v2.64h-105zM92 627.07h105v2.64h-105zM92 629.37h105v2.39h-105zM92 631.41h105v2.39h-105zM92 633.46h105v2.49h-105zM92 635.6h105v2.1h-105zM92 637.35h39v2.44h-39zM133 637.35h2v2.44h-2zM138 637.35h1v2.44h-1zM145 637.35h1v2.44h-1zM147 637.35h2v2.44h-2zM155 637.35h3v2.44h-3zM159 637.35h3v2.44h-3zM164 637.35h4v2.44h-4zM171 637.35h26v2.44h-26zM96 639.44h2v2.39h-2zM99 639.44h2v2.39h-2zM102 639.44h3v2.39h-3zM107 639.44h4v2.39h-4zM112 639.44h2v2.39h-2zM115 639.44h2v2.39h-2zM120 639.44h2v2.39h-2zM123 639.44h1v2.39h-1zM125 639.44h1v2.39h-1zM127 639.44h3v2.39h-3zM172 639.44h1v2.39h-1zM175 639.44h4v2.39h-4zM180 639.44h1v2.39h-1zM182 639.44h1v2.39h-1zM184 639.44h3v2.39h-3zM188 639.44h5v2.39h-5zM194 639.44h3v2.39h-3zM96 641.49h1v2.29h-1zM98 641.49h1v2.29h-1zM101 641.49h3v2.29h-3zM108 641.49h1v2.29h-1zM110 641.49h3v2.29h-3zM117 641.49h2v2.29h-2zM183 641.49h1v2.29h-1zM185 641.49h1v2.29h-1zM187 641.49h2v2.29h-2zM190 641.49h3v2.29h-3zM195 641.49h1v2.29h-1zM125 643.43h1v1.85h-1zM99 644.93h1v2.29h-1zM92 646.87h1v1.95h-1zM95 646.87h1v1.95h-1zM98 646.87h2v1.95h-2zM104 646.87h1v1.95h-1zM106 646.87h1v1.95h-1zM113 646.87h1v1.95h-1zM115 646.87h3v1.95h-3zM138 646.87h1v1.95h-1zM140 646.87h1v1.95h-1zM92 648.47h2v1.8h-2zM102 648.47h1v1.8h-1zM104 648.47h3v1.8h-3zM108 648.47h2v1.8h-2zM111 648.47h5v1.8h-5zM117 648.47h1v1.8h-1zM120 648.47h1v1.8h-1zM123 648.47h2v1.8h-2zM130 648.47h1v1.8h-1zM132 648.47h2v1.8h-2zM136 648.47h3v1.8h-3zM141 648.47h4v1.8h-4zM147 648.47h1v1.8h-1zM150 648.47h2v1.8h-2zM153 648.47h1v1.8h-1zM156 648.47h4v1.8h-4zM161 648.47h2v1.8h-2zM164 648.47h9v1.8h-9zM178 648.47h1v1.8h-1zM180 648.47h1v1.8h-1zM182 648.47h1v1.8h-1zM184 648.47h1v1.8h-1zM187 648.47h1v1.8h-1zM189 648.47h1v1.8h-1zM191 648.47h1v1.8h-1zM196 648.47h1v1.8h-1zM92 649.91h15v1.9h-15zM108 649.91h3v1.9h-3zM112 649.91h64v1.9h-64zM177 649.91h16v1.9h-16zM194 649.91h3v1.9h-3zM92 651.46h105v2.19h-105zM92 653.31h105v2.05h-105zM92 655h105v2.19h-105zM92 656.85h105v2h-105zM92 658.49h105v2.29h-105zM92 660.44h105v2.39h-105zM92 662.48h105v2.74h-105zM92 664.88h105v1.05h-105zM94 666.97h37v1.45h-37zM132 666.97h2v1.45h-2zM137 666.97h2v1.45h-2zM141 666.97h1v1.45h-1zM144 666.97h2v1.45h-2zM147 666.97h3v1.45h-3zM151 666.97h2v1.45h-2zM155 666.97h3v1.45h-3zM160 666.97h8v1.45h-8zM172 666.97h25v1.45h-25zM94 669.46h2v1.4h-2zM98 669.46h8v1.4h-8zM107 669.46h1v1.4h-1zM109 669.46h12v1.4h-12zM123 669.46h2v1.4h-2zM126 669.46h1v1.4h-1zM173 669.46h1v1.4h-1zM177 669.46h2v1.4h-2zM183 669.46h8v1.4h-8zM192 669.46h3v1.4h-3zM92 671.86h4v1.1h-4zM97 671.86h1v1.1h-1zM100 671.86h2v1.1h-2zM104 671.86h1v1.1h-1zM107 671.86h1v1.1h-1zM110 671.86h1v1.1h-1zM113 671.86h7v1.1h-7zM183 671.86h1v1.1h-1zM189 671.86h1v1.1h-1zM193 671.86h1v1.1h-1z"/>
<path fill="#34003e" d="M131 637.35h1v2.44h-1zM139 637.35h2v2.44h-2zM150 637.35h4v2.44h-4zM158 637.35h1v2.44h-1zM163 637.35h1v2.44h-1zM168 637.35h1v2.44h-1zM170 637.35h1v2.44h-1zM93 639.44h1v2.39h-1zM117 639.44h1v2.39h-1zM130 639.44h1v2.39h-1zM150 639.44h1v2.39h-1zM187 639.44h1v2.39h-1zM99 641.49h1v2.29h-1zM105 641.49h1v2.29h-1zM107 641.49h1v2.29h-1zM115 641.49h1v2.29h-1zM184 641.49h1v2.29h-1zM186 641.49h1v2.29h-1zM189 641.49h1v2.29h-1zM196 641.49h1v2.29h-1zM96 643.43h1v1.85h-1zM99 643.43h2v1.85h-2zM103 643.43h1v1.85h-1zM105 643.43h1v1.85h-1zM109 643.43h1v1.85h-1zM112 643.43h1v1.85h-1zM114 643.43h1v1.85h-1zM92 644.93h1v2.29h-1zM94 644.93h2v2.29h-2zM101 644.93h3v2.29h-3zM105 644.93h1v2.29h-1zM112 644.93h1v2.29h-1zM114 644.93h4v2.29h-4zM126 644.93h1v2.29h-1zM133 644.93h1v2.29h-1zM168 644.93h1v2.29h-1zM97 646.87h1v1.95h-1zM101 646.87h3v1.95h-3zM107 646.87h1v1.95h-1zM109 646.87h4v1.95h-4zM114 646.87h1v1.95h-1zM122 646.87h1v1.95h-1zM126 646.87h1v1.95h-1zM129 646.87h1v1.95h-1zM133 646.87h4v1.95h-4zM141 646.87h2v1.95h-2zM147 646.87h1v1.95h-1zM150 646.87h1v1.95h-1zM153 646.87h1v1.95h-1zM155 646.87h1v1.95h-1zM169 646.87h1v1.95h-1zM171 646.87h1v1.95h-1zM186 646.87h1v1.95h-1zM97 648.47h1v1.8h-1zM107 648.47h1v1.8h-1zM110 648.47h1v1.8h-1zM125 648.47h1v1.8h-1zM127 648.47h2v1.8h-2zM131 648.47h1v1.8h-1zM149 648.47h1v1.8h-1zM160 648.47h1v1.8h-1zM176 648.47h1v1.8h-1zM181 648.47h1v1.8h-1zM188 648.47h1v1.8h-1zM193 648.47h3v1.8h-3z"/>
<path fill="#1b001b" d="M132 637.35h1v2.44h-1zM135 637.35h3v2.44h-3zM143 637.35h1v2.44h-1zM149 637.35h1v2.44h-1zM154 637.35h1v2.44h-1zM162 637.35h1v2.44h-1zM169 637.35h1v2.44h-1zM94 639.44h2v2.39h-2zM98 639.44h1v2.39h-1zM101 639.44h1v2.39h-1zM105 639.44h2v2.39h-2zM111 639.44h1v2.39h-1zM114 639.44h1v2.39h-1zM118 639.44h2v2.39h-2zM122 639.44h1v2.39h-1zM124 639.44h1v2.39h-1zM126 639.44h1v2.39h-1zM173 639.44h2v2.39h-2zM179 639.44h1v2.39h-1zM181 639.44h1v2.39h-1zM183 639.44h1v2.39h-1zM193 639.44h1v2.39h-1zM100 641.49h1v2.29h-1zM104 641.49h1v2.29h-1zM106 641.49h1v2.29h-1zM109 641.49h1v2.29h-1zM113 641.49h2v2.29h-2zM116 641.49h1v2.29h-1zM120 641.49h1v2.29h-1zM193 641.49h1v2.29h-1zM101 643.43h1v1.85h-1zM104 643.43h1v1.85h-1zM107 643.43h2v1.85h-2zM110 643.43h2v1.85h-2zM118 643.43h1v1.85h-1zM93 646.87h2v1.95h-2zM100 646.87h1v1.95h-1zM119 646.87h2v1.95h-2zM128 646.87h1v1.95h-1zM132 646.87h1v1.95h-1zM144 646.87h3v1.95h-3zM149 646.87h1v1.95h-1zM151 646.87h1v1.95h-1zM154 646.87h1v1.95h-1zM160 646.87h1v1.95h-1zM167 646.87h2v1.95h-2zM94 648.47h3v1.8h-3zM98 648.47h4v1.8h-4zM103 648.47h1v1.8h-1zM116 648.47h1v1.8h-1zM118 648.47h2v1.8h-2zM121 648.47h2v1.8h-2zM126 648.47h1v1.8h-1zM129 648.47h1v1.8h-1zM134 648.47h2v1.8h-2zM140 648.47h1v1.8h-1zM145 648.47h2v1.8h-2zM148 648.47h1v1.8h-1zM154 648.47h2v1.8h-2zM163 648.47h1v1.8h-1zM173 648.47h1v1.8h-1zM175 648.47h1v1.8h-1zM177 648.47h1v1.8h-1zM179 648.47h1v1.8h-1zM183 648.47h1v1.8h-1zM185 648.47h2v1.8h-2zM190 648.47h1v1.8h-1zM192 648.47h1v1.8h-1zM107 649.91h1v1.9h-1zM111 649.91h1v1.9h-1zM176 649.91h1v1.9h-1zM193 649.91h1v1.9h-1z"/>
<path fill="#48007a" d="M141 637.35h2v2.44h-2zM131 639.44h1v2.39h-1zM135 639.44h1v2.39h-1zM138 639.44h1v2.39h-1zM142 639.44h1v2.39h-1zM149 639.44h1v2.39h-1zM152 639.44h1v2.39h-1zM159 639.44h1v2.39h-1zM161 639.44h1v2.39h-1zM169 639.44h1v2.39h-1zM95 641.49h1v2.29h-1zM119 641.49h1v2.29h-1zM124 641.49h3v2.29h-3zM157 641.49h1v2.29h-1zM175 641.49h2v2.29h-2zM92 643.43h1v1.85h-1zM95 643.43h1v1.85h-1zM98 643.43h1v1.85h-1zM102 643.43h1v1.85h-1zM119 643.43h1v1.85h-1zM126 643.43h1v1.85h-1zM129 643.43h1v1.85h-1zM178 643.43h1v1.85h-1zM186 643.43h1v1.85h-1zM194 643.43h1v1.85h-1zM196 643.43h1v1.85h-1zM97 644.93h1v2.29h-1zM100 644.93h1v2.29h-1zM104 644.93h1v2.29h-1zM111 644.93h1v2.29h-1zM113 644.93h1v2.29h-1zM124 644.93h2v2.29h-2zM129 644.93h1v2.29h-1zM146 644.93h1v2.29h-1zM155 644.93h1v2.29h-1zM167 644.93h1v2.29h-1zM171 644.93h1v2.29h-1zM108 646.87h1v1.95h-1zM123 646.87h1v1.95h-1zM130 646.87h1v1.95h-1zM162 646.87h2v1.95h-2zM178 646.87h1v1.95h-1zM180 646.87h2v1.95h-2zM183 646.87h1v1.95h-1zM185 646.87h1v1.95h-1zM188 646.87h1v1.95h-1zM190 646.87h2v1.95h-2zM193 646.87h1v1.95h-1z"/>
<path fill="#43005e" d="M144 637.35h1v2.44h-1zM146 637.35h1v2.44h-1zM92 639.44h1v2.39h-1zM137 639.44h1v2.39h-1zM140 639.44h1v2.39h-1zM147 639.44h2v2.39h-2zM151 639.44h1v2.39h-1zM153 639.44h3v2.39h-3zM93 641.49h1v2.29h-1zM97 641.49h1v2.29h-1zM121 641.49h3v2.29h-3zM127 641.49h3v2.29h-3zM172 641.49h1v2.29h-1zM178 641.49h2v2.29h-2zM181 641.49h1v2.29h-1zM194 641.49h1v2.29h-1zM94 643.43h1v1.85h-1zM97 643.43h1v1.85h-1zM106 643.43h1v1.85h-1zM113 643.43h1v1.85h-1zM115 643.43h3v1.85h-3zM128 643.43h1v1.85h-1zM188 643.43h1v1.85h-1zM93 644.93h1v2.29h-1zM96 644.93h1v2.29h-1zM106 644.93h5v2.29h-5zM118 644.93h1v2.29h-1zM123 644.93h1v2.29h-1zM128 644.93h1v2.29h-1zM152 644.93h1v2.29h-1zM169 644.93h1v2.29h-1zM96 646.87h1v1.95h-1zM105 646.87h1v1.95h-1zM118 646.87h1v1.95h-1zM121 646.87h1v1.95h-1zM124 646.87h2v1.95h-2zM127 646.87h1v1.95h-1zM131 646.87h1v1.95h-1zM137 646.87h1v1.95h-1zM139 646.87h1v1.95h-1zM143 646.87h1v1.95h-1zM152 646.87h1v1.95h-1zM157 646.87h3v1.95h-3zM161 646.87h1v1.95h-1zM170 646.87h1v1.95h-1zM179 646.87h1v1.95h-1zM182 646.87h1v1.95h-1zM187 646.87h1v1.95h-1zM192 646.87h1v1.95h-1zM194 646.87h1v1.95h-1zM196 646.87h1v1.95h-1zM139 648.47h1v1.8h-1zM152 648.47h1v1.8h-1zM174 648.47h1v1.8h-1z"/>
<path fill="#40009c" d="M132 639.44h3v2.39h-3zM139 639.44h1v2.39h-1zM141 639.44h1v2.39h-1zM143 639.44h3v2.39h-3zM157 639.44h2v2.39h-2zM160 639.44h1v2.39h-1zM162 639.44h1v2.39h-1zM165 639.44h4v2.39h-4zM171 639.44h1v2.39h-1zM92 641.49h1v2.29h-1zM138 641.49h1v2.29h-1zM155 641.49h1v2.29h-1zM168 641.49h1v2.29h-1zM173 641.49h2v2.29h-2zM177 641.49h1v2.29h-1zM180 641.49h1v2.29h-1zM120 643.43h1v1.85h-1zM123 643.43h1v1.85h-1zM127 643.43h1v1.85h-1zM155 643.43h1v1.85h-1zM163 643.43h1v1.85h-1zM183 643.43h3v1.85h-3zM189 643.43h1v1.85h-1zM192 643.43h2v1.85h-2zM195 643.43h1v1.85h-1zM98 644.93h1v2.29h-1zM127 644.93h1v2.29h-1zM130 644.93h1v2.29h-1zM134 644.93h2v2.29h-2zM138 644.93h3v2.29h-3zM142 644.93h3v2.29h-3zM151 644.93h1v2.29h-1zM170 644.93h1v2.29h-1zM174 644.93h1v2.29h-1zM180 644.93h1v2.29h-1zM186 644.93h1v2.29h-1zM194 644.93h1v2.29h-1zM196 644.93h1v2.29h-1zM148 646.87h1v1.95h-1zM156 646.87h1v1.95h-1zM164 646.87h2v1.95h-2zM172 646.87h5v1.95h-5zM195 646.87h1v1.95h-1z"/>
<path fill="#3500c1" d="M136 639.44h1v2.39h-1zM146 639.44h1v2.39h-1zM156 639.44h1v2.39h-1zM163 639.44h2v2.39h-2zM170 639.44h1v2.39h-1zM94 641.49h1v2.29h-1zM131 641.49h2v2.29h-2zM135 641.49h1v2.29h-1zM146 641.49h1v2.29h-1zM150 641.49h1v2.29h-1zM152 641.49h3v2.29h-3zM165 641.49h1v2.29h-1zM167 641.49h1v2.29h-1zM169 641.49h2v2.29h-2zM182 641.49h1v2.29h-1zM93 643.43h1v1.85h-1zM122 643.43h1v1.85h-1zM124 643.43h1v1.85h-1zM133 643.43h1v1.85h-1zM138 643.43h2v1.85h-2zM156 643.43h1v1.85h-1zM167 643.43h1v1.85h-1zM181 643.43h1v1.85h-1zM187 643.43h1v1.85h-1zM191 643.43h1v1.85h-1zM119 644.93h2v2.29h-2zM132 644.93h1v2.29h-1zM141 644.93h1v2.29h-1zM145 644.93h1v2.29h-1zM148 644.93h3v2.29h-3zM153 644.93h2v2.29h-2zM157 644.93h1v2.29h-1zM159 644.93h2v2.29h-2zM165 644.93h1v2.29h-1zM172 644.93h1v2.29h-1zM177 644.93h1v2.29h-1zM184 644.93h1v2.29h-1zM190 644.93h1v2.29h-1zM195 644.93h1v2.29h-1zM177 646.87h1v1.95h-1zM184 646.87h1v1.95h-1zM189 646.87h1v1.95h-1z"/>
<path fill="#1800f6" d="M130 641.49h1v2.29h-1zM133 641.49h2v2.29h-2zM141 641.49h1v2.29h-1zM143 641.49h2v2.29h-2zM147 641.49h3v2.29h-3zM159 641.49h2v2.29h-2zM163 641.49h1v2.29h-1zM171 641.49h1v2.29h-1zM130 643.43h1v1.85h-1zM132 643.43h1v1.85h-1zM134 643.43h1v1.85h-1zM143 643.43h1v1.85h-1zM150 643.43h3v1.85h-3zM154 643.43h1v1.85h-1zM157 643.43h2v1.85h-2zM166 643.43h1v1.85h-1zM174 643.43h1v1.85h-1zM176 643.43h2v1.85h-2zM180 643.43h1v1.85h-1zM190 643.43h1v1.85h-1zM121 644.93h1v2.29h-1zM131 644.93h1v2.29h-1zM158 644.93h1v2.29h-1zM162 644.93h1v2.29h-1zM176 644.93h1v2.29h-1zM178 644.93h1v2.29h-1zM182 644.93h1v2.29h-1zM187 644.93h1v2.29h-1zM189 644.93h1v2.29h-1zM193 644.93h1v2.29h-1z"/>
<path fill="#2900e7" d="M136 641.49h2v2.29h-2zM139 641.49h1v2.29h-1zM142 641.49h1v2.29h-1zM145 641.49h1v2.29h-1zM151 641.49h1v2.29h-1zM156 641.49h1v2.29h-1zM158 641.49h1v2.29h-1zM162 641.49h1v2.29h-1zM164 641.49h1v2.29h-1zM166 641.49h1v2.29h-1zM121 643.43h1v1.85h-1zM135 643.43h1v1.85h-1zM137 643.43h1v1.85h-1zM140 643.43h3v1.85h-3zM144 643.43h1v1.85h-1zM146 643.43h1v1.85h-1zM159 643.43h4v1.85h-4zM164 643.43h1v1.85h-1zM168 643.43h1v1.85h-1zM171 643.43h1v1.85h-1zM136 644.93h2v2.29h-2zM147 644.93h1v2.29h-1zM156 644.93h1v2.29h-1zM161 644.93h1v2.29h-1zM163 644.93h2v2.29h-2zM166 644.93h1v2.29h-1zM173 644.93h1v2.29h-1zM175 644.93h1v2.29h-1zM181 644.93h1v2.29h-1zM183 644.93h1v2.29h-1zM185 644.93h1v2.29h-1zM188 644.93h1v2.29h-1zM191 644.93h1v2.29h-1zM166 646.87h1v1.95h-1z"/>
<path fill="#0905ff" d="M140 641.49h1v2.29h-1zM161 641.49h1v2.29h-1zM136 643.43h1v1.85h-1zM145 643.43h1v1.85h-1zM147 643.43h1v1.85h-1zM170 643.43h1v1.85h-1zM172 643.43h2v1.85h-2zM175 643.43h1v1.85h-1zM179 643.43h1v1.85h-1zM182 643.43h1v1.85h-1zM122 644.93h1v2.29h-1zM179 644.93h1v2.29h-1zM192 644.93h1v2.29h-1z"/>
<path fill="#0621ff" d="M131 643.43h1v1.85h-1zM148 643.43h2v1.85h-2zM153 643.43h1v1.85h-1zM165 643.43h1v1.85h-1z"/>
<path fill="#0057ff" d="M169 643.43h1v1.85h-1z"/>
<rect x="96.5" y="589.72" width="101" height="4.29" fill="#fff" opacity="0.55"/>
<path d="M92 603.24H197" stroke="#fff" stroke-width="1" opacity="0.165"/>
<path d="M92 607.53H197" stroke="#fff" stroke-width="1" opacity="0.165"/>
<path d="M92 611.76H197" stroke="#fff" stroke-width="1.05" opacity="1"/>
<path d="M96 615.73H197" stroke="#fff" stroke-width="1.05" opacity="1"/>
<path d="M100 619.47H197" stroke="#fff" stroke-width="1" opacity="0.22"/>
<path d="M92 635.53H197" stroke="#fff" stroke-width="1" opacity="0.017"/>
<path d="M92 637.27H197" stroke="#fff" stroke-width="1" opacity="0.017"/>
<path d="M92 639.19H197" stroke="#fff" stroke-width="1" opacity="0.017"/>
<path d="M92 641.24H197" stroke="#fff" stroke-width="1" opacity="0.022"/>
<path d="M92 643.23H197" stroke="#fff" stroke-width="1" opacity="0.028"/>
<path d="M92 644.73H197" stroke="#fff" stroke-width="1" opacity="0.193"/>
<path d="M92 646.47H197" stroke="#fff" stroke-width="1" opacity="0.165"/>
<path d="M92 648.22H197" stroke="#fff" stroke-width="1" opacity="0.11"/>
<path d="M92 649.69H197" stroke="#fff" stroke-width="1" opacity="0.165"/>
<path d="M92 651.24H197" stroke="#fff" stroke-width="1" opacity="0.193"/>
<path d="M92 652.93H197" stroke="#fff" stroke-width="1" opacity="0.165"/>
<path d="M92 654.7H197" stroke="#fff" stroke-width="1" opacity="0.22"/>
<path d="M92 656.45H197" stroke="#fff" stroke-width="1" opacity="0.22"/>
<path d="M92 658.22H197" stroke="#fff" stroke-width="1" opacity="0.248"/>
<path d="M92 660.16H197" stroke="#fff" stroke-width="1" opacity="0.193"/>
<path d="M92 662.18H197" stroke="#fff" stroke-width="1" opacity="0.22"/>
<path d="M92 664.43H197" stroke="#fff" stroke-width="1" opacity="0.165"/>
<path d="M92 666.45H197" stroke="#fff" stroke-width="1.05" opacity="1"/>
</g>
<g>
<path d="M91.75 288.5H520.25" stroke="#000" stroke-width="1"/>
<rect x="144" y="271.2" width="1" height="12" fill="#f00"/><rect x="144" y="283" width="1" height="8.2" fill="#7fff00"/>
<rect x="143" y="283" width="0.8" height="4" fill="#fbb"/>
<rect x="171" y="273.3" width="1.8" height="17.8" fill="#8cff10"/><rect x="171" y="281" width="1.8" height="6" fill="#b4aa10"/>
<rect x="181" y="276.2" width="1.2" height="15" fill="#7fff00"/><rect x="182.3" y="277" width="0.7" height="8" fill="#fcc"/>
<rect x="136.5" y="276" width="1.5" height="0.8" fill="#f66"/><rect x="166" y="274" width="0.8" height="0.8" fill="#f88"/><rect x="166" y="277.6" width="0.8" height="0.8" fill="#bf8"/>
<rect x="93" y="290.1" width="1" height="0.9" fill="#f22" opacity="0.85"/>
<rect x="97" y="289.6" width="1" height="0.9" fill="#f22" opacity="0.85"/>
<rect x="113" y="290.1" width="1" height="0.9" fill="#f22" opacity="0.85"/>
<rect x="114.5" y="290.6" width="1" height="0.9" fill="#f22" opacity="0.85"/>
<rect x="120.5" y="290.1" width="1" height="0.9" fill="#f22" opacity="0.85"/>
<rect x="126.5" y="290.1" width="1" height="0.9" fill="#f22" opacity="0.85"/>
<rect x="134.5" y="290.1" width="1" height="0.9" fill="#f22" opacity="0.85"/>
<rect x="135.5" y="290.3" width="1" height="0.9" fill="#f22" opacity="0.85"/>
<rect x="137.5" y="292.6" width="1" height="0.9" fill="#f22" opacity="0.85"/>
<rect x="140" y="290.8" width="1" height="0.9" fill="#f22" opacity="0.85"/>
<rect x="141" y="290.4" width="1" height="0.9" fill="#f22" opacity="0.85"/>
<rect x="145" y="290.6" width="1" height="0.9" fill="#f22" opacity="0.85"/>
<rect x="146" y="290.6" width="1" height="0.9" fill="#f22" opacity="0.85"/>
<rect x="152.5" y="291.1" width="1" height="0.9" fill="#f22" opacity="0.85"/>
<rect x="158" y="292.1" width="1" height="0.9" fill="#f22" opacity="0.85"/>
<rect x="160" y="292.1" width="1" height="0.9" fill="#f22" opacity="0.85"/>
<rect x="161" y="291.6" width="1" height="0.9" fill="#f22" opacity="0.85"/>
<rect x="164.5" y="290.6" width="1" height="0.9" fill="#f22" opacity="0.85"/>
<rect x="165.5" y="290.6" width="1" height="0.9" fill="#f22" opacity="0.85"/>
<rect x="170" y="290.6" width="1" height="0.9" fill="#f22" opacity="0.85"/>
<rect x="176" y="291.6" width="1" height="0.9" fill="#f22" opacity="0.85"/>
<rect x="179" y="290.6" width="1" height="0.9" fill="#f22" opacity="0.85"/>
<rect x="180.5" y="290.6" width="1" height="0.9" fill="#f22" opacity="0.85"/>
<rect x="183.5" y="290.1" width="1" height="0.9" fill="#f22" opacity="0.85"/>
<rect x="190" y="290.1" width="1" height="0.9" fill="#f22" opacity="0.85"/>
<rect x="191" y="290.6" width="1" height="0.9" fill="#f22" opacity="0.85"/>
<rect x="192" y="291.1" width="1" height="0.9" fill="#f22" opacity="0.85"/>
<rect x="117" y="284.6" width="1" height="0.9" fill="#f22" opacity="0.85"/>
<rect x="99" y="289.6" width="1" height="0.9" fill="#b4a000" opacity="0.8"/>
<rect x="100" y="289.6" width="1" height="0.9" fill="#b4a000" opacity="0.8"/>
<rect x="101" y="289.9" width="1" height="0.9" fill="#b4a000" opacity="0.8"/>
<rect x="102" y="289.6" width="1" height="0.9" fill="#b4a000" opacity="0.8"/>
<rect x="109" y="289.6" width="1" height="0.9" fill="#b4a000" opacity="0.8"/>
<rect x="110" y="289.6" width="1" height="0.9" fill="#b4a000" opacity="0.8"/>
<rect x="122" y="290.1" width="1" height="0.9" fill="#b4a000" opacity="0.8"/>
<rect x="123" y="290.1" width="1" height="0.9" fill="#b4a000" opacity="0.8"/>
<rect x="124" y="289.9" width="1" height="0.9" fill="#b4a000" opacity="0.8"/>
<rect x="186" y="289.6" width="1" height="0.9" fill="#b4a000" opacity="0.8"/>
<rect x="187" y="289.6" width="1" height="0.9" fill="#b4a000" opacity="0.8"/>
<rect x="188" y="289.8" width="1" height="0.9" fill="#b4a000" opacity="0.8"/>
<rect x="93" y="290.9" width="0.9" height="1.2" fill="#7fff00" opacity="0.85"/>
<rect x="118" y="289.9" width="0.9" height="1.2" fill="#7fff00" opacity="0.85"/>
<rect x="119" y="284.9" width="0.9" height="1.2" fill="#7fff00" opacity="0.85"/>
<rect x="147.5" y="286.4" width="0.9" height="1.2" fill="#7fff00" opacity="0.85"/>
<rect x="153" y="286.4" width="0.9" height="1.2" fill="#7fff00" opacity="0.85"/>
<rect x="158.5" y="285.9" width="0.9" height="1.2" fill="#7fff00" opacity="0.85"/>
<rect x="161" y="286.4" width="0.9" height="1.2" fill="#7fff00" opacity="0.85"/>
<rect x="165.5" y="285.9" width="0.9" height="1.2" fill="#7fff00" opacity="0.85"/>
<rect x="170" y="285.4" width="0.9" height="1.2" fill="#7fff00" opacity="0.85"/>
<rect x="176" y="285.9" width="0.9" height="1.2" fill="#7fff00" opacity="0.85"/>
<rect x="183.5" y="286.4" width="0.9" height="1.2" fill="#7fff00" opacity="0.85"/>
<rect x="193" y="289.2" width="0.9" height="1.2" fill="#7fff00" opacity="0.85"/>
<rect x="194" y="288.9" width="0.9" height="1.2" fill="#7fff00" opacity="0.85"/>
<rect x="195" y="289.2" width="0.9" height="1.2" fill="#7fff00" opacity="0.85"/>
<rect x="196" y="288.9" width="0.9" height="1.2" fill="#7fff00" opacity="0.85"/>
<rect x="95" y="286.7" width="0.9" height="1.2" fill="#7fff00" opacity="0.85"/>
<rect x="105" y="286.9" width="0.9" height="1.2" fill="#7fff00" opacity="0.85"/>
</g>
<path d="M91.75 244.5h4.9M520.25 244.5h-4.9M91.75 240.26h4.9M520.25 240.26h-4.9M91.75 236.02h4.9M520.25 236.02h-4.9M91.75 231.78h4.9M520.25 231.78h-4.9M91.75 227.55h4.9M520.25 227.55h-4.9M91.75 219.07h4.9M520.25 219.07h-4.9M91.75 214.84h4.9M520.25 214.84h-4.9M91.75 210.6h4.9M520.25 210.6h-4.9M91.75 206.36h4.9M520.25 206.36h-4.9M91.75 202.12h4.9M520.25 202.12h-4.9M91.75 197.89h4.9M520.25 197.89h-4.9M91.75 193.65h4.9M520.25 193.65h-4.9M91.75 189.41h4.9M520.25 189.41h-4.9M91.75 185.18h4.9M520.25 185.18h-4.9M91.75 176.7h4.9M520.25 176.7h-4.9M91.75 172.47h4.9M520.25 172.47h-4.9M91.75 168.23h4.9M520.25 168.23h-4.9M91.75 163.99h4.9M520.25 163.99h-4.9M91.75 159.75h4.9M520.25 159.75h-4.9M91.75 155.52h4.9M520.25 155.52h-4.9M91.75 151.28h4.9M520.25 151.28h-4.9M91.75 147.04h4.9M520.25 147.04h-4.9M91.75 142.81h4.9M520.25 142.81h-4.9M91.75 134.33h4.9M520.25 134.33h-4.9M91.75 130.1h4.9M520.25 130.1h-4.9M91.75 125.86h4.9M520.25 125.86h-4.9M91.75 121.62h4.9M520.25 121.62h-4.9M91.75 117.39h4.9M520.25 117.39h-4.9M91.75 113.15h4.9M520.25 113.15h-4.9M91.75 108.91h4.9M520.25 108.91h-4.9M91.75 104.67h4.9M520.25 104.67h-4.9M91.75 100.44h4.9M520.25 100.44h-4.9M91.75 91.96h4.9M520.25 91.96h-4.9M91.75 87.73h4.9M520.25 87.73h-4.9M91.75 83.49h4.9M520.25 83.49h-4.9" stroke="#000" stroke-width="0.9" fill="none"/>
<path d="M91.75 223.31h9M520.25 223.31h-9M91.75 180.94h9M520.25 180.94h-9M91.75 138.57h9M520.25 138.57h-9M91.75 96.2h9M520.25 96.2h-9" stroke="#000" stroke-width="1.1" fill="none"/>
<path d="M91.75 79.25v3.5M91.75 246.75v-3.5M127.46 79.25v1.6M127.46 246.75v-1.6M163.17 79.25v1.6M163.17 246.75v-1.6M198.88 79.25v3.5M198.88 246.75v-3.5M234.58 79.25v1.6M234.58 246.75v-1.6M270.29 79.25v1.6M270.29 246.75v-1.6M306 79.25v3.5M306 246.75v-3.5M341.71 79.25v1.6M341.71 246.75v-1.6M377.42 79.25v1.6M377.42 246.75v-1.6M413.12 79.25v3.5M413.12 246.75v-3.5M448.83 79.25v1.6M448.83 246.75v-1.6M484.54 79.25v1.6M484.54 246.75v-1.6M520.25 79.25v3.5M520.25 246.75v-3.5" stroke="#000" stroke-width="1.1" fill="none"/>
<path d="M91.75 321.05h4.4M520.25 321.05h-4.4M91.75 316.4h4.4M520.25 316.4h-4.4M91.75 311.75h4.4M520.25 311.75h-4.4M91.75 302.45h4.4M520.25 302.45h-4.4M91.75 297.8h4.4M520.25 297.8h-4.4M91.75 293.15h4.4M520.25 293.15h-4.4M91.75 283.85h4.4M520.25 283.85h-4.4M91.75 279.2h4.4M520.25 279.2h-4.4M91.75 274.55h4.4M520.25 274.55h-4.4M91.75 265.25h4.4M520.25 265.25h-4.4M91.75 260.6h4.4M520.25 260.6h-4.4M91.75 255.95h4.4M520.25 255.95h-4.4" stroke="#000" stroke-width="0.9" fill="none"/>
<path d="M91.75 325.7h8.8M520.25 325.7h-8.8M91.75 307.1h8.8M520.25 307.1h-8.8M91.75 288.5h8.8M520.25 288.5h-8.8M91.75 269.9h8.8M520.25 269.9h-8.8M91.75 251.3h8.8M520.25 251.3h-8.8" stroke="#000" stroke-width="1.1" fill="none"/>
<path d="M91.75 246.75v1.7M91.75 330.35v-1.7M127.46 246.75v1M127.46 330.35v-1M163.17 246.75v1M163.17 330.35v-1M198.88 246.75v1.7M198.88 330.35v-1.7M234.58 246.75v1M234.58 330.35v-1M270.29 246.75v1M270.29 330.35v-1M306 246.75v1.7M306 330.35v-1.7M341.71 246.75v1M341.71 330.35v-1M377.42 246.75v1M377.42 330.35v-1M413.12 246.75v1.7M413.12 330.35v-1.7M448.83 246.75v1M448.83 330.35v-1M484.54 246.75v1M484.54 330.35v-1M520.25 246.75v1.7M520.25 330.35v-1.7" stroke="#000" stroke-width="1.1" fill="none"/>
<path d="M91.75 420.75h4.8M520.25 420.75h-4.8M91.75 418.64h4.8M520.25 418.64h-4.8M91.75 416.53h4.8M520.25 416.53h-4.8M91.75 414.42h4.8M520.25 414.42h-4.8M91.75 412.3h4.8M520.25 412.3h-4.8M91.75 408.08h4.8M520.25 408.08h-4.8M91.75 405.96h4.8M520.25 405.96h-4.8M91.75 403.85h4.8M520.25 403.85h-4.8M91.75 401.74h4.8M520.25 401.74h-4.8M91.75 399.62h4.8M520.25 399.62h-4.8M91.75 397.51h4.8M520.25 397.51h-4.8M91.75 395.4h4.8M520.25 395.4h-4.8M91.75 393.29h4.8M520.25 393.29h-4.8M91.75 391.17h4.8M520.25 391.17h-4.8M91.75 386.95h4.8M520.25 386.95h-4.8M91.75 384.83h4.8M520.25 384.83h-4.8M91.75 382.72h4.8M520.25 382.72h-4.8M91.75 380.61h4.8M520.25 380.61h-4.8M91.75 378.5h4.8M520.25 378.5h-4.8M91.75 376.38h4.8M520.25 376.38h-4.8M91.75 374.27h4.8M520.25 374.27h-4.8M91.75 372.16h4.8M520.25 372.16h-4.8M91.75 370.04h4.8M520.25 370.04h-4.8M91.75 365.82h4.8M520.25 365.82h-4.8M91.75 363.7h4.8M520.25 363.7h-4.8M91.75 361.59h4.8M520.25 361.59h-4.8M91.75 359.48h4.8M520.25 359.48h-4.8M91.75 357.37h4.8M520.25 357.37h-4.8M91.75 355.25h4.8M520.25 355.25h-4.8M91.75 353.14h4.8M520.25 353.14h-4.8M91.75 351.03h4.8M520.25 351.03h-4.8M91.75 348.91h4.8M520.25 348.91h-4.8M91.75 344.69h4.8M520.25 344.69h-4.8M91.75 342.57h4.8M520.25 342.57h-4.8M91.75 340.46h4.8M520.25 340.46h-4.8" stroke="#000" stroke-width="0.75" fill="none"/>
<path d="M91.75 346.8h8.9M520.25 346.8h-8.9M91.75 367.93h8.9M520.25 367.93h-8.9M91.75 389.06h8.9M520.25 389.06h-8.9M91.75 410.19h8.9M520.25 410.19h-8.9" stroke="#000" stroke-width="1.1" fill="none"/>
<path d="M91.75 338.25v1.7M91.75 421.8v-1.7M127.46 338.25v1M127.46 421.8v-1M163.17 338.25v1M163.17 421.8v-1M198.88 338.25v1.7M198.88 421.8v-1.7M234.58 338.25v1M234.58 421.8v-1M270.29 338.25v1M270.29 421.8v-1M306 338.25v1.7M306 421.8v-1.7M341.71 338.25v1M341.71 421.8v-1M377.42 338.25v1M377.42 421.8v-1M413.12 338.25v1.7M413.12 421.8v-1.7M448.83 338.25v1M448.83 421.8v-1M484.54 338.25v1M484.54 421.8v-1M520.25 338.25v1.7M520.25 421.8v-1.7" stroke="#000" stroke-width="1.1" fill="none"/>
<path d="M91.75 504.56h4.8M520.25 504.56h-4.8M91.75 502.44h4.8M520.25 502.44h-4.8M91.75 500.33h4.8M520.25 500.33h-4.8M91.75 498.22h4.8M520.25 498.22h-4.8M91.75 496.1h4.8M520.25 496.1h-4.8M91.75 491.88h4.8M520.25 491.88h-4.8M91.75 489.76h4.8M520.25 489.76h-4.8M91.75 487.65h4.8M520.25 487.65h-4.8M91.75 485.54h4.8M520.25 485.54h-4.8M91.75 483.43h4.8M520.25 483.43h-4.8M91.75 481.31h4.8M520.25 481.31h-4.8M91.75 479.2h4.8M520.25 479.2h-4.8M91.75 477.09h4.8M520.25 477.09h-4.8M91.75 474.97h4.8M520.25 474.97h-4.8M91.75 470.75h4.8M520.25 470.75h-4.8M91.75 468.63h4.8M520.25 468.63h-4.8M91.75 466.52h4.8M520.25 466.52h-4.8M91.75 464.41h4.8M520.25 464.41h-4.8M91.75 462.3h4.8M520.25 462.3h-4.8M91.75 460.18h4.8M520.25 460.18h-4.8M91.75 458.07h4.8M520.25 458.07h-4.8M91.75 455.96h4.8M520.25 455.96h-4.8M91.75 453.84h4.8M520.25 453.84h-4.8M91.75 449.62h4.8M520.25 449.62h-4.8M91.75 447.5h4.8M520.25 447.5h-4.8M91.75 445.39h4.8M520.25 445.39h-4.8M91.75 443.28h4.8M520.25 443.28h-4.8M91.75 441.17h4.8M520.25 441.17h-4.8M91.75 439.05h4.8M520.25 439.05h-4.8M91.75 436.94h4.8M520.25 436.94h-4.8M91.75 434.83h4.8M520.25 434.83h-4.8M91.75 432.71h4.8M520.25 432.71h-4.8M91.75 428.49h4.8M520.25 428.49h-4.8M91.75 426.37h4.8M520.25 426.37h-4.8M91.75 424.26h4.8M520.25 424.26h-4.8" stroke="#000" stroke-width="0.75" fill="none"/>
<path d="M91.75 430.6h8.9M520.25 430.6h-8.9M91.75 451.73h8.9M520.25 451.73h-8.9M91.75 472.86h8.9M520.25 472.86h-8.9M91.75 493.99h8.9M520.25 493.99h-8.9" stroke="#000" stroke-width="1.1" fill="none"/>
<path d="M91.75 421.8v1.7M91.75 505.75v-1.7M127.46 421.8v1M127.46 505.75v-1M163.17 421.8v1M163.17 505.75v-1M198.88 421.8v1.7M198.88 505.75v-1.7M234.58 421.8v1M234.58 505.75v-1M270.29 421.8v1M270.29 505.75v-1M306 421.8v1.7M306 505.75v-1.7M341.71 421.8v1M341.71 505.75v-1M377.42 421.8v1M377.42 505.75v-1M413.12 421.8v1.7M413.12 505.75v-1.7M448.83 421.8v1M448.83 505.75v-1M484.54 421.8v1M484.54 505.75v-1M520.25 421.8v1.7M520.25 505.75v-1.7" stroke="#000" stroke-width="1.1" fill="none"/>
<path d="M91.75 588.36h4.8M520.25 588.36h-4.8M91.75 586.24h4.8M520.25 586.24h-4.8M91.75 584.13h4.8M520.25 584.13h-4.8M91.75 582.02h4.8M520.25 582.02h-4.8M91.75 579.9h4.8M520.25 579.9h-4.8M91.75 575.68h4.8M520.25 575.68h-4.8M91.75 573.56h4.8M520.25 573.56h-4.8M91.75 571.45h4.8M520.25 571.45h-4.8M91.75 569.34h4.8M520.25 569.34h-4.8M91.75 567.23h4.8M520.25 567.23h-4.8M91.75 565.11h4.8M520.25 565.11h-4.8M91.75 563h4.8M520.25 563h-4.8M91.75 560.89h4.8M520.25 560.89h-4.8M91.75 558.77h4.8M520.25 558.77h-4.8M91.75 554.55h4.8M520.25 554.55h-4.8M91.75 552.43h4.8M520.25 552.43h-4.8M91.75 550.32h4.8M520.25 550.32h-4.8M91.75 548.21h4.8M520.25 548.21h-4.8M91.75 546.1h4.8M520.25 546.1h-4.8M91.75 543.98h4.8M520.25 543.98h-4.8M91.75 541.87h4.8M520.25 541.87h-4.8M91.75 539.76h4.8M520.25 539.76h-4.8M91.75 537.64h4.8M520.25 537.64h-4.8M91.75 533.42h4.8M520.25 533.42h-4.8M91.75 531.3h4.8M520.25 531.3h-4.8M91.75 529.19h4.8M520.25 529.19h-4.8M91.75 527.08h4.8M520.25 527.08h-4.8M91.75 524.97h4.8M520.25 524.97h-4.8M91.75 522.85h4.8M520.25 522.85h-4.8M91.75 520.74h4.8M520.25 520.74h-4.8M91.75 518.63h4.8M520.25 518.63h-4.8M91.75 516.51h4.8M520.25 516.51h-4.8M91.75 512.29h4.8M520.25 512.29h-4.8M91.75 510.17h4.8M520.25 510.17h-4.8M91.75 508.06h4.8M520.25 508.06h-4.8" stroke="#000" stroke-width="0.75" fill="none"/>
<path d="M91.75 514.4h8.9M520.25 514.4h-8.9M91.75 535.53h8.9M520.25 535.53h-8.9M91.75 556.66h8.9M520.25 556.66h-8.9M91.75 577.79h8.9M520.25 577.79h-8.9" stroke="#000" stroke-width="1.1" fill="none"/>
<path d="M91.75 505.75v1.7M91.75 589.45v-1.7M127.46 505.75v1M127.46 589.45v-1M163.17 505.75v1M163.17 589.45v-1M198.88 505.75v1.7M198.88 589.45v-1.7M234.58 505.75v1M234.58 589.45v-1M270.29 505.75v1M270.29 589.45v-1M306 505.75v1.7M306 589.45v-1.7M341.71 505.75v1M341.71 589.45v-1M377.42 505.75v1M377.42 589.45v-1M413.12 505.75v1.7M413.12 589.45v-1.7M448.83 505.75v1M448.83 589.45v-1M484.54 505.75v1M484.54 589.45v-1M520.25 505.75v1.7M520.25 589.45v-1.7" stroke="#000" stroke-width="1.1" fill="none"/>
<path d="M91.75 672.16h4.8M520.25 672.16h-4.8M91.75 670.04h4.8M520.25 670.04h-4.8M91.75 667.93h4.8M520.25 667.93h-4.8M91.75 665.82h4.8M520.25 665.82h-4.8M91.75 663.7h4.8M520.25 663.7h-4.8M91.75 659.48h4.8M520.25 659.48h-4.8M91.75 657.36h4.8M520.25 657.36h-4.8M91.75 655.25h4.8M520.25 655.25h-4.8M91.75 653.14h4.8M520.25 653.14h-4.8M91.75 651.03h4.8M520.25 651.03h-4.8M91.75 648.91h4.8M520.25 648.91h-4.8M91.75 646.8h4.8M520.25 646.8h-4.8M91.75 644.69h4.8M520.25 644.69h-4.8M91.75 642.57h4.8M520.25 642.57h-4.8M91.75 638.35h4.8M520.25 638.35h-4.8M91.75 636.23h4.8M520.25 636.23h-4.8M91.75 634.12h4.8M520.25 634.12h-4.8M91.75 632.01h4.8M520.25 632.01h-4.8M91.75 629.9h4.8M520.25 629.9h-4.8M91.75 627.78h4.8M520.25 627.78h-4.8M91.75 625.67h4.8M520.25 625.67h-4.8M91.75 623.56h4.8M520.25 623.56h-4.8M91.75 621.44h4.8M520.25 621.44h-4.8M91.75 617.22h4.8M520.25 617.22h-4.8M91.75 615.1h4.8M520.25 615.1h-4.8M91.75 612.99h4.8M520.25 612.99h-4.8M91.75 610.88h4.8M520.25 610.88h-4.8M91.75 608.77h4.8M520.25 608.77h-4.8M91.75 606.65h4.8M520.25 606.65h-4.8M91.75 604.54h4.8M520.25 604.54h-4.8M91.75 602.43h4.8M520.25 602.43h-4.8M91.75 600.31h4.8M520.25 600.31h-4.8M91.75 596.09h4.8M520.25 596.09h-4.8M91.75 593.97h4.8M520.25 593.97h-4.8M91.75 591.86h4.8M520.25 591.86h-4.8" stroke="#000" stroke-width="0.75" fill="none"/>
<path d="M91.75 598.2h8.9M520.25 598.2h-8.9M91.75 619.33h8.9M520.25 619.33h-8.9M91.75 640.46h8.9M520.25 640.46h-8.9M91.75 661.59h8.9M520.25 661.59h-8.9" stroke="#000" stroke-width="1.1" fill="none"/>
<path d="M91.75 589.45v1.7M91.75 673.25v-1.7M127.46 589.45v1M127.46 673.25v-1M163.17 589.45v1M163.17 673.25v-1M198.88 589.45v1.7M198.88 673.25v-1.7M234.58 589.45v1M234.58 673.25v-1M270.29 589.45v1M270.29 673.25v-1M306 589.45v1.7M306 673.25v-1.7M341.71 589.45v1M341.71 673.25v-1M377.42 589.45v1M377.42 673.25v-1M413.12 589.45v1.7M413.12 673.25v-1.7M448.83 589.45v1M448.83 673.25v-1M484.54 589.45v1M484.54 673.25v-1M520.25 589.45v1.7M520.25 673.25v-1.7" stroke="#000" stroke-width="1.1" fill="none"/>
<rect x="91.75" y="79.25" width="428.5" height="167.5" fill="none" stroke="#000" stroke-width="1.45"/>
<rect x="91.75" y="246.75" width="428.5" height="83.6" fill="none" stroke="#000" stroke-width="1.45"/>
<rect x="91.75" y="338.25" width="428.5" height="83.55" fill="none" stroke="#000" stroke-width="1.45"/>
<rect x="91.75" y="421.8" width="428.5" height="83.95" fill="none" stroke="#000" stroke-width="1.45"/>
<rect x="91.75" y="505.75" width="428.5" height="83.7" fill="none" stroke="#000" stroke-width="1.45"/>
<rect x="91.75" y="589.45" width="428.5" height="83.8" fill="none" stroke="#000" stroke-width="1.45"/>
<defs><linearGradient id="cb" x1="0" y1="1" x2="0" y2="0">
<stop offset="0" stop-color="#000000"/>
<stop offset="0.161" stop-color="#000000"/>
<stop offset="0.171" stop-color="#1e001e"/>
<stop offset="0.185" stop-color="#410050"/>
<stop offset="0.201" stop-color="#48007d"/>
<stop offset="0.214" stop-color="#3c00aa"/>
<stop offset="0.231" stop-color="#2800eb"/>
<stop offset="0.248" stop-color="#0a00ff"/>
<stop offset="0.281" stop-color="#005aff"/>
<stop offset="0.305" stop-color="#0082ff"/>
<stop offset="0.355" stop-color="#00ffff"/>
<stop offset="0.412" stop-color="#00ff82"/>
<stop offset="0.49" stop-color="#00ff00"/>
<stop offset="0.627" stop-color="#82ff00"/>
<stop offset="0.735" stop-color="#ffff00"/>
<stop offset="0.86" stop-color="#ff8200"/>
<stop offset="0.97" stop-color="#ff2d00"/>
<stop offset="1" stop-color="#ff0000"/>
</linearGradient></defs>
<rect x="526.3" y="86.8" width="6" height="151.8" fill="url(#cb)"/>
<rect x="525.8" y="86.6" width="7" height="2.9" fill="#000"/>
<path d="M526.2 86.8V238.6M532.4 86.8V238.6" stroke="#000" stroke-width="1"/>
<rect x="526.3" y="346.1" width="6" height="68.2" fill="url(#cb)"/>
<rect x="525.8" y="345.9" width="7" height="1.2" fill="#000"/>
<path d="M526.2 346.1V414.3M532.4 346.1V414.3" stroke="#000" stroke-width="1"/>
<rect x="526.3" y="429.9" width="6" height="68.2" fill="url(#cb)"/>
<rect x="525.8" y="429.7" width="7" height="1.2" fill="#000"/>
<path d="M526.2 429.9V498.1M532.4 429.9V498.1" stroke="#000" stroke-width="1"/>
<rect x="526.3" y="513.7" width="6" height="68.2" fill="url(#cb)"/>
<rect x="525.8" y="513.5" width="7" height="1.2" fill="#000"/>
<path d="M526.2 513.7V581.9M532.4 513.7V581.9" stroke="#000" stroke-width="1"/>
<rect x="526.3" y="597.5" width="6" height="68.2" fill="url(#cb)"/>
<rect x="525.8" y="597.3" width="7" height="1.2" fill="#000"/>
<path d="M526.2 597.5V665.7M532.4 597.5V665.7" stroke="#000" stroke-width="1"/>
<g opacity="0.999">
<text x="191.8" y="73.1" font-size="12.5" textLength="25.2" lengthAdjust="spacingAndGlyphs" xml:space="preserve">SPC</text>
<text x="224.4" y="73.1" font-size="12.5" textLength="18.6" lengthAdjust="spacingAndGlyphs" xml:space="preserve">ion</text>
<text x="250.2" y="73.1" font-size="12.5" textLength="34.8" lengthAdjust="spacingAndGlyphs" xml:space="preserve">mode</text>
<text x="292.4" y="73.1" font-size="12.5" textLength="32.2" lengthAdjust="spacingAndGlyphs" xml:space="preserve">quick</text>
<text x="332.6" y="73.1" font-size="12.5" textLength="28.2" lengthAdjust="spacingAndGlyphs" xml:space="preserve">look,</text>
<text x="368.7" y="73.1" font-size="12.5" textLength="35.8" lengthAdjust="spacingAndGlyphs" xml:space="preserve">mode</text>
<text x="411" y="73.1" font-size="12.5" textLength="7.9" lengthAdjust="spacingAndGlyphs" xml:space="preserve">0</text>
<text x="68.8" y="99.9" font-size="10" textLength="18.7" lengthAdjust="spacingAndGlyphs" stroke="#000" stroke-width="0.75" xml:space="preserve">500</text>
<text x="68.8" y="142.27" font-size="10" textLength="18.7" lengthAdjust="spacingAndGlyphs" stroke="#000" stroke-width="0.75" xml:space="preserve">400</text>
<text x="68.8" y="184.64" font-size="10" textLength="18.7" lengthAdjust="spacingAndGlyphs" stroke="#000" stroke-width="0.75" xml:space="preserve">300</text>
<text x="68.8" y="227.01" font-size="10" textLength="18.7" lengthAdjust="spacingAndGlyphs" stroke="#000" stroke-width="0.75" xml:space="preserve">200</text>
<text x="102.3" y="89.1" font-size="10.3" textLength="28.2" lengthAdjust="spacingAndGlyphs" stroke="#000" stroke-width="0.95" xml:space="preserve">TOTAL</text>
<g transform="rotate(-90 60.3 163.4)" stroke="#000" stroke-width="0.7">
<text x="33.1" y="163.4" font-size="11" textLength="6">v</text>
<text x="38.3" y="166" font-size="7.2" textLength="7.6" lengthAdjust="spacingAndGlyphs">eq</text>
<text x="51.1" y="163.4" font-size="11" textLength="36.5" lengthAdjust="spacingAndGlyphs">[km/s]</text>
</g>
<g transform="rotate(-90 60.3 380.625)" stroke="#000" stroke-width="0.7">
<text x="33.1" y="380.625" font-size="11" textLength="6">v</text>
<text x="38.3" y="383.225" font-size="7.2" textLength="7.6" lengthAdjust="spacingAndGlyphs">eq</text>
<text x="51.1" y="380.625" font-size="11" textLength="36.5" lengthAdjust="spacingAndGlyphs">[km/s]</text>
</g>
<text x="68.8" y="350.7" font-size="10" textLength="18.7" lengthAdjust="spacingAndGlyphs" stroke="#000" stroke-width="0.75" xml:space="preserve">500</text>
<text x="68.8" y="371.83" font-size="10" textLength="18.7" lengthAdjust="spacingAndGlyphs" stroke="#000" stroke-width="0.75" xml:space="preserve">400</text>
<text x="68.8" y="392.96" font-size="10" textLength="18.7" lengthAdjust="spacingAndGlyphs" stroke="#000" stroke-width="0.75" xml:space="preserve">300</text>
<text x="68.8" y="414.09" font-size="10" textLength="18.7" lengthAdjust="spacingAndGlyphs" stroke="#000" stroke-width="0.75" xml:space="preserve">200</text>
<text x="102.9" y="347.75" font-size="9" textLength="6.6" lengthAdjust="spacingAndGlyphs" stroke="#000" stroke-width="1" xml:space="preserve">A</text>
<text x="114.2" y="347.75" font-size="9" textLength="26.5" lengthAdjust="spacingAndGlyphs" stroke="#000" stroke-width="1" xml:space="preserve">sensor</text>
<g transform="rotate(-90 60.3 464.375)" stroke="#000" stroke-width="0.7">
<text x="33.1" y="464.375" font-size="11" textLength="6">v</text>
<text x="38.3" y="466.975" font-size="7.2" textLength="7.6" lengthAdjust="spacingAndGlyphs">eq</text>
<text x="51.1" y="464.375" font-size="11" textLength="36.5" lengthAdjust="spacingAndGlyphs">[km/s]</text>
</g>
<text x="68.8" y="434.5" font-size="10" textLength="18.7" lengthAdjust="spacingAndGlyphs" stroke="#000" stroke-width="0.75" xml:space="preserve">500</text>
<text x="68.8" y="455.63" font-size="10" textLength="18.7" lengthAdjust="spacingAndGlyphs" stroke="#000" stroke-width="0.75" xml:space="preserve">400</text>
<text x="68.8" y="476.76" font-size="10" textLength="18.7" lengthAdjust="spacingAndGlyphs" stroke="#000" stroke-width="0.75" xml:space="preserve">300</text>
<text x="68.8" y="497.89" font-size="10" textLength="18.7" lengthAdjust="spacingAndGlyphs" stroke="#000" stroke-width="0.75" xml:space="preserve">200</text>
<text x="102.9" y="431.3" font-size="9" textLength="6.6" lengthAdjust="spacingAndGlyphs" stroke="#000" stroke-width="1" xml:space="preserve">B</text>
<text x="114.2" y="431.3" font-size="9" textLength="26.5" lengthAdjust="spacingAndGlyphs" stroke="#000" stroke-width="1" xml:space="preserve">sensor</text>
<g transform="rotate(-90 60.3 548.2)" stroke="#000" stroke-width="0.7">
<text x="33.1" y="548.2" font-size="11" textLength="6">v</text>
<text x="38.3" y="550.8" font-size="7.2" textLength="7.6" lengthAdjust="spacingAndGlyphs">eq</text>
<text x="51.1" y="548.2" font-size="11" textLength="36.5" lengthAdjust="spacingAndGlyphs">[km/s]</text>
</g>
<text x="68.8" y="518.3" font-size="10" textLength="18.7" lengthAdjust="spacingAndGlyphs" stroke="#000" stroke-width="0.75" xml:space="preserve">500</text>
<text x="68.8" y="539.43" font-size="10" textLength="18.7" lengthAdjust="spacingAndGlyphs" stroke="#000" stroke-width="0.75" xml:space="preserve">400</text>
<text x="68.8" y="560.56" font-size="10" textLength="18.7" lengthAdjust="spacingAndGlyphs" stroke="#000" stroke-width="0.75" xml:space="preserve">300</text>
<text x="68.8" y="581.69" font-size="10" textLength="18.7" lengthAdjust="spacingAndGlyphs" stroke="#000" stroke-width="0.75" xml:space="preserve">200</text>
<text x="102.9" y="515.25" font-size="9" textLength="6.6" lengthAdjust="spacingAndGlyphs" stroke="#000" stroke-width="1" xml:space="preserve">C</text>
<text x="114.2" y="515.25" font-size="9" textLength="26.5" lengthAdjust="spacingAndGlyphs" stroke="#000" stroke-width="1" xml:space="preserve">sensor</text>
<g transform="rotate(-90 60.3 631.95)" stroke="#000" stroke-width="0.7">
<text x="33.1" y="631.95" font-size="11" textLength="6">v</text>
<text x="38.3" y="634.55" font-size="7.2" textLength="7.6" lengthAdjust="spacingAndGlyphs">eq</text>
<text x="51.1" y="631.95" font-size="11" textLength="36.5" lengthAdjust="spacingAndGlyphs">[km/s]</text>
</g>
<text x="68.8" y="602.1" font-size="10" textLength="18.7" lengthAdjust="spacingAndGlyphs" stroke="#000" stroke-width="0.75" xml:space="preserve">500</text>
<text x="68.8" y="623.23" font-size="10" textLength="18.7" lengthAdjust="spacingAndGlyphs" stroke="#000" stroke-width="0.75" xml:space="preserve">400</text>
<text x="68.8" y="644.36" font-size="10" textLength="18.7" lengthAdjust="spacingAndGlyphs" stroke="#000" stroke-width="0.75" xml:space="preserve">300</text>
<text x="68.8" y="665.49" font-size="10" textLength="18.7" lengthAdjust="spacingAndGlyphs" stroke="#000" stroke-width="0.75" xml:space="preserve">200</text>
<text x="102.9" y="598.95" font-size="9" textLength="6.6" lengthAdjust="spacingAndGlyphs" stroke="#000" stroke-width="1" xml:space="preserve">D</text>
<text x="114.2" y="598.95" font-size="9" textLength="26.5" lengthAdjust="spacingAndGlyphs" stroke="#000" stroke-width="1" xml:space="preserve">sensor</text>
<text x="75.2" y="255.6" font-size="10" textLength="13" lengthAdjust="spacingAndGlyphs" xml:space="preserve">40</text>
<text x="75.2" y="274.2" font-size="10" textLength="13" lengthAdjust="spacingAndGlyphs" xml:space="preserve">20</text>
<text x="82" y="292.8" font-size="10" textLength="6.2" lengthAdjust="spacingAndGlyphs" xml:space="preserve">0</text>
<text x="67.7" y="311.4" font-size="10" textLength="20.5" lengthAdjust="spacingAndGlyphs" xml:space="preserve">−20</text>
<text x="67.7" y="330" font-size="10" textLength="20.5" lengthAdjust="spacingAndGlyphs" xml:space="preserve">−40</text>
<text x="58" y="311" font-size="11" textLength="45" lengthAdjust="spacingAndGlyphs" transform="rotate(-90 58 311)" xml:space="preserve">angle [°]</text>
<text x="434" y="257.1" font-size="10.5" textLength="75.4" lengthAdjust="spacingAndGlyphs" fill="#ff0000" stroke="#ff0000" stroke-width="0.15" xml:space="preserve">inflow azimuth</text>
<text x="435.8" y="266.6" font-size="10.5" textLength="73.6" lengthAdjust="spacingAndGlyphs" fill="#78ff00" stroke="#78ff00" stroke-width="0.15" xml:space="preserve">inflow altitude</text>
<text x="536.6" y="238.9" font-size="10" textLength="5.9" lengthAdjust="spacingAndGlyphs" xml:space="preserve">0</text>
<text x="536.6" y="211.84" font-size="10" textLength="5.9" lengthAdjust="spacingAndGlyphs" xml:space="preserve">2</text>
<text x="536.6" y="181.48" font-size="10" textLength="5.9" lengthAdjust="spacingAndGlyphs" xml:space="preserve">4</text>
<text x="536.6" y="151.12" font-size="10" textLength="5.9" lengthAdjust="spacingAndGlyphs" xml:space="preserve">6</text>
<text x="536.6" y="120.76" font-size="10" textLength="5.9" lengthAdjust="spacingAndGlyphs" xml:space="preserve">8</text>
<text x="536.5" y="94.1" font-size="10" textLength="11.6" lengthAdjust="spacingAndGlyphs" xml:space="preserve">10</text>
<text x="560.6" y="194.7" font-size="10.5" textLength="63.1" lengthAdjust="spacingAndGlyphs" transform="rotate(-90 560.6 194.7)" xml:space="preserve">current [pA]</text>
<text x="536.6" y="414.3" font-size="10" textLength="5.9" lengthAdjust="spacingAndGlyphs" xml:space="preserve">0</text>
<text x="536.6" y="404.26" font-size="10" textLength="5.9" lengthAdjust="spacingAndGlyphs" xml:space="preserve">2</text>
<text x="536.6" y="390.62" font-size="10" textLength="5.9" lengthAdjust="spacingAndGlyphs" xml:space="preserve">4</text>
<text x="536.6" y="376.98" font-size="10" textLength="5.9" lengthAdjust="spacingAndGlyphs" xml:space="preserve">6</text>
<text x="536.6" y="363.34" font-size="10" textLength="5.9" lengthAdjust="spacingAndGlyphs" xml:space="preserve">8</text>
<text x="536.5" y="353.2" font-size="10" textLength="11.6" lengthAdjust="spacingAndGlyphs" xml:space="preserve">10</text>
<text x="560.2" y="412.025" font-size="10.5" textLength="63.1" lengthAdjust="spacingAndGlyphs" transform="rotate(-90 560.2 412.025)" xml:space="preserve">current [pA]</text>
<text x="536.6" y="498.1" font-size="10" textLength="5.9" lengthAdjust="spacingAndGlyphs" xml:space="preserve">0</text>
<text x="536.6" y="488.06" font-size="10" textLength="5.9" lengthAdjust="spacingAndGlyphs" xml:space="preserve">2</text>
<text x="536.6" y="474.42" font-size="10" textLength="5.9" lengthAdjust="spacingAndGlyphs" xml:space="preserve">4</text>
<text x="536.6" y="460.78" font-size="10" textLength="5.9" lengthAdjust="spacingAndGlyphs" xml:space="preserve">6</text>
<text x="536.6" y="447.14" font-size="10" textLength="5.9" lengthAdjust="spacingAndGlyphs" xml:space="preserve">8</text>
<text x="536.5" y="437" font-size="10" textLength="11.6" lengthAdjust="spacingAndGlyphs" xml:space="preserve">10</text>
<text x="560.2" y="495.775" font-size="10.5" textLength="63.1" lengthAdjust="spacingAndGlyphs" transform="rotate(-90 560.2 495.775)" xml:space="preserve">current [pA]</text>
<text x="536.6" y="581.9" font-size="10" textLength="5.9" lengthAdjust="spacingAndGlyphs" xml:space="preserve">0</text>
<text x="536.6" y="571.86" font-size="10" textLength="5.9" lengthAdjust="spacingAndGlyphs" xml:space="preserve">2</text>
<text x="536.6" y="558.22" font-size="10" textLength="5.9" lengthAdjust="spacingAndGlyphs" xml:space="preserve">4</text>
<text x="536.6" y="544.58" font-size="10" textLength="5.9" lengthAdjust="spacingAndGlyphs" xml:space="preserve">6</text>
<text x="536.6" y="530.94" font-size="10" textLength="5.9" lengthAdjust="spacingAndGlyphs" xml:space="preserve">8</text>
<text x="536.5" y="520.8" font-size="10" textLength="11.6" lengthAdjust="spacingAndGlyphs" xml:space="preserve">10</text>
<text x="560.2" y="579.6" font-size="10.5" textLength="63.1" lengthAdjust="spacingAndGlyphs" transform="rotate(-90 560.2 579.6)" xml:space="preserve">current [pA]</text>
<text x="536.6" y="665.7" font-size="10" textLength="5.9" lengthAdjust="spacingAndGlyphs" xml:space="preserve">0</text>
<text x="536.6" y="655.66" font-size="10" textLength="5.9" lengthAdjust="spacingAndGlyphs" xml:space="preserve">2</text>
<text x="536.6" y="642.02" font-size="10" textLength="5.9" lengthAdjust="spacingAndGlyphs" xml:space="preserve">4</text>
<text x="536.6" y="628.38" font-size="10" textLength="5.9" lengthAdjust="spacingAndGlyphs" xml:space="preserve">6</text>
<text x="536.6" y="614.74" font-size="10" textLength="5.9" lengthAdjust="spacingAndGlyphs" xml:space="preserve">8</text>
<text x="536.5" y="604.6" font-size="10" textLength="11.6" lengthAdjust="spacingAndGlyphs" xml:space="preserve">10</text>
<text x="560.2" y="663.35" font-size="10.5" textLength="63.1" lengthAdjust="spacingAndGlyphs" transform="rotate(-90 560.2 663.35)" xml:space="preserve">current [pA]</text>
<text x="77.05" y="688.5" font-size="10" textLength="29.4" lengthAdjust="spacingAndGlyphs" stroke="#000" stroke-width="0.5" xml:space="preserve">00:00</text>
<text x="184.175" y="688.5" font-size="10" textLength="29.4" lengthAdjust="spacingAndGlyphs" stroke="#000" stroke-width="0.5" xml:space="preserve">06:00</text>
<text x="291.3" y="688.5" font-size="10" textLength="29.4" lengthAdjust="spacingAndGlyphs" stroke="#000" stroke-width="0.5" xml:space="preserve">12:00</text>
<text x="398.425" y="688.5" font-size="10" textLength="29.4" lengthAdjust="spacingAndGlyphs" stroke="#000" stroke-width="0.5" xml:space="preserve">18:00</text>
<text x="505.55" y="688.5" font-size="10" textLength="29.4" lengthAdjust="spacingAndGlyphs" stroke="#000" stroke-width="0.5" xml:space="preserve">00:00</text>
<text x="271.2" y="701.3" font-size="10" textLength="69.2" lengthAdjust="spacingAndGlyphs" stroke="#000" stroke-width="0.4" xml:space="preserve">2021−09−03</text>
<text x="64.9" y="759.9" font-size="7.1" textLength="283.3" lengthAdjust="spacingAndGlyphs" stroke="#000" stroke-width="0.2" xml:space="preserve">Generated on Tue Sep  7 13:46:08 2021 by mstevens@cfa.harvard.edu</text>
<text x="64.9" y="767.2" font-size="7.1" textLength="103.8" lengthAdjust="spacingAndGlyphs" stroke="#000" stroke-width="0.2" xml:space="preserve">For browse purposes only.</text>
</g>
</svg>
</body></html>
